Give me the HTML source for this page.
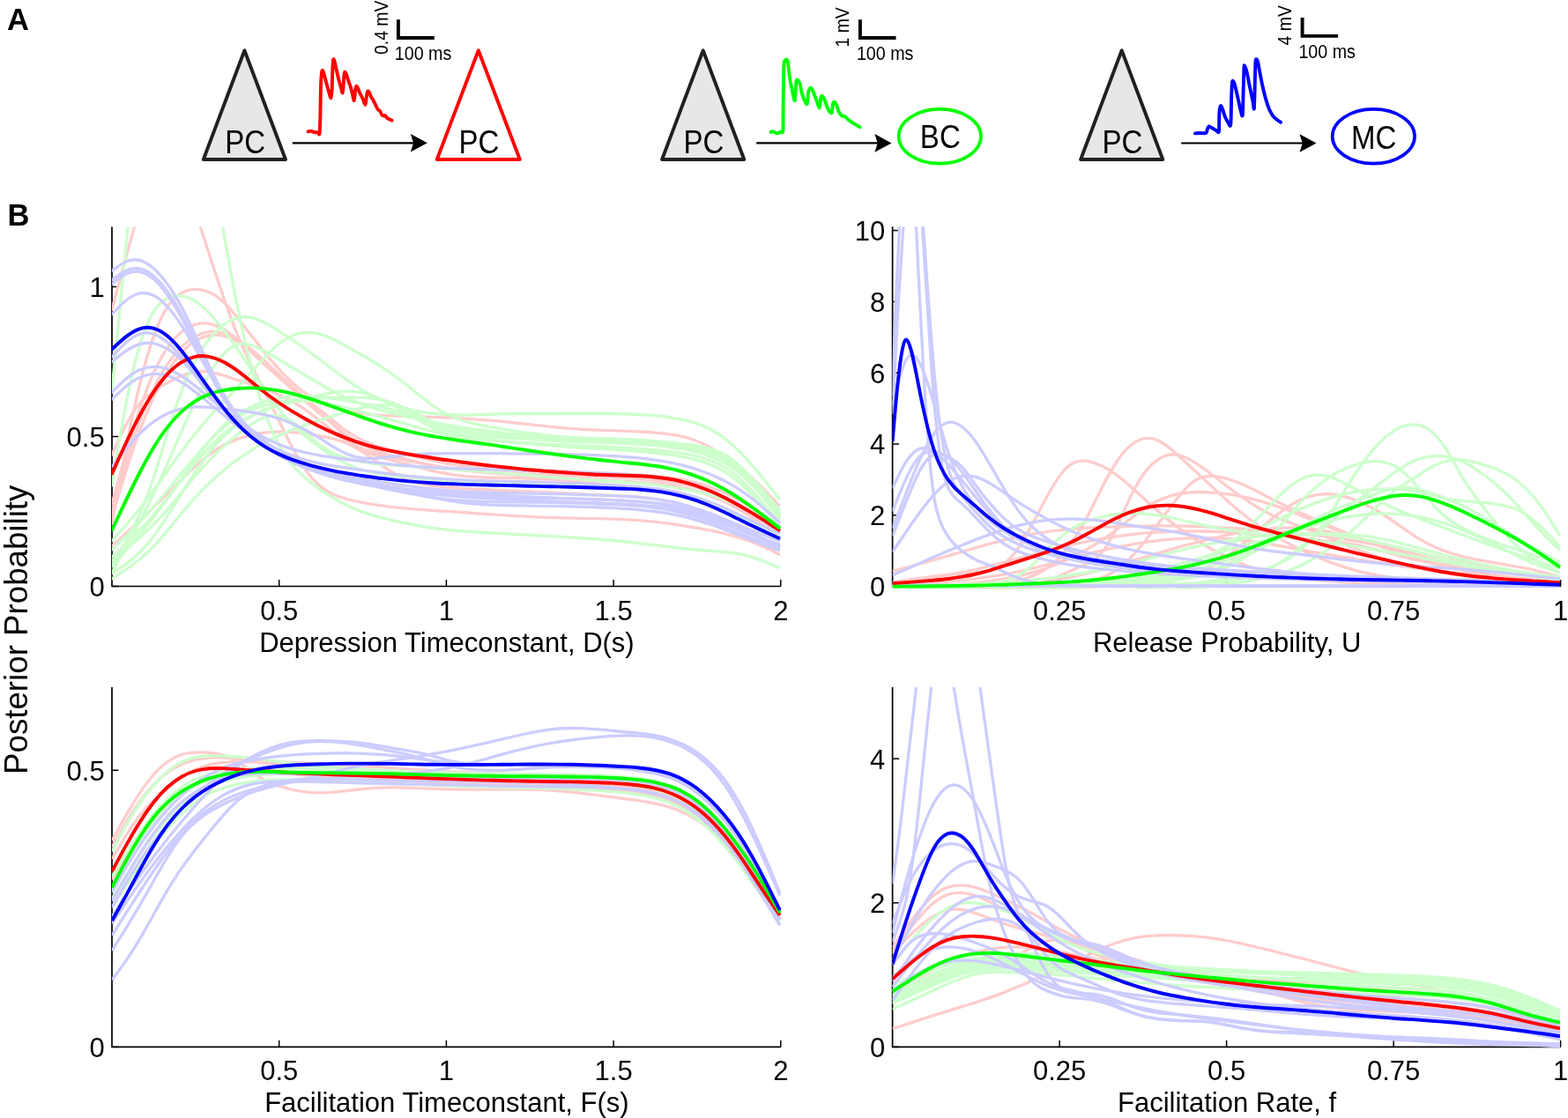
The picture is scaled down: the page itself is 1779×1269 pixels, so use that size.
<!DOCTYPE html><html><head><meta charset="utf-8"><title>Figure</title><style>html,body{margin:0;padding:0;background:#fff;}svg{display:block;}text{font-family:'Liberation Sans', Arial, Helvetica, sans-serif;}</style></head><body>
<svg width="1779" height="1269" viewBox="0 0 1779 1269">
<rect width="1779" height="1269" fill="#fff"/>
<text x="8" y="33.6" font-size="34.5" font-weight="bold">A</text>
<text x="8.5" y="255.7" font-size="34.5" font-weight="bold">B</text>
<polygon points="277.4,57.2 230.8,181 324.0,181" fill="#e6e7e8" stroke="#231f20" stroke-width="3.9" stroke-linejoin="round"/>
<text transform="translate(278.1 173.8) scale(0.885 1)" font-size="37.3" text-anchor="middle">PC</text>
<polygon points="797.7,57.2 751.1,181 844.3,181" fill="#e6e7e8" stroke="#231f20" stroke-width="3.9" stroke-linejoin="round"/>
<text transform="translate(798.4 173.8) scale(0.885 1)" font-size="37.3" text-anchor="middle">PC</text>
<polygon points="1272.7,57.2 1226.1,181 1319.3,181" fill="#e6e7e8" stroke="#231f20" stroke-width="3.9" stroke-linejoin="round"/>
<text transform="translate(1273.4 173.8) scale(0.885 1)" font-size="37.3" text-anchor="middle">PC</text>
<polygon points="542.8,57.2 495.8,181 589.8,181" fill="none" stroke="#ff0000" stroke-width="3.9" stroke-linejoin="round"/>
<text transform="translate(543.5 173.7) scale(0.885 1)" font-size="37.3" text-anchor="middle">PC</text>
<ellipse cx="1066.3" cy="154.8" rx="46.7" ry="30.85" fill="none" stroke="#00ff00" stroke-width="3.7"/>
<text transform="translate(1066.8 168.4) scale(0.885 1)" font-size="37.3" text-anchor="middle">BC</text>
<ellipse cx="1558.35" cy="154.8" rx="46.7" ry="30.85" fill="none" stroke="#0000ff" stroke-width="3.7"/>
<text transform="translate(1558.7 168.6) scale(0.885 1)" font-size="37.3" text-anchor="middle">MC</text>
<line x1="331.7" y1="162.3" x2="474.8" y2="162.3" stroke="#000" stroke-width="2.2"/>
<path d="M484.8 162.3 L465.8 152.0 L469.1 162.3 L465.8 172.6 Z" fill="#000"/>
<line x1="858.2" y1="162.4" x2="1001.4" y2="162.4" stroke="#000" stroke-width="2.2"/>
<path d="M1011.4 162.4 L992.4 152.1 L995.7 162.4 L992.4 172.7 Z" fill="#000"/>
<line x1="1340.2" y1="162.5" x2="1483.5" y2="162.5" stroke="#000" stroke-width="2.2"/>
<path d="M1493.5 162.5 L1474.5 152.2 L1477.8 162.5 L1474.5 172.8 Z" fill="#000"/>
<path d="M451.9 22.2 L451.9 43.0 L492.8 43.0" fill="none" stroke="#000" stroke-width="3.9" stroke-linejoin="miter"/>
<text transform="translate(447.8 67.7) scale(0.915 1)" font-size="21.5">100 ms</text>
<text transform="translate(439.7 62.0) rotate(-90) scale(0.89 1)" font-size="21.8">0.4 mV</text>
<path d="M975.9 22.2 L975.9 43.0 L1016.5 43.0" fill="none" stroke="#000" stroke-width="3.9" stroke-linejoin="miter"/>
<text transform="translate(971.9 67.7) scale(0.915 1)" font-size="21.5">100 ms</text>
<text transform="translate(962.8 53.5) rotate(-90) scale(0.89 1)" font-size="21.8">1 mV</text>
<path d="M1477.6 20.1 L1477.6 40.9 L1518.1 40.9" fill="none" stroke="#000" stroke-width="3.9" stroke-linejoin="miter"/>
<text transform="translate(1473.4 65.6) scale(0.915 1)" font-size="21.5">100 ms</text>
<text transform="translate(1464.7 51.4) rotate(-90) scale(0.89 1)" font-size="21.8">4 mV</text>
<path d="M349.5 149.4 C349.8 149.3 351.3 148.6 352.0 148.6 C352.7 148.6 354.2 149.4 355.0 149.6 C355.8 149.8 357.2 150.1 358.0 150.2 C358.8 150.3 360.4 150.3 361.0 150.5 C361.6 150.7 362.3 154.2 362.6 151.5 C362.9 148.8 363.2 137.5 363.4 130.0 C363.6 122.5 363.8 101.6 364.1 95.0 C364.4 88.4 364.9 82.3 365.3 80.6 C365.7 78.9 366.4 80.3 367.0 82.0 C367.6 83.7 369.2 90.1 370.0 93.0 C370.8 95.9 372.3 101.6 373.0 104.0 C373.7 106.4 375.0 111.7 375.5 111.2 C376.0 110.7 376.5 104.3 376.7 100.0 C376.9 95.7 377.1 83.3 377.3 79.0 C377.5 74.7 377.9 68.9 378.2 67.6 C378.5 66.3 378.9 67.9 379.3 69.0 C379.7 70.1 380.4 73.3 381.0 76.0 C381.6 78.7 383.2 85.8 384.0 89.0 C384.8 92.2 386.4 97.8 387.0 100.0 C387.6 102.2 388.3 106.0 388.7 105.5 C389.1 105.0 389.5 98.7 389.7 96.0 C389.9 93.3 390.2 86.9 390.4 85.0 C390.6 83.1 391.0 81.7 391.3 81.6 C391.6 81.5 392.3 82.7 392.8 84.0 C393.3 85.3 394.4 89.2 395.0 91.0 C395.6 92.8 396.8 95.5 397.4 97.4 C398.0 99.3 398.9 102.8 399.5 105.0 C400.1 107.2 401.3 114.5 401.8 114.2 C402.3 113.9 402.7 105.2 403.0 103.0 C403.3 100.8 403.8 98.5 404.1 98.0 C404.4 97.5 405.0 98.1 405.5 99.0 C406.0 99.9 407.2 103.3 408.0 105.0 C408.8 106.7 410.6 110.1 411.5 112.0 C412.4 113.9 413.8 119.1 414.4 119.0 C415.0 118.9 415.4 112.9 415.7 111.0 C416.0 109.1 416.3 106.0 416.6 105.0 C416.9 104.0 417.3 103.3 417.6 103.3 C417.9 103.3 418.5 104.1 419.0 105.0 C419.5 105.9 420.4 108.8 421.0 110.0 C421.6 111.2 422.9 112.7 423.6 113.9 C424.3 115.1 425.3 117.6 426.0 119.0 C426.7 120.4 428.1 123.5 428.8 124.4 C429.5 125.3 430.5 125.1 431.1 125.9 C431.7 126.7 432.7 129.7 433.3 130.4 C433.9 131.1 435.0 131.4 435.5 131.5 C436.0 131.6 436.6 130.8 437.1 131.1 C437.6 131.4 438.6 133.5 439.3 134.1 C440.0 134.7 441.3 135.2 442.0 135.5 C442.7 135.8 444.3 136.5 444.6 136.7" fill="none" stroke="#ff0000" stroke-width="3.9" stroke-linejoin="round" stroke-linecap="round"/>
<path d="M874.5 149.9 C874.9 149.8 876.6 149.1 877.5 149.3 C878.4 149.5 880.2 151.3 881.2 151.4 C882.2 151.5 884.1 150.1 885.0 149.8 C885.9 149.5 887.8 152.3 888.3 149.0 C888.8 145.7 888.5 134.2 888.6 125.0 C888.7 115.8 888.9 87.4 889.1 80.0 C889.3 72.6 889.5 71.2 890.0 69.5 C890.5 67.8 892.0 67.3 892.5 67.5 C893.0 67.7 893.5 68.2 894.0 71.2 C894.5 74.2 895.6 86.0 896.2 90.0 C896.8 94.0 897.8 98.0 898.5 101.2 C899.2 104.4 901.2 115.2 901.8 114.3 C902.4 113.4 902.9 97.4 903.3 94.2 C903.7 91.0 903.9 90.3 904.5 90.4 C905.1 90.5 906.7 92.9 907.5 95.2 C908.3 97.5 909.3 104.9 910.4 108.0 C911.5 111.1 914.7 118.9 915.6 118.4 C916.5 117.9 916.6 106.9 917.2 104.4 C917.8 101.9 919.1 99.7 919.8 99.6 C920.5 99.5 921.5 101.3 922.4 103.4 C923.3 105.5 925.9 112.9 926.9 115.4 C927.9 117.9 929.3 122.9 929.8 122.5 C930.3 122.1 930.6 114.5 931.0 112.6 C931.4 110.7 931.9 108.6 932.5 108.6 C933.1 108.6 934.2 110.3 935.2 112.4 C936.2 114.5 938.6 122.3 939.7 124.4 C940.8 126.5 942.9 128.9 943.6 128.1 C944.3 127.3 944.5 120.3 944.9 118.6 C945.3 116.9 945.8 115.5 946.4 115.7 C947.0 115.9 948.7 118.4 949.4 119.9 C950.1 121.4 950.8 125.1 951.6 126.7 C952.4 128.3 954.5 130.9 955.4 131.6 C956.3 132.3 957.6 131.5 958.4 131.9 C959.2 132.3 960.2 133.9 961.4 134.9 C962.6 135.9 965.5 138.1 967.4 139.4 C969.3 140.7 974.5 143.6 975.6 144.3" fill="none" stroke="#00ff00" stroke-width="3.9" stroke-linejoin="round" stroke-linecap="round"/>
<path d="M1356.0 151.4 C1356.7 151.3 1359.5 151.1 1361.2 151.0 C1362.9 150.9 1367.2 151.6 1368.4 151.0 C1369.6 150.4 1369.5 147.3 1369.9 146.3 C1370.3 145.3 1371.1 143.6 1371.7 143.4 C1372.3 143.2 1373.6 144.4 1374.7 145.0 C1375.8 145.6 1378.9 147.6 1380.0 148.2 C1381.1 148.8 1382.4 151.9 1382.9 149.2 C1383.4 146.5 1383.1 131.9 1383.4 128.0 C1383.7 124.1 1384.4 120.9 1384.8 120.2 C1385.2 119.5 1386.0 121.3 1386.7 122.9 C1387.4 124.5 1388.8 129.7 1389.7 131.9 C1390.6 134.1 1392.5 137.9 1393.4 139.2 C1394.3 140.5 1395.8 145.2 1396.3 141.6 C1396.8 138.0 1396.9 118.7 1397.1 112.4 C1397.3 106.1 1397.6 96.7 1397.9 94.0 C1398.2 91.3 1398.7 91.8 1399.1 92.1 C1399.5 92.4 1400.3 93.8 1400.9 96.0 C1401.5 98.2 1403.0 104.7 1403.9 108.7 C1404.8 112.7 1406.9 123.0 1407.7 125.9 C1408.5 128.8 1409.4 133.6 1409.8 130.8 C1410.2 128.0 1410.4 112.2 1410.6 105.0 C1410.8 97.8 1411.2 81.0 1411.4 77.0 C1411.6 73.0 1411.8 74.4 1412.2 74.9 C1412.6 75.4 1413.7 78.2 1414.4 81.0 C1415.1 83.8 1416.5 91.6 1417.4 96.0 C1418.3 100.4 1420.5 110.3 1421.2 113.9 C1421.9 117.5 1422.6 125.5 1422.9 123.3 C1423.2 121.1 1423.5 104.6 1423.7 97.5 C1423.9 90.4 1424.2 74.0 1424.5 70.0 C1424.8 66.0 1425.3 67.3 1425.7 67.4 C1426.1 67.5 1426.7 68.5 1427.2 70.5 C1427.7 72.5 1428.7 78.9 1429.4 82.5 C1430.1 86.1 1431.5 93.5 1432.4 97.5 C1433.3 101.5 1435.1 108.9 1436.1 112.4 C1437.1 115.9 1438.8 121.1 1439.9 123.7 C1441.0 126.3 1443.2 130.3 1444.4 131.9 C1445.6 133.5 1447.8 135.1 1448.9 136.0 C1450.0 136.9 1452.5 138.3 1453.0 138.7" fill="none" stroke="#0000ff" stroke-width="3.9" stroke-linejoin="round" stroke-linecap="round"/>
<path d="M127.0 257.4 L127.0 665.5 L885.8 665.5" fill="none" stroke="#000" stroke-width="1.7" stroke-linejoin="round"/>
<line x1="316.7" y1="665.5" x2="316.7" y2="658.0" stroke="#000" stroke-width="1.5"/>
<text x="316.7" y="703.5" font-size="31" text-anchor="middle">0.5</text>
<line x1="506.4" y1="665.5" x2="506.4" y2="658.0" stroke="#000" stroke-width="1.5"/>
<text x="506.4" y="703.5" font-size="31" text-anchor="middle">1</text>
<line x1="696.1" y1="665.5" x2="696.1" y2="658.0" stroke="#000" stroke-width="1.5"/>
<text x="696.1" y="703.5" font-size="31" text-anchor="middle">1.5</text>
<line x1="885.8" y1="665.5" x2="885.8" y2="658.0" stroke="#000" stroke-width="1.5"/>
<text x="885.8" y="703.5" font-size="31" text-anchor="middle">2</text>
<line x1="127.0" y1="665.5" x2="134.5" y2="665.5" stroke="#000" stroke-width="1.5"/>
<text x="118.7" y="676.8" font-size="31" text-anchor="end">0</text>
<line x1="127.0" y1="495.5" x2="134.5" y2="495.5" stroke="#000" stroke-width="1.5"/>
<text x="118.7" y="506.8" font-size="31" text-anchor="end">0.5</text>
<line x1="127.0" y1="325.5" x2="134.5" y2="325.5" stroke="#000" stroke-width="1.5"/>
<text x="118.7" y="336.8" font-size="31" text-anchor="end">1</text>
<text x="506.9" y="739.5" font-size="31" text-anchor="middle">Depression Timeconstant, D(s)</text>
<clipPath id="clipTL"><rect x="127.0" y="257.4" width="759.8" height="411.1"/></clipPath>
<g fill="none" stroke-linejoin="round" stroke-linecap="butt" clip-path="url(#clipTL)">
<path d="M126.6 352.7 C131.8 333.0 137.1 313.4 142.3 294.2 C147.5 275.1 152.8 256.3 158.0 237.5" stroke="#ffcccc" stroke-width="3.3"/>
<path d="M222.0 240.6 C227.3 257.0 232.5 273.5 237.8 289.7 C243.0 305.9 248.3 321.9 253.6 337.3 C258.8 352.7 264.1 367.1 269.4 379.9 C274.6 392.7 279.9 404.0 285.1 414.5 C290.4 425.1 295.7 435.2 300.9 445.7 C306.2 456.2 311.5 467.1 316.7 478.0 C322.0 488.9 327.2 499.8 332.5 509.6 C337.8 519.5 343.0 528.4 348.3 535.5 C353.5 542.7 358.8 548.2 364.1 552.5 C369.3 556.8 374.6 559.7 379.9 562.0 C385.1 564.2 390.4 565.7 395.6 567.0 C400.9 568.2 406.2 569.3 411.4 570.4 C416.7 571.4 422.0 572.3 427.2 573.1 C432.5 573.9 437.7 574.6 443.0 575.3 C448.3 575.9 453.5 576.4 458.8 576.9 C464.0 577.4 469.3 577.8 474.6 578.2 C479.8 578.6 485.1 579.0 490.4 579.3 C495.6 579.7 500.9 580.0 506.1 580.3 C511.4 580.7 516.7 581.1 521.9 581.4 C527.2 581.8 532.5 582.1 537.7 582.5 C543.0 582.9 548.2 583.2 553.5 583.6 C558.8 583.9 564.0 584.3 569.3 584.6 C574.5 584.9 579.8 585.3 585.1 585.6 C590.3 585.9 595.6 586.1 600.9 586.4 C606.1 586.7 611.4 586.9 616.6 587.2 C621.9 587.4 627.2 587.6 632.4 587.7 C637.7 587.9 643.0 588.0 648.2 588.1 C653.5 588.3 658.7 588.3 664.0 588.4 C669.3 588.5 674.5 588.6 679.8 588.7 C685.0 588.8 690.3 589.0 695.6 589.1 C700.8 589.3 706.1 589.5 711.4 589.8 C716.6 590.1 721.9 590.4 727.1 590.8 C732.4 591.2 737.7 591.7 742.9 592.3 C748.2 592.9 753.5 593.5 758.7 594.2 C764.0 595.0 769.2 595.7 774.5 596.6 C779.8 597.4 785.0 598.3 790.3 599.2 C795.5 600.1 800.8 601.1 806.1 602.2 C811.3 603.2 816.6 604.4 821.9 605.6 C827.1 606.9 832.4 608.3 837.6 609.9 C842.9 611.5 848.2 613.3 853.4 615.3 C858.7 617.4 864.0 619.6 869.2 622.1 C874.5 624.5 879.7 627.1 885.0 629.7" stroke="#ffcccc" stroke-width="3.3"/>
<path d="M126.6 595.6 C131.9 566.5 137.1 537.4 142.4 510.7 C147.7 484.0 152.9 459.4 158.2 437.9 C163.4 416.3 168.7 397.8 174.0 382.9 C179.2 368.0 184.5 356.6 189.8 348.6 C195.0 340.7 200.3 335.9 205.5 332.9 C210.8 329.8 216.1 328.5 221.3 328.4 C226.6 328.3 231.9 329.4 237.1 331.7 C242.4 333.9 247.7 337.4 252.9 342.2 C258.2 346.9 263.4 353.1 268.7 359.7 C274.0 366.3 279.2 373.3 284.5 380.1 C289.8 387.0 295.0 393.7 300.3 400.2 C305.5 406.6 310.8 412.8 316.1 418.6 C321.3 424.3 326.6 429.6 331.9 434.4 C337.1 439.2 342.4 443.4 347.7 447.1 C352.9 450.8 358.2 453.9 363.4 456.5 C368.7 459.1 374.0 461.2 379.2 462.9 C384.5 464.7 389.8 466.0 395.0 467.1 C400.3 468.2 405.5 469.0 410.8 469.7 C416.1 470.3 421.3 470.8 426.6 471.1 C431.9 471.5 437.1 471.7 442.4 471.9 C447.7 472.0 452.9 472.2 458.2 472.4 C463.4 472.5 468.7 472.7 474.0 472.8 C479.2 473.0 484.5 473.1 489.8 473.3 C495.0 473.5 500.3 473.7 505.5 474.0 C510.8 474.2 516.1 474.5 521.3 474.8 C526.6 475.1 531.9 475.4 537.1 475.8 C542.4 476.1 547.7 476.5 552.9 476.9 C558.2 477.4 563.4 477.8 568.7 478.4 C574.0 478.9 579.2 479.4 584.5 480.0 C589.8 480.5 595.0 481.1 600.3 481.7 C605.6 482.3 610.8 482.9 616.1 483.4 C621.3 484.0 626.6 484.5 631.9 485.0 C637.1 485.5 642.4 486.0 647.7 486.4 C652.9 486.8 658.2 487.2 663.4 487.5 C668.7 487.8 674.0 488.0 679.2 488.2 C684.5 488.4 689.8 488.6 695.0 488.7 C700.3 488.9 705.6 489.1 710.8 489.3 C716.1 489.5 721.3 489.7 726.6 490.0 C731.9 490.3 737.1 490.6 742.4 491.1 C747.7 491.5 752.9 492.0 758.2 492.7 C763.4 493.4 768.7 494.2 774.0 495.4 C779.2 496.6 784.5 498.2 789.8 500.2 C795.0 502.2 800.3 504.7 805.6 507.6 C810.8 510.5 816.1 513.8 821.3 517.4 C826.6 521.0 831.9 524.8 837.1 528.9 C842.4 533.0 847.7 537.4 852.9 542.2 C858.2 546.9 863.4 552.1 868.7 557.6 C874.0 563.0 879.2 568.7 884.5 574.4" stroke="#ffcccc" stroke-width="3.3"/>
<path d="M126.6 573.3 C131.9 554.0 137.1 534.8 142.4 516.4 C147.7 498.1 152.9 480.8 158.2 465.2 C163.5 449.6 168.7 435.7 174.0 423.9 C179.3 412.2 184.5 402.7 189.8 395.1 C195.1 387.4 200.3 381.6 205.6 377.2 C210.9 372.8 216.1 369.9 221.4 368.3 C226.7 366.7 231.9 366.4 237.2 367.3 C242.5 368.3 247.7 370.4 253.0 373.4 C258.3 376.4 263.5 380.3 268.8 384.7 C274.1 389.1 279.3 394.1 284.6 399.1 C289.9 404.2 295.1 409.3 300.4 414.1 C305.7 419.0 310.9 423.7 316.2 428.2 C321.5 432.8 326.7 437.2 332.0 441.4 C337.3 445.6 342.5 449.7 347.8 453.7 C353.1 457.8 358.3 461.8 363.6 465.9 C368.9 470.0 374.1 474.4 379.4 478.6 C384.7 482.9 389.9 487.0 395.2 490.7 C400.5 494.3 405.7 497.3 411.0 499.8 C416.3 502.3 421.5 504.3 426.8 506.0 C432.1 507.8 437.3 509.2 442.6 510.6 C447.9 512.0 453.1 513.3 458.4 514.7 C463.7 516.1 468.9 517.5 474.2 518.9 C479.5 520.2 484.7 521.5 490.0 522.7 C495.3 523.9 500.5 525.0 505.8 525.9 C511.1 526.8 516.3 527.6 521.6 528.3 C526.9 528.9 532.1 529.5 537.4 529.9 C542.7 530.4 547.9 530.8 553.2 531.1 C558.5 531.4 563.7 531.7 569.0 531.9 C574.3 532.1 579.5 532.3 584.8 532.5 C590.1 532.7 595.3 532.9 600.6 533.1 C605.9 533.3 611.1 533.5 616.4 533.7 C621.7 534.0 626.9 534.2 632.2 534.5 C637.5 534.7 642.7 535.0 648.0 535.3 C653.3 535.6 658.5 535.8 663.8 536.1 C669.1 536.4 674.3 536.7 679.6 536.9 C684.9 537.2 690.1 537.5 695.4 537.7 C700.7 537.9 705.9 538.2 711.2 538.4 C716.5 538.7 721.7 538.9 727.0 539.2 C732.3 539.5 737.5 539.9 742.8 540.4 C748.1 540.8 753.3 541.4 758.6 542.1 C763.9 542.8 769.1 543.6 774.4 544.7 C779.7 545.7 784.9 546.9 790.2 548.2 C795.5 549.6 800.7 551.2 806.0 553.0 C811.3 554.9 816.5 556.9 821.8 559.2 C827.1 561.6 832.3 564.1 837.6 567.0 C842.9 569.9 848.1 573.0 853.4 576.5 C858.7 580.0 863.9 583.8 869.2 587.7 C874.5 591.6 879.7 595.7 885.0 599.7" stroke="#ffcccc" stroke-width="3.3"/>
<path d="M126.6 582.7 C131.9 563.7 137.1 544.8 142.4 527.2 C147.7 509.5 152.9 493.3 158.2 479.1 C163.5 464.9 168.7 452.5 174.0 441.6 C179.3 430.8 184.5 421.5 189.8 413.7 C195.1 405.8 200.3 399.3 205.6 394.1 C210.9 388.8 216.1 384.8 221.4 381.9 C226.7 379.0 231.9 377.3 237.2 376.7 C242.5 376.0 247.7 376.5 253.0 378.0 C258.3 379.4 263.5 381.8 268.8 385.0 C274.1 388.1 279.3 391.9 284.6 396.2 C289.9 400.5 295.1 405.2 300.4 410.0 C305.7 414.8 310.9 419.7 316.2 424.6 C321.5 429.5 326.7 434.4 332.0 439.3 C337.3 444.2 342.5 449.0 347.8 453.8 C353.1 458.6 358.3 463.4 363.6 468.3 C368.9 473.2 374.1 478.1 379.4 483.3 C384.7 488.5 389.9 493.9 395.2 498.6 C400.5 503.3 405.7 507.1 411.0 510.1 C416.3 513.1 421.5 515.4 426.8 517.2 C432.1 519.1 437.3 520.5 442.6 521.9 C447.9 523.2 453.1 524.6 458.4 526.0 C463.7 527.4 468.9 528.9 474.2 530.3 C479.5 531.7 484.7 533.1 490.0 534.3 C495.3 535.5 500.5 536.6 505.8 537.5 C511.1 538.4 516.3 539.2 521.6 539.8 C526.9 540.4 532.1 540.8 537.4 541.2 C542.7 541.5 547.9 541.8 553.2 542.0 C558.5 542.2 563.7 542.3 569.0 542.4 C574.3 542.6 579.5 542.6 584.8 542.7 C590.1 542.8 595.3 543.0 600.6 543.1 C605.9 543.3 611.1 543.5 616.4 543.8 C621.7 544.0 626.9 544.3 632.2 544.5 C637.5 544.8 642.7 545.0 648.0 545.3 C653.3 545.5 658.5 545.7 663.8 545.8 C669.1 546.0 674.3 546.1 679.6 546.2 C684.9 546.3 690.1 546.4 695.4 546.6 C700.7 546.7 705.9 546.8 711.2 547.0 C716.5 547.3 721.7 547.5 727.0 547.8 C732.3 548.2 737.5 548.6 742.8 549.1 C748.1 549.6 753.3 550.3 758.6 551.0 C763.9 551.8 769.1 552.7 774.4 553.7 C779.7 554.8 784.9 556.0 790.2 557.4 C795.5 558.8 800.7 560.4 806.0 562.1 C811.3 563.9 816.5 565.9 821.8 568.1 C827.1 570.3 832.3 572.7 837.6 575.4 C842.9 578.1 848.1 581.1 853.4 584.3 C858.7 587.6 863.9 591.1 869.2 594.7 C874.5 598.3 879.7 602.0 885.0 605.8" stroke="#ffcccc" stroke-width="3.3"/>
<path d="M126.6 588.3 C131.9 570.6 137.1 552.9 142.4 536.2 C147.7 519.4 152.9 503.7 158.2 489.7 C163.5 475.6 168.7 463.0 174.0 451.8 C179.3 440.6 184.5 430.8 189.8 422.3 C195.1 413.8 200.3 406.6 205.6 400.8 C210.9 394.9 216.1 390.4 221.4 387.1 C226.7 383.8 231.9 381.7 237.2 380.8 C242.5 379.8 247.7 380.0 253.0 381.2 C258.3 382.3 263.5 384.4 268.8 387.3 C274.1 390.1 279.3 393.7 284.6 397.8 C289.9 402.0 295.1 406.6 300.4 411.4 C305.7 416.3 310.9 421.4 316.2 426.6 C321.5 431.7 326.7 437.0 332.0 442.0 C337.3 447.1 342.5 452.1 347.8 456.8 C353.1 461.4 358.3 465.9 363.6 470.3 C368.9 474.6 374.1 478.9 379.4 483.1 C384.7 487.3 389.9 491.5 395.2 495.3 C400.5 499.1 405.7 502.3 411.0 505.0 C416.3 507.6 421.5 509.8 426.8 511.6 C432.1 513.5 437.3 515.0 442.6 516.5 C447.9 517.9 453.1 519.2 458.4 520.6 C463.7 521.9 468.9 523.2 474.2 524.5 C479.5 525.7 484.7 526.9 490.0 528.0 C495.3 529.1 500.5 530.0 505.8 530.9 C511.1 531.7 516.3 532.5 521.6 533.1 C526.9 533.8 532.1 534.3 537.4 534.8 C542.7 535.3 547.9 535.7 553.2 536.0 C558.5 536.3 563.7 536.6 569.0 536.9 C574.3 537.1 579.5 537.3 584.8 537.5 C590.1 537.7 595.3 537.9 600.6 538.1 C605.9 538.2 611.1 538.4 616.4 538.6 C621.7 538.8 626.9 538.9 632.2 539.1 C637.5 539.3 642.7 539.5 648.0 539.7 C653.3 539.9 658.5 540.1 663.8 540.3 C669.1 540.5 674.3 540.7 679.6 541.0 C684.9 541.2 690.1 541.5 695.4 541.7 C700.7 542.0 705.9 542.3 711.2 542.6 C716.5 542.9 721.7 543.2 727.0 543.6 C732.3 544.0 737.5 544.5 742.8 545.0 C748.1 545.6 753.3 546.2 758.6 547.0 C763.9 547.8 769.1 548.6 774.4 549.7 C779.7 550.7 784.9 551.9 790.2 553.3 C795.5 554.7 800.7 556.3 806.0 558.1 C811.3 560.0 816.5 562.0 821.8 564.4 C827.1 566.7 832.3 569.3 837.6 572.1 C842.9 574.9 848.1 578.0 853.4 581.3 C858.7 584.6 863.9 588.1 869.2 591.7 C874.5 595.3 879.7 599.1 885.0 602.8" stroke="#ffcccc" stroke-width="3.3"/>
<path d="M126.6 517.1 C131.9 505.3 137.1 493.5 142.4 483.2 C147.7 472.9 152.9 464.6 158.2 458.3 C163.5 452.1 168.7 447.6 174.0 444.0 C179.3 440.4 184.5 437.5 189.8 434.6 C195.1 431.7 200.3 429.0 205.6 426.7 C210.9 424.5 216.1 422.8 221.4 422.0 C226.7 421.2 231.9 421.4 237.2 422.2 C242.5 423.0 247.7 424.4 253.0 426.0 C258.3 427.6 263.5 429.4 268.8 431.0 C274.1 432.7 279.3 434.4 284.6 436.1 C289.9 437.8 295.1 439.6 300.4 441.5 C305.7 443.4 310.9 445.5 316.2 447.9 C321.5 450.2 326.7 452.8 332.0 455.8 C337.3 458.8 342.5 462.3 347.8 466.1 C353.1 469.9 358.3 474.0 363.6 478.1 C368.9 482.3 374.1 486.4 379.4 490.4 C384.7 494.4 389.9 498.1 395.2 501.4 C400.5 504.6 405.7 507.3 411.0 509.5 C416.3 511.7 421.5 513.5 426.8 515.0 C432.1 516.5 437.3 517.7 442.6 518.8 C447.9 519.9 453.1 521.0 458.4 522.1 C463.7 523.2 468.9 524.3 474.2 525.3 C479.5 526.3 484.7 527.3 490.0 528.2 C495.3 529.2 500.5 530.1 505.8 530.9 C511.1 531.7 516.3 532.4 521.6 533.1 C526.9 533.7 532.1 534.3 537.4 534.9 C542.7 535.5 547.9 536.0 553.2 536.5 C558.5 537.0 563.7 537.4 569.0 537.8 C574.3 538.2 579.5 538.6 584.8 539.0 C590.1 539.4 595.3 539.7 600.6 540.1 C605.9 540.4 611.1 540.7 616.4 541.1 C621.7 541.4 626.9 541.7 632.2 542.1 C637.5 542.4 642.7 542.7 648.0 543.0 C653.3 543.3 658.5 543.6 663.8 543.9 C669.1 544.2 674.3 544.5 679.6 544.8 C684.9 545.1 690.1 545.4 695.4 545.7 C700.7 546.0 705.9 546.2 711.2 546.5 C716.5 546.8 721.7 547.2 727.0 547.6 C732.3 548.0 737.5 548.4 742.8 549.0 C748.1 549.5 753.3 550.2 758.6 551.0 C763.9 551.8 769.1 552.7 774.4 553.8 C779.7 554.9 784.9 556.2 790.2 557.7 C795.5 559.2 800.7 560.9 806.0 562.9 C811.3 564.8 816.5 567.0 821.8 569.4 C827.1 571.9 832.3 574.6 837.6 577.6 C842.9 580.7 848.1 584.0 853.4 587.6 C858.7 591.3 863.9 595.2 869.2 599.2 C874.5 603.3 879.7 607.5 885.0 611.7" stroke="#ffcccc" stroke-width="3.3"/>
<path d="M126.6 620.1 C131.9 615.3 137.1 610.6 142.4 605.8 C147.7 601.0 152.9 596.1 158.2 591.2 C163.5 586.2 168.7 581.2 174.0 576.1 C179.3 570.9 184.5 565.6 189.8 560.3 C195.1 555.0 200.3 549.7 205.6 544.6 C210.9 539.4 216.1 534.3 221.4 529.5 C226.7 524.8 231.9 520.3 237.2 516.3 C242.5 512.3 247.7 508.7 253.0 505.8 C258.3 502.9 263.5 500.5 268.8 498.6 C274.1 496.6 279.3 495.1 284.6 493.9 C289.9 492.7 295.1 491.7 300.4 491.1 C305.7 490.5 310.9 490.2 316.2 490.1 C321.5 490.0 326.7 490.3 332.0 490.7 C337.3 491.1 342.5 491.7 347.8 492.5 C353.1 493.2 358.3 494.1 363.6 495.0 C368.9 496.0 374.1 497.0 379.4 498.4 C384.7 499.8 389.9 501.5 395.2 503.9 C400.5 506.2 405.7 509.2 411.0 512.7 C416.3 516.1 421.5 519.9 426.8 523.7 C432.1 527.5 437.3 531.3 442.6 534.6 C447.9 537.9 453.1 540.7 458.4 542.9 C463.7 545.1 468.9 546.8 474.2 548.1 C479.5 549.4 484.7 550.3 490.0 551.1 C495.3 551.8 500.5 552.3 505.8 552.8 C511.1 553.3 516.3 553.7 521.6 554.1 C526.9 554.4 532.1 554.7 537.4 555.0 C542.7 555.3 547.9 555.5 553.2 555.7 C558.5 556.0 563.7 556.2 569.0 556.5 C574.3 556.7 579.5 557.0 584.8 557.2 C590.1 557.5 595.3 557.7 600.6 558.0 C605.9 558.3 611.1 558.5 616.4 558.8 C621.7 559.1 626.9 559.3 632.2 559.6 C637.5 559.9 642.7 560.1 648.0 560.4 C653.3 560.7 658.5 560.9 663.8 561.2 C669.1 561.4 674.3 561.7 679.6 561.9 C684.9 562.2 690.1 562.4 695.4 562.7 C700.7 562.9 705.9 563.2 711.2 563.4 C716.5 563.7 721.7 564.0 727.0 564.5 C732.3 564.9 737.5 565.4 742.8 566.1 C748.1 566.8 753.3 567.7 758.6 568.8 C763.9 569.9 769.1 571.2 774.4 572.8 C779.7 574.4 784.9 576.2 790.2 578.1 C795.5 580.1 800.7 582.2 806.0 584.5 C811.3 586.7 816.5 589.1 821.8 591.5 C827.1 593.9 832.3 596.4 837.6 598.9 C842.9 601.5 848.1 604.0 853.4 606.6 C858.7 609.2 863.9 611.7 869.2 614.3 C874.5 616.9 879.7 619.4 885.0 622.0" stroke="#ffcccc" stroke-width="3.3"/>
<path d="M126.6 446.8 C130.0 411.8 133.4 376.9 136.8 341.9 C140.2 307.0 143.6 271.9 147.0 236.9" stroke="#ccffcc" stroke-width="3.3"/>
<path d="M250.0 242.8 C255.3 272.8 260.6 302.9 265.9 330.2 C271.2 357.4 276.5 381.6 281.8 403.0 C287.0 424.3 292.3 443.1 297.6 459.3 C302.9 475.5 308.2 488.5 313.5 499.2 C318.8 509.8 324.1 518.1 329.4 524.9 C334.7 531.6 340.0 536.9 345.2 541.5 C350.5 546.2 355.8 550.3 361.1 554.1 C366.4 558.0 371.7 561.5 377.0 564.6 C382.3 567.8 387.6 570.7 392.9 573.2 C398.2 575.8 403.5 578.1 408.8 580.1 C414.0 582.1 419.3 583.9 424.6 585.4 C429.9 587.0 435.2 588.4 440.5 589.7 C445.8 591.0 451.1 592.2 456.4 593.2 C461.7 594.3 467.0 595.3 472.2 596.3 C477.5 597.2 482.8 598.1 488.1 598.8 C493.4 599.6 498.7 600.3 504.0 600.9 C509.3 601.5 514.6 602.0 519.9 602.5 C525.2 602.9 530.5 603.3 535.8 603.7 C541.0 604.0 546.3 604.3 551.6 604.6 C556.9 604.9 562.2 605.2 567.5 605.4 C572.8 605.7 578.1 606.0 583.4 606.3 C588.7 606.6 594.0 606.8 599.2 607.1 C604.5 607.4 609.8 607.7 615.1 608.0 C620.4 608.3 625.7 608.6 631.0 608.9 C636.3 609.3 641.6 609.6 646.9 609.9 C652.2 610.3 657.5 610.6 662.8 611.0 C668.0 611.4 673.3 611.8 678.6 612.2 C683.9 612.6 689.2 613.0 694.5 613.5 C699.8 614.0 705.1 614.5 710.4 615.0 C715.7 615.6 721.0 616.1 726.2 616.8 C731.5 617.4 736.8 618.0 742.1 618.7 C747.4 619.3 752.7 620.0 758.0 620.6 C763.3 621.2 768.6 621.9 773.9 622.4 C779.2 623.0 784.5 623.5 789.8 624.0 C795.0 624.5 800.3 624.9 805.6 625.2 C810.9 625.6 816.2 625.9 821.5 626.4 C826.8 626.9 832.1 627.6 837.4 628.5 C842.7 629.4 848.0 630.7 853.2 632.3 C858.5 634.0 863.8 635.9 869.1 638.0 C874.4 640.2 879.7 642.4 885.0 644.7" stroke="#ccffcc" stroke-width="3.3"/>
<path d="M126.6 552.2 C131.9 520.6 137.1 489.0 142.4 461.6 C147.7 434.2 152.9 410.7 158.2 392.8 C163.5 374.9 168.7 362.5 174.0 354.2 C179.3 345.9 184.5 341.4 189.8 338.7 C195.1 336.0 200.3 335.3 205.6 335.9 C210.9 336.5 216.1 338.5 221.4 341.8 C226.7 345.0 231.9 349.6 237.2 355.1 C242.5 360.6 247.7 367.1 253.0 373.9 C258.3 380.8 263.5 388.0 268.8 395.5 C274.1 403.0 279.3 410.8 284.6 418.7 C289.9 426.7 295.1 434.7 300.4 442.4 C305.7 450.2 310.9 457.5 316.2 464.2 C321.5 470.9 326.7 476.8 332.0 482.0 C337.3 487.3 342.5 492.0 347.8 496.3 C353.1 500.5 358.3 504.5 363.6 508.3 C368.9 512.0 374.1 515.6 379.4 518.8 C384.7 522.1 389.9 525.0 395.2 527.4 C400.5 529.9 405.7 531.8 411.0 533.4 C416.3 535.0 421.5 536.2 426.8 537.1 C432.1 538.1 437.3 538.8 442.6 539.4 C447.9 540.1 453.1 540.6 458.4 541.2 C463.7 541.8 468.9 542.3 474.2 542.8 C479.5 543.3 484.7 543.8 490.0 544.2 C495.3 544.6 500.5 545.0 505.8 545.3 C511.1 545.7 516.3 545.9 521.6 546.2 C526.9 546.4 532.1 546.6 537.4 546.8 C542.7 546.9 547.9 547.1 553.2 547.2 C558.5 547.3 563.7 547.4 569.0 547.5 C574.3 547.6 579.5 547.7 584.8 547.8 C590.1 547.8 595.3 547.9 600.6 548.0 C605.9 548.1 611.1 548.2 616.4 548.4 C621.7 548.5 626.9 548.6 632.2 548.8 C637.5 548.9 642.7 549.1 648.0 549.3 C653.3 549.5 658.5 549.7 663.8 549.9 C669.1 550.2 674.3 550.4 679.6 550.7 C684.9 551.0 690.1 551.3 695.4 551.6 C700.7 552.0 705.9 552.4 711.2 552.8 C716.5 553.2 721.7 553.7 727.0 554.2 C732.3 554.8 737.5 555.4 742.8 556.2 C748.1 556.9 753.3 557.8 758.6 558.8 C763.9 559.8 769.1 560.9 774.4 562.2 C779.7 563.5 784.9 565.0 790.2 566.6 C795.5 568.2 800.7 570.0 806.0 572.0 C811.3 574.0 816.5 576.1 821.8 578.4 C827.1 580.8 832.3 583.2 837.6 585.8 C842.9 588.3 848.1 591.0 853.4 593.6 C858.7 596.3 863.9 599.0 869.2 601.7 C874.5 604.5 879.7 607.2 885.0 610.0" stroke="#ccffcc" stroke-width="3.3"/>
<path d="M126.6 641.5 C131.9 633.1 137.1 624.6 142.4 615.3 C147.7 606.0 152.9 595.8 158.2 584.0 C163.5 572.2 168.7 558.6 174.0 542.7 C179.3 526.9 184.5 509.4 189.8 492.3 C195.0 475.3 200.3 458.9 205.6 445.0 C210.8 431.1 216.1 419.4 221.4 409.6 C226.6 399.7 231.9 391.7 237.2 385.1 C242.4 378.5 247.7 373.4 253.0 369.3 C258.2 365.3 263.5 362.5 268.8 361.0 C274.0 359.5 279.3 359.3 284.6 360.3 C289.8 361.3 295.1 363.4 300.4 366.2 C305.6 368.9 310.9 372.2 316.1 375.6 C321.4 379.0 326.7 382.5 331.9 386.0 C337.2 389.5 342.5 393.1 347.7 396.8 C353.0 400.6 358.3 404.6 363.5 408.6 C368.8 412.7 374.1 416.8 379.3 420.8 C384.6 424.8 389.9 428.7 395.1 432.4 C400.4 436.1 405.7 439.5 410.9 442.6 C416.2 445.7 421.5 448.5 426.7 451.1 C432.0 453.7 437.3 455.9 442.5 457.9 C447.8 460.0 453.0 461.7 458.3 463.2 C463.6 464.7 468.8 465.9 474.1 466.9 C479.4 467.9 484.6 468.7 489.9 469.3 C495.2 469.9 500.4 470.4 505.7 470.6 C511.0 470.9 516.2 471.0 521.5 471.0 C526.8 471.1 532.0 471.0 537.3 470.8 C542.6 470.7 547.8 470.5 553.1 470.3 C558.4 470.2 563.6 470.0 568.9 469.9 C574.1 469.8 579.4 469.7 584.7 469.7 C589.9 469.6 595.2 469.6 600.5 469.6 C605.7 469.6 611.0 469.6 616.3 469.6 C621.5 469.6 626.8 469.6 632.1 469.6 C637.3 469.6 642.6 469.6 647.9 469.5 C653.1 469.5 658.4 469.5 663.7 469.5 C668.9 469.4 674.2 469.4 679.5 469.5 C684.7 469.5 690.0 469.5 695.2 469.6 C700.5 469.7 705.8 469.8 711.0 470.0 C716.3 470.1 721.6 470.3 726.8 470.6 C732.1 470.9 737.4 471.3 742.6 471.7 C747.9 472.2 753.2 472.8 758.4 473.5 C763.7 474.3 769.0 475.2 774.2 476.4 C779.5 477.5 784.8 478.9 790.0 480.6 C795.3 482.4 800.6 484.5 805.8 487.2 C811.1 489.9 816.4 493.2 821.6 497.2 C826.9 501.2 832.1 505.9 837.4 511.0 C842.7 516.2 847.9 521.9 853.2 527.9 C858.5 534.0 863.7 540.4 869.0 547.0 C874.3 553.7 879.5 560.5 884.8 567.3" stroke="#ccffcc" stroke-width="3.3"/>
<path d="M126.6 650.3 C131.9 641.0 137.1 631.6 142.4 622.1 C147.7 612.6 152.9 602.8 158.2 592.7 C163.5 582.6 168.7 572.1 174.0 561.0 C179.3 550.0 184.5 538.3 189.8 526.4 C195.1 514.5 200.3 502.4 205.6 490.5 C210.9 478.6 216.1 466.8 221.4 455.7 C226.7 444.6 231.9 434.2 237.2 425.1 C242.5 416.1 247.7 408.5 253.0 402.7 C258.3 396.9 263.5 392.9 268.8 391.2 C274.1 389.6 279.3 390.1 284.6 391.7 C289.9 393.3 295.1 395.9 300.4 398.7 C305.7 401.5 310.9 404.7 316.2 407.9 C321.5 411.1 326.7 414.3 332.0 417.5 C337.3 420.6 342.5 423.8 347.8 426.9 C353.1 430.0 358.3 433.1 363.6 436.1 C368.9 439.1 374.1 442.1 379.4 444.9 C384.7 447.6 389.9 450.3 395.2 452.6 C400.5 455.0 405.7 457.1 411.0 459.0 C416.3 460.9 421.5 462.6 426.8 464.1 C432.1 465.6 437.3 467.0 442.6 468.3 C447.9 469.7 453.1 470.9 458.4 472.1 C463.7 473.4 468.9 474.6 474.2 475.7 C479.5 476.9 484.7 478.0 490.0 479.0 C495.3 480.1 500.5 481.1 505.8 482.0 C511.1 483.0 516.3 483.9 521.6 484.7 C526.9 485.5 532.1 486.3 537.4 487.1 C542.7 487.8 547.9 488.5 553.2 489.2 C558.5 489.8 563.7 490.5 569.0 491.1 C574.3 491.7 579.5 492.3 584.8 492.8 C590.1 493.3 595.3 493.8 600.6 494.3 C605.9 494.7 611.1 495.2 616.4 495.5 C621.7 495.9 626.9 496.3 632.2 496.6 C637.5 496.8 642.7 497.1 648.0 497.3 C653.3 497.5 658.5 497.7 663.8 497.8 C669.1 498.0 674.3 498.1 679.6 498.3 C684.9 498.5 690.1 498.6 695.4 498.8 C700.7 499.0 705.9 499.2 711.2 499.5 C716.5 499.8 721.7 500.1 727.0 500.6 C732.3 501.0 737.5 501.4 742.8 502.0 C748.1 502.5 753.3 503.1 758.6 503.7 C763.9 504.3 769.1 505.0 774.4 505.7 C779.7 506.5 784.9 507.2 790.2 508.1 C795.5 509.0 800.7 510.2 806.0 511.7 C811.3 513.3 816.5 515.3 821.8 518.1 C827.1 520.8 832.3 524.2 837.6 528.5 C842.9 532.7 848.1 537.7 853.4 543.1 C858.7 548.6 863.9 554.5 869.2 560.6 C874.5 566.8 879.7 573.2 885.0 579.6" stroke="#ccffcc" stroke-width="3.3"/>
<path d="M126.6 614.3 C131.9 608.5 137.1 602.6 142.4 596.6 C147.7 590.5 152.9 584.3 158.2 577.8 C163.5 571.2 168.7 564.3 174.0 557.0 C179.3 549.8 184.5 542.3 189.8 534.8 C195.1 527.3 200.3 519.9 205.6 512.9 C210.9 505.8 216.1 498.9 221.4 492.4 C226.7 485.8 231.9 479.6 237.2 473.7 C242.5 467.7 247.7 462.1 253.0 456.7 C258.3 451.2 263.5 445.9 268.8 440.4 C274.1 434.9 279.3 429.2 284.6 423.2 C289.9 417.3 295.1 411.2 300.4 405.5 C305.7 399.8 310.9 394.7 316.2 390.5 C321.5 386.3 326.7 383.0 332.0 380.7 C337.3 378.5 342.5 377.4 347.8 377.3 C353.1 377.2 358.3 378.0 363.6 379.5 C368.9 381.0 374.1 383.2 379.4 385.7 C384.7 388.2 389.9 391.1 395.2 394.1 C400.5 397.1 405.7 400.2 411.0 403.2 C416.3 406.2 421.5 409.3 426.8 412.6 C432.1 415.8 437.3 419.2 442.6 422.8 C447.9 426.5 453.1 430.4 458.4 434.6 C463.7 438.7 468.9 443.1 474.2 447.3 C479.5 451.6 484.7 455.7 490.0 459.5 C495.3 463.3 500.5 466.7 505.8 469.4 C511.1 472.2 516.3 474.5 521.6 476.3 C526.9 478.2 532.1 479.7 537.4 480.9 C542.7 482.2 547.9 483.2 553.2 484.1 C558.5 485.1 563.7 485.9 569.0 486.8 C574.3 487.7 579.5 488.5 584.8 489.3 C590.1 490.2 595.3 490.9 600.6 491.7 C605.9 492.4 611.1 493.0 616.4 493.7 C621.7 494.3 626.9 494.8 632.2 495.3 C637.5 495.8 642.7 496.1 648.0 496.5 C653.3 496.8 658.5 497.0 663.8 497.2 C669.1 497.4 674.3 497.6 679.6 497.7 C684.9 497.9 690.1 498.0 695.4 498.1 C700.7 498.3 705.9 498.5 711.2 498.7 C716.5 498.9 721.7 499.1 727.0 499.5 C732.3 499.8 737.5 500.2 742.8 500.6 C748.1 501.0 753.3 501.5 758.6 502.0 C763.9 502.6 769.1 503.2 774.4 503.8 C779.7 504.4 784.9 505.0 790.2 505.8 C795.5 506.6 800.7 507.7 806.0 509.3 C811.3 510.8 816.5 512.9 821.8 515.8 C827.1 518.7 832.3 522.5 837.6 527.2 C842.9 531.9 848.1 537.4 853.4 543.5 C858.7 549.6 863.9 556.3 869.2 563.2 C874.5 570.1 879.7 577.3 885.0 584.5" stroke="#ccffcc" stroke-width="3.3"/>
<path d="M126.6 657.1 C131.9 653.7 137.1 650.3 142.4 646.7 C147.7 643.1 152.9 639.3 158.2 635.0 C163.5 630.7 168.7 625.9 174.0 620.5 C179.3 615.0 184.5 608.8 189.8 602.5 C195.1 596.1 200.3 589.4 205.6 583.0 C210.9 576.6 216.1 570.5 221.4 564.8 C226.7 559.0 231.9 553.7 237.2 548.6 C242.5 543.6 247.7 538.9 253.0 534.5 C258.3 530.1 263.5 526.0 268.8 522.2 C274.1 518.4 279.3 514.9 284.6 511.6 C289.9 508.3 295.1 505.2 300.4 502.3 C305.7 499.5 310.9 496.8 316.2 494.4 C321.5 492.0 326.7 489.8 332.0 487.7 C337.3 485.7 342.5 483.8 347.8 481.9 C353.1 480.1 358.3 478.4 363.6 476.7 C368.9 475.0 374.1 473.3 379.4 471.7 C384.7 470.0 389.9 468.5 395.2 467.0 C400.5 465.5 405.7 464.0 411.0 462.8 C416.3 461.6 421.5 460.6 426.8 460.0 C432.1 459.5 437.3 459.3 442.6 459.9 C447.9 460.4 453.1 461.7 458.4 463.6 C463.7 465.5 468.9 468.0 474.2 470.6 C479.5 473.3 484.7 476.0 490.0 478.6 C495.3 481.1 500.5 483.4 505.8 485.1 C511.1 486.9 516.3 488.2 521.6 489.2 C526.9 490.3 532.1 491.0 537.4 491.5 C542.7 492.1 547.9 492.5 553.2 492.8 C558.5 493.2 563.7 493.5 569.0 493.9 C574.3 494.3 579.5 494.7 584.8 495.1 C590.1 495.5 595.3 495.9 600.6 496.3 C605.9 496.7 611.1 497.1 616.4 497.5 C621.7 497.9 626.9 498.2 632.2 498.5 C637.5 498.8 642.7 499.1 648.0 499.3 C653.3 499.5 658.5 499.7 663.8 499.9 C669.1 500.0 674.3 500.2 679.6 500.3 C684.9 500.5 690.1 500.7 695.4 500.9 C700.7 501.1 705.9 501.3 711.2 501.5 C716.5 501.8 721.7 502.1 727.0 502.5 C732.3 502.9 737.5 503.3 742.8 503.8 C748.1 504.3 753.3 504.9 758.6 505.5 C763.9 506.2 769.1 506.9 774.4 507.7 C779.7 508.5 784.9 509.3 790.2 510.3 C795.5 511.4 800.7 512.6 806.0 514.4 C811.3 516.2 816.5 518.5 821.8 521.5 C827.1 524.6 832.3 528.5 837.6 533.2 C842.9 537.9 848.1 543.4 853.4 549.4 C858.7 555.4 863.9 561.9 869.2 568.7 C874.5 575.5 879.7 582.5 885.0 589.5" stroke="#ccffcc" stroke-width="3.3"/>
<path d="M126.6 651.1 C131.9 647.7 137.1 644.3 142.4 640.4 C147.7 636.6 152.9 632.3 158.2 627.2 C163.5 622.0 168.7 615.9 174.0 608.9 C179.3 601.8 184.5 594.0 189.8 585.8 C195.1 577.7 200.3 569.1 205.6 560.8 C210.9 552.4 216.1 544.0 221.4 536.2 C226.7 528.3 231.9 520.8 237.2 514.1 C242.5 507.4 247.7 501.4 253.0 496.2 C258.3 491.0 263.5 486.5 268.8 482.6 C274.1 478.8 279.3 475.5 284.6 472.7 C289.9 470.0 295.1 467.6 300.4 465.6 C305.7 463.6 310.9 461.8 316.2 460.3 C321.5 458.8 326.7 457.5 332.0 456.5 C337.3 455.4 342.5 454.5 347.8 453.8 C353.1 453.1 358.3 452.6 363.6 452.2 C368.9 451.8 374.1 451.5 379.4 451.3 C384.7 451.2 389.9 451.1 395.2 451.1 C400.5 451.1 405.7 451.2 411.0 451.4 C416.3 451.6 421.5 452.0 426.8 452.8 C432.1 453.6 437.3 454.7 442.6 456.3 C447.9 458.0 453.1 460.2 458.4 462.9 C463.7 465.6 468.9 468.7 474.2 471.9 C479.5 475.0 484.7 478.2 490.0 481.1 C495.3 484.0 500.5 486.4 505.8 488.3 C511.1 490.2 516.3 491.6 521.6 492.7 C526.9 493.7 532.1 494.4 537.4 494.9 C542.7 495.4 547.9 495.7 553.2 496.0 C558.5 496.2 563.7 496.5 569.0 496.8 C574.3 497.1 579.5 497.4 584.8 497.7 C590.1 498.0 595.3 498.4 600.6 498.7 C605.9 499.0 611.1 499.4 616.4 499.7 C621.7 500.0 626.9 500.3 632.2 500.6 C637.5 500.8 642.7 501.1 648.0 501.3 C653.3 501.5 658.5 501.7 663.8 501.9 C669.1 502.0 674.3 502.2 679.6 502.4 C684.9 502.5 690.1 502.7 695.4 502.9 C700.7 503.1 705.9 503.3 711.2 503.5 C716.5 503.8 721.7 504.0 727.0 504.4 C732.3 504.7 737.5 505.1 742.8 505.6 C748.1 506.0 753.3 506.6 758.6 507.3 C763.9 508.0 769.1 508.8 774.4 509.7 C779.7 510.7 784.9 511.8 790.2 513.1 C795.5 514.4 800.7 516.1 806.0 518.1 C811.3 520.1 816.5 522.5 821.8 525.5 C827.1 528.5 832.3 532.1 837.6 536.2 C842.9 540.4 848.1 545.1 853.4 550.2 C858.7 555.3 863.9 560.8 869.2 566.4 C874.5 572.0 879.7 577.8 885.0 583.7" stroke="#ccffcc" stroke-width="3.3"/>
<path d="M126.6 643.3 C131.9 637.3 137.1 631.4 142.4 625.3 C147.7 619.3 152.9 613.1 158.2 606.8 C163.5 600.5 168.7 594.0 174.0 587.3 C179.3 580.5 184.5 573.5 189.8 566.2 C195.1 559.0 200.3 551.5 205.6 544.1 C210.9 536.7 216.1 529.3 221.4 522.2 C226.7 515.0 231.9 508.0 237.2 501.5 C242.5 495.0 247.7 489.0 253.0 483.8 C258.3 478.6 263.5 474.4 268.8 470.8 C274.1 467.2 279.3 464.4 284.6 461.9 C289.9 459.5 295.1 457.5 300.4 455.9 C305.7 454.2 310.9 452.9 316.2 451.9 C321.5 450.9 326.7 450.3 332.0 449.9 C337.3 449.5 342.5 449.4 347.8 449.6 C353.1 449.7 358.3 450.0 363.6 450.5 C368.9 451.0 374.1 451.7 379.4 452.5 C384.7 453.2 389.9 454.1 395.2 455.0 C400.5 455.9 405.7 456.8 411.0 457.7 C416.3 458.7 421.5 459.6 426.8 460.7 C432.1 461.8 437.3 463.0 442.6 464.3 C447.9 465.7 453.1 467.2 458.4 468.8 C463.7 470.4 468.9 472.2 474.2 473.9 C479.5 475.6 484.7 477.3 490.0 478.9 C495.3 480.5 500.5 481.9 505.8 483.1 C511.1 484.3 516.3 485.3 521.6 486.2 C526.9 487.1 532.1 487.9 537.4 488.6 C542.7 489.2 547.9 489.8 553.2 490.4 C558.5 491.0 563.7 491.5 569.0 492.1 C574.3 492.6 579.5 493.1 584.8 493.6 C590.1 494.2 595.3 494.7 600.6 495.1 C605.9 495.6 611.1 496.0 616.4 496.4 C621.7 496.8 626.9 497.2 632.2 497.5 C637.5 497.8 642.7 498.1 648.0 498.3 C653.3 498.5 658.5 498.7 663.8 498.9 C669.1 499.0 674.3 499.2 679.6 499.3 C684.9 499.5 690.1 499.7 695.4 499.9 C700.7 500.0 705.9 500.3 711.2 500.5 C716.5 500.8 721.7 501.1 727.0 501.5 C732.3 501.9 737.5 502.4 742.8 502.9 C748.1 503.4 753.3 504.0 758.6 504.6 C763.9 505.3 769.1 506.0 774.4 506.7 C779.7 507.4 784.9 508.2 790.2 509.1 C795.5 510.1 800.7 511.2 806.0 512.9 C811.3 514.6 816.5 516.8 821.8 519.7 C827.1 522.7 832.3 526.5 837.6 531.1 C842.9 535.8 848.1 541.3 853.4 547.3 C858.7 553.3 863.9 559.8 869.2 566.6 C874.5 573.4 879.7 580.5 885.0 587.5" stroke="#ccffcc" stroke-width="3.3"/>
<path d="M126.6 632.3 C131.9 627.4 137.1 622.6 142.4 617.6 C147.7 612.6 152.9 607.5 158.2 602.0 C163.5 596.6 168.7 590.9 174.0 584.8 C179.3 578.6 184.5 572.2 189.8 565.6 C195.1 559.0 200.3 552.2 205.6 545.6 C210.9 538.9 216.1 532.3 221.4 526.0 C226.7 519.7 231.9 513.7 237.2 508.1 C242.5 502.6 247.7 497.5 253.0 493.0 C258.3 488.6 263.5 484.7 268.8 481.3 C274.1 477.9 279.3 474.9 284.6 472.3 C289.9 469.6 295.1 467.2 300.4 465.0 C305.7 462.9 310.9 461.0 316.2 459.5 C321.5 458.0 326.7 456.9 332.0 456.1 C337.3 455.4 342.5 455.1 347.8 455.2 C353.1 455.3 358.3 455.8 363.6 456.6 C368.9 457.4 374.1 458.4 379.4 459.6 C384.7 460.8 389.9 462.1 395.2 463.5 C400.5 464.9 405.7 466.2 411.0 467.6 C416.3 469.0 421.5 470.4 426.8 471.8 C432.1 473.2 437.3 474.6 442.6 476.1 C447.9 477.5 453.1 479.0 458.4 480.6 C463.7 482.1 468.9 483.7 474.2 485.2 C479.5 486.7 484.7 488.1 490.0 489.4 C495.3 490.8 500.5 492.0 505.8 493.0 C511.1 494.1 516.3 495.0 521.6 495.8 C526.9 496.6 532.1 497.3 537.4 497.9 C542.7 498.5 547.9 499.0 553.2 499.5 C558.5 499.9 563.7 500.4 569.0 500.8 C574.3 501.2 579.5 501.6 584.8 501.9 C590.1 502.3 595.3 502.6 600.6 502.9 C605.9 503.3 611.1 503.6 616.4 503.8 C621.7 504.1 626.9 504.4 632.2 504.6 C637.5 504.9 642.7 505.1 648.0 505.4 C653.3 505.6 658.5 505.8 663.8 506.1 C669.1 506.3 674.3 506.5 679.6 506.8 C684.9 507.0 690.1 507.3 695.4 507.5 C700.7 507.8 705.9 508.1 711.2 508.4 C716.5 508.7 721.7 509.1 727.0 509.4 C732.3 509.8 737.5 510.2 742.8 510.7 C748.1 511.2 753.3 511.7 758.6 512.4 C763.9 513.0 769.1 513.8 774.4 514.7 C779.7 515.6 784.9 516.6 790.2 517.9 C795.5 519.1 800.7 520.7 806.0 522.7 C811.3 524.7 816.5 527.2 821.8 530.3 C827.1 533.4 832.3 537.3 837.6 541.8 C842.9 546.4 848.1 551.6 853.4 557.2 C858.7 562.9 863.9 569.0 869.2 575.3 C874.5 581.6 879.7 588.1 885.0 594.6" stroke="#ccffcc" stroke-width="3.3"/>
<path d="M126.6 624.2 C131.9 619.1 137.1 614.0 142.4 608.8 C147.7 603.6 152.9 598.3 158.2 592.8 C163.5 587.3 168.7 581.6 174.0 575.6 C179.3 569.6 184.5 563.3 189.8 556.9 C195.1 550.5 200.3 543.9 205.6 537.5 C210.9 531.0 216.1 524.6 221.4 518.5 C226.7 512.4 231.9 506.5 237.2 501.1 C242.5 495.6 247.7 490.6 253.0 486.1 C258.3 481.6 263.5 477.6 268.8 474.3 C274.1 470.9 279.3 468.1 284.6 465.8 C289.9 463.4 295.1 461.6 300.4 460.1 C305.7 458.5 310.9 457.4 316.2 456.5 C321.5 455.5 326.7 454.7 332.0 454.0 C337.3 453.2 342.5 452.5 347.8 451.6 C353.1 450.7 358.3 449.6 363.6 448.4 C368.9 447.3 374.1 446.2 379.4 445.4 C384.7 444.6 389.9 444.1 395.2 444.1 C400.5 444.2 405.7 444.8 411.0 445.9 C416.3 447.1 421.5 448.8 426.8 450.9 C432.1 452.9 437.3 455.4 442.6 458.1 C447.9 460.9 453.1 463.9 458.4 467.0 C463.7 470.1 468.9 473.2 474.2 476.3 C479.5 479.4 484.7 482.3 490.0 484.9 C495.3 487.5 500.5 489.7 505.8 491.5 C511.1 493.3 516.3 494.7 521.6 495.7 C526.9 496.8 532.1 497.6 537.4 498.2 C542.7 498.8 547.9 499.3 553.2 499.7 C558.5 500.1 563.7 500.5 569.0 501.0 C574.3 501.4 579.5 501.9 584.8 502.4 C590.1 502.8 595.3 503.3 600.6 503.7 C605.9 504.2 611.1 504.7 616.4 505.1 C621.7 505.6 626.9 506.0 632.2 506.4 C637.5 506.8 642.7 507.2 648.0 507.5 C653.3 507.9 658.5 508.2 663.8 508.5 C669.1 508.8 674.3 509.1 679.6 509.4 C684.9 509.7 690.1 510.0 695.4 510.3 C700.7 510.6 705.9 511.0 711.2 511.3 C716.5 511.7 721.7 512.1 727.0 512.5 C732.3 512.9 737.5 513.4 742.8 514.0 C748.1 514.5 753.3 515.2 758.6 515.9 C763.9 516.7 769.1 517.6 774.4 518.6 C779.7 519.6 784.9 520.8 790.2 522.2 C795.5 523.6 800.7 525.3 806.0 527.4 C811.3 529.5 816.5 532.1 821.8 535.2 C827.1 538.4 832.3 542.2 837.6 546.7 C842.9 551.1 848.1 556.2 853.4 561.7 C858.7 567.1 863.9 573.0 869.2 579.1 C874.5 585.1 879.7 591.4 885.0 597.6" stroke="#ccffcc" stroke-width="3.3"/>
<path d="M126.6 636.2 C131.9 632.1 137.1 628.0 142.4 623.7 C147.7 619.5 152.9 615.1 158.2 610.4 C163.5 605.8 168.7 600.8 174.0 595.5 C179.3 590.2 184.5 584.4 189.8 578.3 C195.1 572.2 200.3 565.8 205.6 559.4 C210.9 553.0 216.1 546.6 221.4 540.4 C226.7 534.2 231.9 528.3 237.2 522.8 C242.5 517.3 247.7 512.2 253.0 507.4 C258.3 502.5 263.5 498.0 268.8 493.8 C274.1 489.6 279.3 485.5 284.6 482.0 C289.9 478.5 295.1 475.5 300.4 473.7 C305.7 471.8 310.9 471.0 316.2 471.9 C321.5 472.7 326.7 475.4 332.0 479.2 C337.3 482.9 342.5 487.6 347.8 492.4 C353.1 497.1 358.3 501.8 363.6 505.6 C368.9 509.3 374.1 512.4 379.4 514.9 C384.7 517.4 389.9 519.3 395.2 520.8 C400.5 522.3 405.7 523.5 411.0 524.4 C416.3 525.3 421.5 526.0 426.8 526.5 C432.1 527.0 437.3 527.4 442.6 527.7 C447.9 528.1 453.1 528.4 458.4 528.8 C463.7 529.2 468.9 529.6 474.2 530.0 C479.5 530.4 484.7 530.8 490.0 531.2 C495.3 531.6 500.5 532.0 505.8 532.4 C511.1 532.7 516.3 533.1 521.6 533.4 C526.9 533.7 532.1 534.1 537.4 534.4 C542.7 534.8 547.9 535.1 553.2 535.5 C558.5 535.9 563.7 536.3 569.0 536.8 C574.3 537.2 579.5 537.7 584.8 538.2 C590.1 538.6 595.3 539.1 600.6 539.6 C605.9 540.1 611.1 540.6 616.4 541.0 C621.7 541.5 626.9 541.9 632.2 542.4 C637.5 542.8 642.7 543.1 648.0 543.5 C653.3 543.8 658.5 544.1 663.8 544.4 C669.1 544.7 674.3 545.0 679.6 545.3 C684.9 545.6 690.1 545.9 695.4 546.3 C700.7 546.6 705.9 546.9 711.2 547.3 C716.5 547.7 721.7 548.1 727.0 548.6 C732.3 549.1 737.5 549.7 742.8 550.3 C748.1 550.9 753.3 551.6 758.6 552.3 C763.9 553.1 769.1 553.9 774.4 554.9 C779.7 555.8 784.9 556.9 790.2 558.0 C795.5 559.2 800.7 560.5 806.0 562.0 C811.3 563.4 816.5 565.1 821.8 567.0 C827.1 569.0 832.3 571.2 837.6 573.6 C842.9 576.0 848.1 578.7 853.4 581.6 C858.7 584.4 863.9 587.4 869.2 590.5 C874.5 593.5 879.7 596.7 885.0 599.9" stroke="#ccffcc" stroke-width="3.3"/>
<path d="M126.6 307.7 C131.9 303.7 137.1 299.6 142.4 297.2 C147.7 294.8 152.9 294.1 158.2 295.4 C163.5 296.7 168.7 299.9 174.0 304.5 C179.3 309.1 184.5 315.0 189.8 322.3 C195.1 329.6 200.3 338.2 205.6 347.9 C210.9 357.7 216.1 368.8 221.4 380.4 C226.7 391.9 231.9 404.0 237.2 415.2 C242.5 426.5 247.7 436.9 253.0 446.0 C258.3 455.2 263.5 463.3 268.8 470.3 C274.1 477.4 279.3 483.5 284.6 488.8 C289.9 494.1 295.1 498.7 300.4 502.7 C305.7 506.7 310.9 510.1 316.2 513.1 C321.5 516.2 326.7 518.9 332.0 521.3 C337.3 523.8 342.5 525.9 347.8 527.9 C353.1 529.8 358.3 531.6 363.6 533.1 C368.9 534.7 374.1 536.0 379.4 537.3 C384.7 538.5 389.9 539.6 395.2 540.7 C400.5 541.7 405.7 542.7 411.0 543.6 C416.3 544.5 421.5 545.4 426.8 546.2 C432.1 547.1 437.3 547.9 442.6 548.7 C447.9 549.5 453.1 550.3 458.4 551.1 C463.7 551.8 468.9 552.5 474.2 553.2 C479.5 553.8 484.7 554.4 490.0 555.0 C495.3 555.5 500.5 556.0 505.8 556.5 C511.1 556.9 516.3 557.3 521.6 557.6 C526.9 557.9 532.1 558.2 537.4 558.4 C542.7 558.6 547.9 558.8 553.2 559.0 C558.5 559.2 563.7 559.3 569.0 559.4 C574.3 559.5 579.5 559.6 584.8 559.7 C590.1 559.8 595.3 559.9 600.6 560.0 C605.9 560.1 611.1 560.2 616.4 560.3 C621.7 560.4 626.9 560.5 632.2 560.7 C637.5 560.8 642.7 560.9 648.0 561.1 C653.3 561.2 658.5 561.4 663.8 561.5 C669.1 561.7 674.3 561.9 679.6 562.1 C684.9 562.3 690.1 562.5 695.4 562.7 C700.7 562.9 705.9 563.2 711.2 563.5 C716.5 563.8 721.7 564.1 727.0 564.6 C732.3 565.0 737.5 565.6 742.8 566.3 C748.1 567.0 753.3 567.8 758.6 568.8 C763.9 569.8 769.1 571.1 774.4 572.5 C779.7 573.9 784.9 575.5 790.2 577.3 C795.5 579.0 800.7 580.9 806.0 582.9 C811.3 584.9 816.5 587.0 821.8 589.2 C827.1 591.4 832.3 593.6 837.6 595.7 C842.9 597.9 848.1 600.1 853.4 602.2 C858.7 604.2 863.9 606.2 869.2 608.2 C874.5 610.2 879.7 612.1 885.0 614.1" stroke="#ccccff" stroke-width="3.3"/>
<path d="M126.6 318.0 C131.9 314.0 137.1 309.9 142.4 307.4 C147.7 304.9 152.9 303.9 158.2 304.9 C163.5 305.8 168.7 308.6 174.0 313.0 C179.3 317.4 184.5 323.3 189.8 330.6 C195.1 337.9 200.3 346.5 205.6 356.2 C210.9 365.8 216.1 376.4 221.4 387.4 C226.7 398.3 231.9 409.6 237.2 420.1 C242.5 430.7 247.7 440.3 253.0 449.0 C258.3 457.7 263.5 465.6 268.8 472.5 C274.1 479.5 279.3 485.6 284.6 490.9 C289.9 496.2 295.1 500.8 300.4 504.7 C305.7 508.7 310.9 512.1 316.2 515.1 C321.5 518.2 326.7 520.9 332.0 523.3 C337.3 525.7 342.5 527.9 347.8 529.9 C353.1 531.8 358.3 533.6 363.6 535.1 C368.9 536.7 374.1 538.2 379.4 539.5 C384.7 540.8 389.9 542.0 395.2 543.1 C400.5 544.3 405.7 545.3 411.0 546.4 C416.3 547.4 421.5 548.4 426.8 549.4 C432.1 550.4 437.3 551.4 442.6 552.3 C447.9 553.3 453.1 554.2 458.4 555.1 C463.7 556.0 468.9 556.9 474.2 557.6 C479.5 558.4 484.7 559.2 490.0 559.8 C495.3 560.5 500.5 561.0 505.8 561.5 C511.1 562.0 516.3 562.4 521.6 562.8 C526.9 563.1 532.1 563.4 537.4 563.6 C542.7 563.9 547.9 564.1 553.2 564.2 C558.5 564.4 563.7 564.5 569.0 564.6 C574.3 564.7 579.5 564.8 584.8 564.8 C590.1 564.9 595.3 565.0 600.6 565.0 C605.9 565.1 611.1 565.2 616.4 565.3 C621.7 565.4 626.9 565.5 632.2 565.6 C637.5 565.7 642.7 565.8 648.0 566.0 C653.3 566.1 658.5 566.3 663.8 566.4 C669.1 566.6 674.3 566.8 679.6 567.0 C684.9 567.2 690.1 567.5 695.4 567.7 C700.7 568.0 705.9 568.2 711.2 568.6 C716.5 568.9 721.7 569.3 727.0 569.7 C732.3 570.2 737.5 570.7 742.8 571.4 C748.1 572.1 753.3 572.9 758.6 573.8 C763.9 574.8 769.1 575.9 774.4 577.2 C779.7 578.5 784.9 580.0 790.2 581.7 C795.5 583.3 800.7 585.1 806.0 587.1 C811.3 589.1 816.5 591.2 821.8 593.5 C827.1 595.8 832.3 598.1 837.6 600.4 C842.9 602.7 848.1 604.9 853.4 607.0 C858.7 609.0 863.9 610.9 869.2 612.8 C874.5 614.6 879.7 616.4 885.0 618.1" stroke="#ccccff" stroke-width="3.3"/>
<path d="M126.6 322.6 C131.9 318.3 137.1 314.0 142.4 311.3 C147.7 308.6 152.9 307.4 158.2 308.3 C163.5 309.2 168.7 312.1 174.0 316.6 C179.3 321.1 184.5 327.1 189.8 334.5 C195.1 341.8 200.3 350.5 205.6 360.0 C210.9 369.4 216.1 379.8 221.4 390.5 C226.7 401.2 231.9 412.2 237.2 422.6 C242.5 433.0 247.7 442.6 253.0 451.2 C258.3 459.8 263.5 467.5 268.8 474.3 C274.1 481.2 279.3 487.2 284.6 492.4 C289.9 497.7 295.1 502.2 300.4 506.1 C305.7 510.1 310.9 513.5 316.2 516.5 C321.5 519.6 326.7 522.3 332.0 524.8 C337.3 527.4 342.5 529.7 347.8 531.8 C353.1 533.9 358.3 535.8 363.6 537.5 C368.9 539.2 374.1 540.7 379.4 542.1 C384.7 543.5 389.9 544.8 395.2 546.0 C400.5 547.1 405.7 548.2 411.0 549.3 C416.3 550.4 421.5 551.4 426.8 552.5 C432.1 553.6 437.3 554.7 442.6 555.8 C447.9 556.9 453.1 557.9 458.4 559.0 C463.7 560.0 468.9 561.0 474.2 562.0 C479.5 562.9 484.7 563.8 490.0 564.5 C495.3 565.3 500.5 566.0 505.8 566.6 C511.1 567.2 516.3 567.6 521.6 568.0 C526.9 568.4 532.1 568.7 537.4 568.9 C542.7 569.2 547.9 569.4 553.2 569.5 C558.5 569.6 563.7 569.7 569.0 569.8 C574.3 569.8 579.5 569.9 584.8 569.9 C590.1 570.0 595.3 570.0 600.6 570.0 C605.9 570.1 611.1 570.1 616.4 570.2 C621.7 570.3 626.9 570.4 632.2 570.5 C637.5 570.6 642.7 570.7 648.0 570.9 C653.3 571.0 658.5 571.2 663.8 571.4 C669.1 571.6 674.3 571.8 679.6 572.0 C684.9 572.2 690.1 572.4 695.4 572.7 C700.7 573.0 705.9 573.2 711.2 573.6 C716.5 573.9 721.7 574.2 727.0 574.7 C732.3 575.2 737.5 575.7 742.8 576.4 C748.1 577.1 753.3 577.9 758.6 578.8 C763.9 579.8 769.1 581.0 774.4 582.3 C779.7 583.6 784.9 585.1 790.2 586.8 C795.5 588.4 800.7 590.2 806.0 592.1 C811.3 594.1 816.5 596.1 821.8 598.2 C827.1 600.4 832.3 602.6 837.6 604.7 C842.9 606.9 848.1 609.0 853.4 611.0 C858.7 613.0 863.9 614.9 869.2 616.7 C874.5 618.5 879.7 620.3 885.0 622.1" stroke="#ccccff" stroke-width="3.3"/>
<path d="M126.6 357.2 C131.9 351.6 137.1 346.0 142.4 341.6 C147.7 337.2 152.9 334.2 158.2 333.0 C163.5 331.8 168.7 332.7 174.0 335.3 C179.3 337.9 184.5 342.3 189.8 348.0 C195.1 353.7 200.3 360.7 205.6 368.8 C210.9 376.8 216.1 385.9 221.4 395.2 C226.7 404.4 231.9 413.8 237.2 422.9 C242.5 431.9 247.7 440.6 253.0 448.7 C258.3 456.7 263.5 464.0 268.8 470.6 C274.1 477.1 279.3 482.8 284.6 487.8 C289.9 492.7 295.1 497.0 300.4 500.9 C305.7 504.9 310.9 508.5 316.2 511.9 C321.5 515.2 326.7 518.3 332.0 521.0 C337.3 523.8 342.5 526.3 347.8 528.6 C353.1 530.8 358.3 532.9 363.6 534.7 C368.9 536.6 374.1 538.3 379.4 539.8 C384.7 541.4 389.9 542.8 395.2 544.2 C400.5 545.5 405.7 546.7 411.0 547.9 C416.3 549.1 421.5 550.2 426.8 551.3 C432.1 552.4 437.3 553.5 442.6 554.6 C447.9 555.7 453.1 556.8 458.4 558.0 C463.7 559.1 468.9 560.3 474.2 561.4 C479.5 562.6 484.7 563.7 490.0 564.7 C495.3 565.8 500.5 566.8 505.8 567.7 C511.1 568.6 516.3 569.4 521.6 570.1 C526.9 570.8 532.1 571.3 537.4 571.8 C542.7 572.2 547.9 572.6 553.2 572.8 C558.5 573.1 563.7 573.3 569.0 573.5 C574.3 573.6 579.5 573.7 584.8 573.8 C590.1 573.9 595.3 574.0 600.6 574.1 C605.9 574.1 611.1 574.2 616.4 574.3 C621.7 574.4 626.9 574.5 632.2 574.6 C637.5 574.7 642.7 574.8 648.0 574.9 C653.3 575.1 658.5 575.2 663.8 575.4 C669.1 575.6 674.3 575.8 679.6 576.0 C684.9 576.2 690.1 576.4 695.4 576.7 C700.7 577.0 705.9 577.3 711.2 577.6 C716.5 577.9 721.7 578.3 727.0 578.8 C732.3 579.3 737.5 579.8 742.8 580.5 C748.1 581.2 753.3 581.9 758.6 582.9 C763.9 583.8 769.1 584.9 774.4 586.2 C779.7 587.4 784.9 588.8 790.2 590.3 C795.5 591.9 800.7 593.5 806.0 595.3 C811.3 597.1 816.5 599.0 821.8 600.9 C827.1 602.9 832.3 605.0 837.6 607.0 C842.9 609.1 848.1 611.1 853.4 613.2 C858.7 615.2 863.9 617.2 869.2 619.1 C874.5 621.1 879.7 623.1 885.0 625.0" stroke="#ccccff" stroke-width="3.3"/>
<path d="M126.6 405.6 C131.9 399.8 137.1 394.0 142.4 389.3 C147.7 384.6 152.9 381.0 158.2 379.2 C163.5 377.4 168.7 377.4 174.0 379.1 C179.3 380.8 184.5 384.2 189.8 388.5 C195.1 392.9 200.3 398.4 205.6 404.4 C210.9 410.3 216.1 416.9 221.4 423.5 C226.7 430.2 231.9 437.0 237.2 443.6 C242.5 450.1 247.7 456.4 253.0 462.1 C258.3 467.9 263.5 473.1 268.8 477.9 C274.1 482.7 279.3 487.0 284.6 491.0 C289.9 495.0 295.1 498.7 300.4 502.0 C305.7 505.3 310.9 508.1 316.2 510.7 C321.5 513.2 326.7 515.4 332.0 517.3 C337.3 519.2 342.5 520.9 347.8 522.3 C353.1 523.8 358.3 525.0 363.6 526.1 C368.9 527.2 374.1 528.2 379.4 529.0 C384.7 529.9 389.9 530.7 395.2 531.4 C400.5 532.2 405.7 533.0 411.0 533.7 C416.3 534.4 421.5 535.2 426.8 535.9 C432.1 536.6 437.3 537.3 442.6 537.9 C447.9 538.6 453.1 539.2 458.4 539.8 C463.7 540.3 468.9 540.9 474.2 541.4 C479.5 541.9 484.7 542.3 490.0 542.7 C495.3 543.1 500.5 543.4 505.8 543.7 C511.1 544.1 516.3 544.3 521.6 544.6 C526.9 544.9 532.1 545.1 537.4 545.3 C542.7 545.5 547.9 545.6 553.2 545.8 C558.5 546.0 563.7 546.1 569.0 546.2 C574.3 546.4 579.5 546.5 584.8 546.6 C590.1 546.7 595.3 546.8 600.6 546.9 C605.9 547.1 611.1 547.2 616.4 547.3 C621.7 547.5 626.9 547.6 632.2 547.8 C637.5 547.9 642.7 548.1 648.0 548.3 C653.3 548.5 658.5 548.7 663.8 549.0 C669.1 549.2 674.3 549.5 679.6 549.8 C684.9 550.1 690.1 550.3 695.4 550.7 C700.7 551.0 705.9 551.3 711.2 551.6 C716.5 552.0 721.7 552.3 727.0 552.8 C732.3 553.3 737.5 553.8 742.8 554.5 C748.1 555.1 753.3 555.9 758.6 556.8 C763.9 557.8 769.1 558.9 774.4 560.2 C779.7 561.5 784.9 562.9 790.2 564.6 C795.5 566.2 800.7 568.0 806.0 570.0 C811.3 572.0 816.5 574.2 821.8 576.5 C827.1 578.9 832.3 581.4 837.6 583.9 C842.9 586.4 848.1 588.9 853.4 591.4 C858.7 593.9 863.9 596.3 869.2 598.8 C874.5 601.2 879.7 603.6 885.0 606.0" stroke="#ccccff" stroke-width="3.3"/>
<path d="M126.6 410.9 C131.9 406.5 137.1 402.2 142.4 398.6 C147.7 395.0 152.9 392.3 158.2 390.7 C163.5 389.2 168.7 388.8 174.0 389.7 C179.3 390.7 184.5 392.7 189.8 395.9 C195.1 399.0 200.3 403.2 205.6 408.3 C210.9 413.4 216.1 419.5 221.4 426.2 C226.7 432.8 231.9 439.9 237.2 446.5 C242.5 453.2 247.7 459.5 253.0 465.2 C258.3 471.0 263.5 476.1 268.8 480.8 C274.1 485.5 279.3 489.7 284.6 493.6 C289.9 497.5 295.1 501.0 300.4 504.3 C305.7 507.6 310.9 510.6 316.2 513.5 C321.5 516.3 326.7 519.0 332.0 521.4 C337.3 523.9 342.5 526.1 347.8 528.3 C353.1 530.4 358.3 532.3 363.6 534.2 C368.9 536.0 374.1 537.7 379.4 539.3 C384.7 540.9 389.9 542.4 395.2 543.8 C400.5 545.2 405.7 546.5 411.0 547.8 C416.3 549.0 421.5 550.2 426.8 551.3 C432.1 552.4 437.3 553.4 442.6 554.4 C447.9 555.3 453.1 556.2 458.4 557.0 C463.7 557.8 468.9 558.6 474.2 559.3 C479.5 559.9 484.7 560.6 490.0 561.1 C495.3 561.7 500.5 562.1 505.8 562.6 C511.1 563.0 516.3 563.4 521.6 563.8 C526.9 564.2 532.1 564.5 537.4 564.8 C542.7 565.1 547.9 565.4 553.2 565.7 C558.5 565.9 563.7 566.2 569.0 566.5 C574.3 566.7 579.5 567.0 584.8 567.2 C590.1 567.5 595.3 567.7 600.6 568.0 C605.9 568.2 611.1 568.5 616.4 568.7 C621.7 568.9 626.9 569.1 632.2 569.3 C637.5 569.5 642.7 569.7 648.0 569.9 C653.3 570.1 658.5 570.3 663.8 570.4 C669.1 570.6 674.3 570.8 679.6 571.0 C684.9 571.2 690.1 571.4 695.4 571.6 C700.7 571.9 705.9 572.1 711.2 572.4 C716.5 572.7 721.7 573.0 727.0 573.4 C732.3 573.8 737.5 574.3 742.8 574.9 C748.1 575.4 753.3 576.1 758.6 576.9 C763.9 577.7 769.1 578.7 774.4 579.9 C779.7 581.0 784.9 582.4 790.2 583.9 C795.5 585.5 800.7 587.2 806.0 589.0 C811.3 590.8 816.5 592.8 821.8 594.8 C827.1 596.8 832.3 598.8 837.6 600.9 C842.9 603.0 848.1 605.0 853.4 607.2 C858.7 609.3 863.9 611.4 869.2 613.5 C874.5 615.7 879.7 617.8 885.0 620.0" stroke="#ccccff" stroke-width="3.3"/>
<path d="M126.6 445.6 C131.9 440.3 137.1 435.0 142.4 430.5 C147.7 426.0 152.9 422.4 158.2 420.0 C163.5 417.7 168.7 416.5 174.0 416.3 C179.3 416.1 184.5 416.9 189.8 418.7 C195.1 420.4 200.3 423.1 205.6 426.5 C210.9 429.8 216.1 433.9 221.4 438.1 C226.7 442.3 231.9 446.8 237.2 451.2 C242.5 455.6 247.7 459.9 253.0 464.1 C258.3 468.3 263.5 472.4 268.8 476.3 C274.1 480.2 279.3 483.9 284.6 487.4 C289.9 490.9 295.1 494.1 300.4 496.9 C305.7 499.7 310.9 502.1 316.2 504.2 C321.5 506.4 326.7 508.2 332.0 509.8 C337.3 511.4 342.5 512.8 347.8 514.0 C353.1 515.2 358.3 516.2 363.6 517.1 C368.9 518.0 374.1 518.8 379.4 519.5 C384.7 520.3 389.9 520.9 395.2 521.5 C400.5 522.2 405.7 522.8 411.0 523.4 C416.3 524.0 421.5 524.6 426.8 525.2 C432.1 525.7 437.3 526.3 442.6 526.8 C447.9 527.3 453.1 527.8 458.4 528.3 C463.7 528.8 468.9 529.2 474.2 529.6 C479.5 529.9 484.7 530.3 490.0 530.6 C495.3 530.9 500.5 531.1 505.8 531.3 C511.1 531.6 516.3 531.7 521.6 531.9 C526.9 532.1 532.1 532.2 537.4 532.4 C542.7 532.5 547.9 532.7 553.2 532.8 C558.5 533.0 563.7 533.1 569.0 533.3 C574.3 533.5 579.5 533.6 584.8 533.8 C590.1 534.0 595.3 534.1 600.6 534.3 C605.9 534.5 611.1 534.7 616.4 534.9 C621.7 535.0 626.9 535.2 632.2 535.4 C637.5 535.6 642.7 535.7 648.0 535.9 C653.3 536.1 658.5 536.2 663.8 536.4 C669.1 536.5 674.3 536.7 679.6 536.9 C684.9 537.1 690.1 537.3 695.4 537.5 C700.7 537.8 705.9 538.0 711.2 538.4 C716.5 538.7 721.7 539.1 727.0 539.5 C732.3 539.9 737.5 540.5 742.8 541.1 C748.1 541.7 753.3 542.5 758.6 543.4 C763.9 544.3 769.1 545.4 774.4 546.6 C779.7 547.9 784.9 549.4 790.2 551.1 C795.5 552.7 800.7 554.7 806.0 556.8 C811.3 558.9 816.5 561.3 821.8 563.9 C827.1 566.5 832.3 569.4 837.6 572.4 C842.9 575.5 848.1 578.8 853.4 582.2 C858.7 585.6 863.9 589.2 869.2 592.8 C874.5 596.5 879.7 600.2 885.0 603.9" stroke="#ccccff" stroke-width="3.3"/>
<path d="M126.6 453.7 C131.9 448.6 137.1 443.5 142.4 439.1 C147.7 434.7 152.9 431.1 158.2 428.6 C163.5 426.2 168.7 424.8 174.0 424.4 C179.3 424.0 184.5 424.7 189.8 426.3 C195.1 427.9 200.3 430.4 205.6 433.6 C210.9 436.7 216.1 440.6 221.4 444.7 C226.7 448.7 231.9 453.0 237.2 457.4 C242.5 461.7 247.7 466.1 253.0 470.4 C258.3 474.8 263.5 479.0 268.8 483.1 C274.1 487.2 279.3 491.2 284.6 494.8 C289.9 498.5 295.1 501.9 300.4 505.1 C305.7 508.3 310.9 511.1 316.2 513.7 C321.5 516.3 326.7 518.7 332.0 520.9 C337.3 523.2 342.5 525.2 347.8 527.2 C353.1 529.2 358.3 531.1 363.6 532.9 C368.9 534.7 374.1 536.4 379.4 538.0 C384.7 539.6 389.9 541.1 395.2 542.5 C400.5 543.9 405.7 545.2 411.0 546.4 C416.3 547.6 421.5 548.6 426.8 549.6 C432.1 550.6 437.3 551.5 442.6 552.4 C447.9 553.2 453.1 553.9 458.4 554.6 C463.7 555.3 468.9 555.9 474.2 556.4 C479.5 557.0 484.7 557.5 490.0 557.9 C495.3 558.3 500.5 558.7 505.8 559.1 C511.1 559.5 516.3 559.8 521.6 560.1 C526.9 560.4 532.1 560.7 537.4 560.9 C542.7 561.2 547.9 561.5 553.2 561.7 C558.5 562.0 563.7 562.2 569.0 562.4 C574.3 562.7 579.5 562.9 584.8 563.2 C590.1 563.4 595.3 563.7 600.6 563.9 C605.9 564.2 611.1 564.4 616.4 564.6 C621.7 564.8 626.9 565.1 632.2 565.3 C637.5 565.5 642.7 565.7 648.0 565.9 C653.3 566.1 658.5 566.3 663.8 566.5 C669.1 566.6 674.3 566.8 679.6 567.0 C684.9 567.2 690.1 567.4 695.4 567.6 C700.7 567.9 705.9 568.1 711.2 568.4 C716.5 568.7 721.7 569.0 727.0 569.4 C732.3 569.8 737.5 570.2 742.8 570.8 C748.1 571.4 753.3 572.0 758.6 572.8 C763.9 573.7 769.1 574.6 774.4 575.8 C779.7 577.0 784.9 578.4 790.2 580.0 C795.5 581.6 800.7 583.4 806.0 585.3 C811.3 587.3 816.5 589.4 821.8 591.5 C827.1 593.7 832.3 595.9 837.6 598.2 C842.9 600.5 848.1 602.9 853.4 605.3 C858.7 607.7 863.9 610.1 869.2 612.6 C874.5 615.0 879.7 617.5 885.0 620.0" stroke="#ccccff" stroke-width="3.3"/>
<path d="M126.6 530.3 C131.9 523.5 137.1 516.6 142.4 510.2 C147.7 503.8 152.9 497.8 158.2 492.5 C163.5 487.2 168.7 482.7 174.0 478.9 C179.3 475.1 184.5 472.0 189.8 469.5 C195.1 467.1 200.3 465.3 205.6 464.1 C210.9 462.9 216.1 462.2 221.4 461.9 C226.7 461.7 231.9 461.9 237.2 462.3 C242.5 462.6 247.7 463.2 253.0 463.7 C258.3 464.3 263.5 464.9 268.8 465.5 C274.1 466.2 279.3 466.9 284.6 467.8 C289.9 468.7 295.1 469.6 300.4 470.8 C305.7 472.0 310.9 473.3 316.2 475.0 C321.5 476.7 326.7 478.7 332.0 480.9 C337.3 483.2 342.5 485.8 347.8 488.7 C353.1 491.5 358.3 494.6 363.6 497.9 C368.9 501.2 374.1 504.7 379.4 507.8 C384.7 511.0 389.9 513.8 395.2 515.9 C400.5 518.1 405.7 519.4 411.0 520.0 C416.3 520.6 421.5 520.6 426.8 520.2 C432.1 519.9 437.3 519.2 442.6 518.5 C447.9 517.9 453.1 517.2 458.4 516.7 C463.7 516.2 468.9 515.9 474.2 515.6 C479.5 515.3 484.7 515.1 490.0 515.0 C495.3 514.8 500.5 514.8 505.8 514.7 C511.1 514.7 516.3 514.7 521.6 514.6 C526.9 514.6 532.1 514.6 537.4 514.6 C542.7 514.6 547.9 514.7 553.2 514.7 C558.5 514.7 563.7 514.7 569.0 514.7 C574.3 514.8 579.5 514.8 584.8 514.9 C590.1 514.9 595.3 514.9 600.6 515.0 C605.9 515.0 611.1 515.1 616.4 515.2 C621.7 515.2 626.9 515.3 632.2 515.4 C637.5 515.5 642.7 515.6 648.0 515.8 C653.3 515.9 658.5 516.0 663.8 516.2 C669.1 516.4 674.3 516.6 679.6 516.9 C684.9 517.1 690.1 517.4 695.4 517.7 C700.7 518.0 705.9 518.3 711.2 518.7 C716.5 519.1 721.7 519.6 727.0 520.1 C732.3 520.7 737.5 521.3 742.8 522.1 C748.1 522.8 753.3 523.7 758.6 524.7 C763.9 525.7 769.1 526.8 774.4 528.2 C779.7 529.5 784.9 531.0 790.2 532.7 C795.5 534.4 800.7 536.3 806.0 538.5 C811.3 540.6 816.5 543.1 821.8 545.8 C827.1 548.5 832.3 551.5 837.6 554.8 C842.9 558.2 848.1 561.9 853.4 566.0 C858.7 570.2 863.9 574.6 869.2 579.3 C874.5 584.0 879.7 588.8 885.0 593.7" stroke="#ccccff" stroke-width="3.3"/>
<path d="M126.6 538.6 C131.9 526.9 137.1 515.2 142.4 504.0 C147.7 492.7 152.9 482.0 158.2 472.1 C163.5 462.3 168.7 453.3 174.0 445.3 C179.3 437.4 184.5 430.5 189.8 424.9 C195.1 419.2 200.3 414.7 205.6 411.4 C210.9 408.1 216.1 405.9 221.4 404.8 C226.7 403.7 231.9 403.8 237.2 404.8 C242.5 405.8 247.7 407.8 253.0 410.5 C258.3 413.1 263.5 416.6 268.8 420.4 C274.1 424.3 279.3 428.5 284.6 432.8 C289.9 437.2 295.1 441.5 300.4 445.5 C305.7 449.6 310.9 453.4 316.2 457.0 C321.5 460.6 326.7 464.0 332.0 467.1 C337.3 470.3 342.5 473.3 347.8 476.2 C353.1 479.1 358.3 481.9 363.6 484.5 C368.9 487.2 374.1 489.6 379.4 491.9 C384.7 494.1 389.9 496.2 395.2 498.1 C400.5 500.1 405.7 501.9 411.0 503.6 C416.3 505.3 421.5 506.8 426.8 508.2 C432.1 509.5 437.3 510.7 442.6 511.7 C447.9 512.8 453.1 513.8 458.4 514.7 C463.7 515.6 468.9 516.4 474.2 517.3 C479.5 518.1 484.7 518.9 490.0 519.7 C495.3 520.5 500.5 521.3 505.8 522.0 C511.1 522.8 516.3 523.5 521.6 524.2 C526.9 524.9 532.1 525.6 537.4 526.3 C542.7 526.9 547.9 527.6 553.2 528.2 C558.5 528.8 563.7 529.4 569.0 530.0 C574.3 530.5 579.5 531.1 584.8 531.6 C590.1 532.2 595.3 532.7 600.6 533.2 C605.9 533.6 611.1 534.1 616.4 534.6 C621.7 535.0 626.9 535.4 632.2 535.8 C637.5 536.2 642.7 536.6 648.0 536.9 C653.3 537.3 658.5 537.6 663.8 537.9 C669.1 538.2 674.3 538.5 679.6 538.7 C684.9 538.9 690.1 539.1 695.4 539.3 C700.7 539.5 705.9 539.6 711.2 539.8 C716.5 539.9 721.7 540.1 727.0 540.3 C732.3 540.6 737.5 541.0 742.8 541.5 C748.1 542.0 753.3 542.6 758.6 543.5 C763.9 544.3 769.1 545.4 774.4 546.8 C779.7 548.1 784.9 549.7 790.2 551.5 C795.5 553.3 800.7 555.3 806.0 557.5 C811.3 559.7 816.5 562.2 821.8 564.8 C827.1 567.4 832.3 570.3 837.6 573.2 C842.9 576.2 848.1 579.3 853.4 582.4 C858.7 585.6 863.9 588.9 869.2 592.2 C874.5 595.6 879.7 598.9 885.0 602.3" stroke="#ff0000" stroke-width="3.9"/>
<path d="M126.6 602.7 C131.9 591.4 137.1 580.1 142.4 569.1 C147.7 558.0 152.9 547.3 158.2 537.0 C163.5 526.8 168.7 517.2 174.0 508.4 C179.3 499.6 184.5 491.8 189.8 485.1 C195.1 478.3 200.3 472.5 205.6 467.6 C210.9 462.7 216.1 458.6 221.4 455.4 C226.7 452.1 231.9 449.5 237.2 447.6 C242.5 445.6 247.7 444.2 253.0 443.2 C258.3 442.2 263.5 441.5 268.8 441.0 C274.1 440.6 279.3 440.4 284.6 440.4 C289.9 440.4 295.1 440.6 300.4 441.1 C305.7 441.6 310.9 442.4 316.2 443.4 C321.5 444.3 326.7 445.5 332.0 446.9 C337.3 448.2 342.5 449.7 347.8 451.4 C353.1 453.0 358.3 454.7 363.6 456.6 C368.9 458.4 374.1 460.3 379.4 462.2 C384.7 464.1 389.9 466.0 395.2 467.9 C400.5 469.8 405.7 471.7 411.0 473.6 C416.3 475.4 421.5 477.2 426.8 479.0 C432.1 480.7 437.3 482.4 442.6 483.9 C447.9 485.5 453.1 486.9 458.4 488.2 C463.7 489.5 468.9 490.8 474.2 491.9 C479.5 493.0 484.7 494.0 490.0 495.0 C495.3 495.9 500.5 496.8 505.8 497.6 C511.1 498.5 516.3 499.2 521.6 500.0 C526.9 500.8 532.1 501.5 537.4 502.2 C542.7 502.9 547.9 503.7 553.2 504.4 C558.5 505.1 563.7 505.9 569.0 506.7 C574.3 507.5 579.5 508.3 584.8 509.1 C590.1 509.9 595.3 510.7 600.6 511.5 C605.9 512.3 611.1 513.0 616.4 513.8 C621.7 514.6 626.9 515.3 632.2 516.0 C637.5 516.7 642.7 517.4 648.0 518.1 C653.3 518.8 658.5 519.5 663.8 520.1 C669.1 520.8 674.3 521.4 679.6 522.0 C684.9 522.5 690.1 523.1 695.4 523.6 C700.7 524.2 705.9 524.7 711.2 525.2 C716.5 525.7 721.7 526.2 727.0 526.8 C732.3 527.4 737.5 528.1 742.8 528.8 C748.1 529.6 753.3 530.5 758.6 531.6 C763.9 532.7 769.1 534.0 774.4 535.5 C779.7 537.0 784.9 538.7 790.2 540.6 C795.5 542.6 800.7 544.8 806.0 547.2 C811.3 549.6 816.5 552.4 821.8 555.3 C827.1 558.3 832.3 561.5 837.6 564.9 C842.9 568.4 848.1 572.0 853.4 575.8 C858.7 579.6 863.9 583.5 869.2 587.6 C874.5 591.6 879.7 595.7 885.0 599.9" stroke="#00ff00" stroke-width="3.9"/>
<path d="M126.6 396.9 C131.9 391.8 137.1 386.8 142.4 382.6 C147.7 378.4 152.9 375.1 158.2 373.3 C163.5 371.4 168.7 371.2 174.0 372.6 C179.3 374.0 184.5 376.9 189.8 381.3 C195.1 385.6 200.3 391.4 205.6 397.8 C210.9 404.3 216.1 411.5 221.4 418.9 C226.7 426.3 231.9 433.9 237.2 441.2 C242.5 448.6 247.7 455.7 253.0 462.3 C258.3 468.9 263.5 475.0 268.8 480.6 C274.1 486.2 279.3 491.1 284.6 495.5 C289.9 499.9 295.1 503.6 300.4 506.9 C305.7 510.2 310.9 513.0 316.2 515.4 C321.5 517.9 326.7 520.0 332.0 521.9 C337.3 523.8 342.5 525.4 347.8 526.9 C353.1 528.5 358.3 529.8 363.6 531.1 C368.9 532.4 374.1 533.5 379.4 534.6 C384.7 535.7 389.9 536.6 395.2 537.5 C400.5 538.4 405.7 539.3 411.0 540.0 C416.3 540.8 421.5 541.5 426.8 542.2 C432.1 542.9 437.3 543.5 442.6 544.1 C447.9 544.7 453.1 545.2 458.4 545.7 C463.7 546.2 468.9 546.7 474.2 547.1 C479.5 547.5 484.7 547.8 490.0 548.2 C495.3 548.5 500.5 548.8 505.8 549.0 C511.1 549.2 516.3 549.4 521.6 549.6 C526.9 549.8 532.1 550.0 537.4 550.1 C542.7 550.3 547.9 550.4 553.2 550.5 C558.5 550.7 563.7 550.8 569.0 550.9 C574.3 551.1 579.5 551.2 584.8 551.3 C590.1 551.5 595.3 551.6 600.6 551.7 C605.9 551.8 611.1 552.0 616.4 552.1 C621.7 552.2 626.9 552.3 632.2 552.4 C637.5 552.6 642.7 552.7 648.0 552.8 C653.3 553.0 658.5 553.1 663.8 553.2 C669.1 553.4 674.3 553.5 679.6 553.7 C684.9 553.9 690.1 554.0 695.4 554.2 C700.7 554.4 705.9 554.6 711.2 554.9 C716.5 555.1 721.7 555.4 727.0 555.8 C732.3 556.2 737.5 556.7 742.8 557.4 C748.1 558.0 753.3 558.8 758.6 559.8 C763.9 560.8 769.1 562.0 774.4 563.4 C779.7 564.8 784.9 566.4 790.2 568.2 C795.5 570.0 800.7 572.1 806.0 574.2 C811.3 576.4 816.5 578.8 821.8 581.3 C827.1 583.8 832.3 586.5 837.6 589.1 C842.9 591.7 848.1 594.3 853.4 596.8 C858.7 599.3 863.9 601.8 869.2 604.2 C874.5 606.6 879.7 609.0 885.0 611.4" stroke="#0000ff" stroke-width="3.9"/>
</g>
<path d="M1012.6 257.2 L1012.6 665.6 L1770.6 665.6" fill="none" stroke="#000" stroke-width="1.7" stroke-linejoin="round"/>
<line x1="1202.1" y1="665.6" x2="1202.1" y2="658.1" stroke="#000" stroke-width="1.5"/>
<text x="1202.1" y="703.6" font-size="31" text-anchor="middle">0.25</text>
<line x1="1391.6" y1="665.6" x2="1391.6" y2="658.1" stroke="#000" stroke-width="1.5"/>
<text x="1391.6" y="703.6" font-size="31" text-anchor="middle">0.5</text>
<line x1="1581.1" y1="665.6" x2="1581.1" y2="658.1" stroke="#000" stroke-width="1.5"/>
<text x="1581.1" y="703.6" font-size="31" text-anchor="middle">0.75</text>
<line x1="1770.6" y1="665.6" x2="1770.6" y2="658.1" stroke="#000" stroke-width="1.5"/>
<text x="1770.6" y="703.6" font-size="31" text-anchor="middle">1</text>
<line x1="1012.6" y1="665.6" x2="1020.1" y2="665.6" stroke="#000" stroke-width="1.5"/>
<text x="1004.3" y="676.9" font-size="31" text-anchor="end">0</text>
<line x1="1012.6" y1="584.8" x2="1020.1" y2="584.8" stroke="#000" stroke-width="1.5"/>
<text x="1004.3" y="596.1" font-size="31" text-anchor="end">2</text>
<line x1="1012.6" y1="504.0" x2="1020.1" y2="504.0" stroke="#000" stroke-width="1.5"/>
<text x="1004.3" y="515.3" font-size="31" text-anchor="end">4</text>
<line x1="1012.6" y1="423.2" x2="1020.1" y2="423.2" stroke="#000" stroke-width="1.5"/>
<text x="1004.3" y="434.5" font-size="31" text-anchor="end">6</text>
<line x1="1012.6" y1="342.4" x2="1020.1" y2="342.4" stroke="#000" stroke-width="1.5"/>
<text x="1004.3" y="353.7" font-size="31" text-anchor="end">8</text>
<line x1="1012.6" y1="261.6" x2="1020.1" y2="261.6" stroke="#000" stroke-width="1.5"/>
<text x="1004.3" y="272.9" font-size="31" text-anchor="end">10</text>
<text x="1392.1" y="739.6" font-size="31" text-anchor="middle">Release Probability, U</text>
<clipPath id="clipTR"><rect x="1012.6" y="257.2" width="759.0" height="411.4"/></clipPath>
<g fill="none" stroke-linejoin="round" stroke-linecap="butt" clip-path="url(#clipTR)">
<path d="M1012.6 648.5 C1017.9 647.1 1023.1 645.6 1028.4 644.2 C1033.6 642.7 1038.9 641.3 1044.2 639.8 C1049.4 638.3 1054.7 636.9 1059.9 635.4 C1065.2 633.9 1070.5 632.4 1075.7 630.9 C1081.0 629.4 1086.2 627.8 1091.5 626.3 C1096.8 624.7 1102.0 623.2 1107.3 621.7 C1112.5 620.1 1117.8 618.7 1123.1 617.2 C1128.3 615.8 1133.6 614.4 1138.8 613.1 C1144.1 611.8 1149.4 610.6 1154.6 609.4 C1159.9 608.3 1165.1 607.3 1170.4 606.3 C1175.7 605.4 1180.9 604.5 1186.2 603.8 C1191.4 603.0 1196.7 602.3 1202.0 601.8 C1207.2 601.2 1212.5 600.7 1217.7 600.3 C1223.0 599.8 1228.2 599.5 1233.5 599.2 C1238.8 598.9 1244.0 598.6 1249.3 598.4 C1254.5 598.2 1259.8 598.0 1265.1 597.9 C1270.3 597.7 1275.6 597.5 1280.8 597.4 C1286.1 597.3 1291.4 597.2 1296.6 597.1 C1301.9 597.0 1307.1 596.9 1312.4 596.9 C1317.7 596.9 1322.9 596.9 1328.2 596.9 C1333.4 597.0 1338.7 597.1 1344.0 597.2 C1349.2 597.3 1354.5 597.5 1359.7 597.6 C1365.0 597.8 1370.3 598.0 1375.5 598.3 C1380.8 598.5 1386.0 598.8 1391.3 599.1 C1396.6 599.4 1401.8 599.7 1407.1 600.0 C1412.3 600.3 1417.6 600.6 1422.9 601.0 C1428.1 601.4 1433.4 601.7 1438.6 602.1 C1443.9 602.6 1449.2 603.0 1454.4 603.5 C1459.7 603.9 1464.9 604.4 1470.2 605.0 C1475.5 605.5 1480.7 606.1 1486.0 606.7 C1491.2 607.3 1496.5 608.0 1501.8 608.7 C1507.0 609.4 1512.3 610.1 1517.5 610.9 C1522.8 611.7 1528.1 612.5 1533.3 613.4 C1538.6 614.2 1543.8 615.1 1549.1 616.0 C1554.4 617.0 1559.6 617.9 1564.9 618.9 C1570.1 619.9 1575.4 620.9 1580.7 622.0 C1585.9 623.0 1591.2 624.1 1596.4 625.1 C1601.7 626.2 1606.9 627.3 1612.2 628.3 C1617.5 629.4 1622.7 630.5 1628.0 631.6 C1633.2 632.6 1638.5 633.7 1643.8 634.8 C1649.0 635.8 1654.3 636.8 1659.5 637.8 C1664.8 638.8 1670.1 639.8 1675.3 640.8 C1680.6 641.8 1685.8 642.7 1691.1 643.6 C1696.4 644.6 1701.6 645.5 1706.9 646.4 C1712.1 647.3 1717.4 648.2 1722.7 649.1 C1727.9 650.0 1733.2 650.9 1738.4 651.8 C1743.7 652.7 1749.0 653.5 1754.2 654.4 C1759.5 655.3 1764.7 656.1 1770.0 657.0" stroke="#ffcccc" stroke-width="3.3"/>
<path d="M1012.6 661.0 C1017.9 660.2 1023.1 659.4 1028.4 658.5 C1033.6 657.7 1038.9 657.0 1044.2 656.2 C1049.4 655.5 1054.7 654.7 1059.9 654.1 C1065.2 653.4 1070.5 652.8 1075.7 652.3 C1081.0 651.7 1086.2 651.2 1091.5 650.9 C1096.8 650.5 1102.0 650.3 1107.3 649.9 C1112.5 649.6 1117.8 649.0 1123.1 647.6 C1128.3 646.1 1133.6 643.8 1138.8 640.0 C1144.1 636.1 1149.4 630.6 1154.6 623.1 C1159.9 615.6 1165.1 606.4 1170.4 596.6 C1175.7 586.9 1180.9 576.6 1186.2 566.8 C1191.4 557.1 1196.7 547.9 1202.0 540.6 C1207.2 533.3 1212.5 528.2 1217.7 525.6 C1223.0 523.0 1228.2 522.5 1233.5 523.3 C1238.8 524.0 1244.0 526.0 1249.3 528.6 C1254.5 531.1 1259.8 534.2 1265.1 538.0 C1270.3 541.7 1275.6 546.0 1280.8 550.6 C1286.1 555.2 1291.4 560.0 1296.6 564.8 C1301.9 569.6 1307.1 574.4 1312.4 579.0 C1317.7 583.6 1322.9 588.1 1328.2 592.3 C1333.4 596.5 1338.7 600.5 1344.0 604.1 C1349.2 607.8 1354.5 611.3 1359.7 614.5 C1365.0 617.7 1370.3 620.8 1375.5 623.7 C1380.8 626.7 1386.0 629.5 1391.3 632.1 C1396.6 634.6 1401.8 637.0 1407.1 639.2 C1412.3 641.3 1417.6 643.2 1422.9 644.9 C1428.1 646.6 1433.4 648.1 1438.6 649.4 C1443.9 650.7 1449.2 651.9 1454.4 652.9 C1459.7 653.9 1464.9 654.8 1470.2 655.6 C1475.5 656.3 1480.7 657.0 1486.0 657.6 C1491.2 658.2 1496.5 658.7 1501.8 659.2 C1507.0 659.6 1512.3 660.0 1517.5 660.4 C1522.8 660.7 1528.1 661.0 1533.3 661.3 C1538.6 661.5 1543.8 661.7 1549.1 661.9 C1554.4 662.1 1559.6 662.3 1564.9 662.4 C1570.1 662.5 1575.4 662.6 1580.7 662.7 C1585.9 662.8 1591.2 662.9 1596.4 663.0 C1601.7 663.0 1606.9 663.1 1612.2 663.1 C1617.5 663.2 1622.7 663.3 1628.0 663.3 C1633.2 663.4 1638.5 663.4 1643.8 663.5 C1649.0 663.5 1654.3 663.5 1659.5 663.6 C1664.8 663.6 1670.1 663.6 1675.3 663.7 C1680.6 663.7 1685.8 663.7 1691.1 663.7 C1696.4 663.8 1701.6 663.8 1706.9 663.8 C1712.1 663.8 1717.4 663.9 1722.7 663.9 C1727.9 663.9 1733.2 663.9 1738.4 663.9 C1743.7 663.9 1749.0 663.9 1754.2 664.0 C1759.5 664.0 1764.7 664.0 1770.0 664.0" stroke="#ffcccc" stroke-width="3.3"/>
<path d="M1012.6 664.0 C1017.9 664.3 1023.1 664.7 1028.4 665.0 C1033.6 665.3 1038.9 665.6 1044.2 665.8 C1049.4 666.1 1054.7 666.3 1059.9 666.5 C1065.2 666.6 1070.5 666.7 1075.7 666.8 C1081.0 666.8 1086.2 666.8 1091.5 666.6 C1096.8 666.5 1102.0 666.2 1107.3 665.9 C1112.5 665.5 1117.8 665.1 1123.1 664.5 C1128.3 663.9 1133.6 663.1 1138.8 662.2 C1144.1 661.4 1149.4 660.3 1154.6 659.1 C1159.9 657.9 1165.1 656.4 1170.4 654.3 C1175.7 652.3 1180.9 649.7 1186.2 646.2 C1191.4 642.7 1196.7 638.4 1202.0 632.8 C1207.2 627.3 1212.5 620.7 1217.7 612.9 C1223.0 605.2 1228.2 596.3 1233.5 586.5 C1238.8 576.6 1244.0 565.8 1249.3 555.4 C1254.5 545.1 1259.8 535.2 1265.1 527.0 C1270.3 518.8 1275.6 512.1 1280.8 507.3 C1286.1 502.4 1291.4 499.3 1296.6 498.0 C1301.9 496.7 1307.1 497.3 1312.4 499.4 C1317.7 501.5 1322.9 505.1 1328.2 509.6 C1333.4 514.0 1338.7 518.8 1344.0 523.6 C1349.2 528.4 1354.5 533.2 1359.7 538.1 C1365.0 543.0 1370.3 547.9 1375.5 552.8 C1380.8 557.7 1386.0 562.6 1391.3 567.3 C1396.6 572.1 1401.8 576.7 1407.1 581.0 C1412.3 585.3 1417.6 589.3 1422.9 593.1 C1428.1 596.8 1433.4 600.3 1438.6 603.6 C1443.9 606.9 1449.2 610.0 1454.4 612.9 C1459.7 615.9 1464.9 618.6 1470.2 621.2 C1475.5 623.8 1480.7 626.2 1486.0 628.6 C1491.2 630.9 1496.5 633.1 1501.8 635.2 C1507.0 637.3 1512.3 639.3 1517.5 641.1 C1522.8 642.9 1528.1 644.6 1533.3 646.1 C1538.6 647.7 1543.8 649.0 1549.1 650.2 C1554.4 651.4 1559.6 652.4 1564.9 653.3 C1570.1 654.3 1575.4 655.1 1580.7 655.8 C1585.9 656.5 1591.2 657.1 1596.4 657.6 C1601.7 658.2 1606.9 658.7 1612.2 659.2 C1617.5 659.6 1622.7 660.0 1628.0 660.4 C1633.2 660.7 1638.5 661.0 1643.8 661.3 C1649.0 661.6 1654.3 661.8 1659.5 662.0 C1664.8 662.2 1670.1 662.4 1675.3 662.6 C1680.6 662.7 1685.8 662.8 1691.1 662.9 C1696.4 663.0 1701.6 663.0 1706.9 663.1 C1712.1 663.1 1717.4 663.2 1722.7 663.2 C1727.9 663.2 1733.2 663.2 1738.4 663.2 C1743.7 663.2 1749.0 663.1 1754.2 663.1 C1759.5 663.1 1764.7 663.0 1770.0 663.0" stroke="#ffcccc" stroke-width="3.3"/>
<path d="M1012.6 665.0 C1017.9 665.7 1023.1 666.4 1028.4 667.1 C1033.6 667.8 1038.9 668.5 1044.2 669.1 C1049.4 669.7 1054.7 670.3 1059.9 670.8 C1065.2 671.3 1070.5 671.8 1075.7 672.2 C1081.0 672.5 1086.2 672.8 1091.5 673.0 C1096.8 673.2 1102.0 673.2 1107.3 673.2 C1112.5 673.1 1117.8 672.9 1123.1 672.6 C1128.3 672.2 1133.6 671.7 1138.8 671.1 C1144.1 670.4 1149.4 669.6 1154.6 668.5 C1159.9 667.5 1165.1 666.3 1170.4 664.8 C1175.7 663.4 1180.9 661.7 1186.2 659.9 C1191.4 658.0 1196.7 655.9 1202.0 653.7 C1207.2 651.5 1212.5 649.1 1217.7 646.7 C1223.0 644.3 1228.2 641.9 1233.5 639.4 C1238.8 636.8 1244.0 633.7 1249.3 628.0 C1254.5 622.2 1259.8 613.0 1265.1 602.2 C1270.3 591.4 1275.6 579.1 1280.8 567.8 C1286.1 556.6 1291.4 546.6 1296.6 539.3 C1301.9 531.9 1307.1 526.6 1312.4 522.7 C1317.7 518.9 1322.9 516.5 1328.2 515.9 C1333.4 515.3 1338.7 516.5 1344.0 518.8 C1349.2 521.0 1354.5 524.2 1359.7 527.7 C1365.0 531.3 1370.3 535.2 1375.5 539.2 C1380.8 543.2 1386.0 547.2 1391.3 551.3 C1396.6 555.3 1401.8 559.2 1407.1 562.9 C1412.3 566.7 1417.6 570.2 1422.9 573.4 C1428.1 576.7 1433.4 579.6 1438.6 582.4 C1443.9 585.1 1449.2 587.5 1454.4 589.7 C1459.7 591.9 1464.9 593.9 1470.2 595.8 C1475.5 597.8 1480.7 599.7 1486.0 601.7 C1491.2 603.7 1496.5 605.8 1501.8 608.0 C1507.0 610.2 1512.3 612.5 1517.5 614.7 C1522.8 617.0 1528.1 619.2 1533.3 621.3 C1538.6 623.4 1543.8 625.4 1549.1 627.3 C1554.4 629.2 1559.6 630.9 1564.9 632.5 C1570.1 634.2 1575.4 635.7 1580.7 637.1 C1585.9 638.5 1591.2 639.9 1596.4 641.2 C1601.7 642.4 1606.9 643.6 1612.2 644.8 C1617.5 645.9 1622.7 647.0 1628.0 648.0 C1633.2 649.0 1638.5 650.0 1643.8 650.9 C1649.0 651.8 1654.3 652.6 1659.5 653.4 C1664.8 654.1 1670.1 654.8 1675.3 655.4 C1680.6 656.1 1685.8 656.6 1691.1 657.2 C1696.4 657.7 1701.6 658.1 1706.9 658.5 C1712.1 658.9 1717.4 659.3 1722.7 659.6 C1727.9 660.0 1733.2 660.3 1738.4 660.5 C1743.7 660.8 1749.0 661.1 1754.2 661.3 C1759.5 661.5 1764.7 661.8 1770.0 662.0" stroke="#ffcccc" stroke-width="3.3"/>
<path d="M1012.6 665.0 C1017.9 665.2 1023.1 665.4 1028.4 665.6 C1033.6 665.8 1038.9 666.0 1044.2 666.2 C1049.4 666.4 1054.7 666.6 1059.9 666.7 C1065.2 666.9 1070.5 667.1 1075.7 667.2 C1081.0 667.3 1086.2 667.4 1091.5 667.5 C1096.8 667.6 1102.0 667.7 1107.3 667.7 C1112.5 667.7 1117.8 667.7 1123.1 667.7 C1128.3 667.7 1133.6 667.6 1138.8 667.5 C1144.1 667.4 1149.4 667.3 1154.6 667.1 C1159.9 666.9 1165.1 666.7 1170.4 666.4 C1175.7 666.1 1180.9 665.8 1186.2 665.4 C1191.4 665.0 1196.7 664.6 1202.0 664.1 C1207.2 663.6 1212.5 663.0 1217.7 662.4 C1223.0 661.8 1228.2 661.1 1233.5 660.2 C1238.8 659.2 1244.0 657.9 1249.3 656.0 C1254.5 654.1 1259.8 651.6 1265.1 648.2 C1270.3 644.8 1275.6 640.4 1280.8 635.1 C1286.1 629.9 1291.4 623.8 1296.6 617.3 C1301.9 610.8 1307.1 603.8 1312.4 596.7 C1317.7 589.6 1322.9 582.3 1328.2 575.4 C1333.4 568.4 1338.7 561.6 1344.0 555.9 C1349.2 550.2 1354.5 545.7 1359.7 543.3 C1365.0 540.9 1370.3 540.3 1375.5 540.4 C1380.8 540.6 1386.0 541.7 1391.3 543.2 C1396.6 544.6 1401.8 546.5 1407.1 548.7 C1412.3 550.8 1417.6 553.3 1422.9 556.0 C1428.1 558.6 1433.4 561.4 1438.6 564.1 C1443.9 566.9 1449.2 569.5 1454.4 572.1 C1459.7 574.7 1464.9 577.2 1470.2 579.6 C1475.5 582.0 1480.7 584.4 1486.0 586.8 C1491.2 589.2 1496.5 591.6 1501.8 593.9 C1507.0 596.2 1512.3 598.5 1517.5 600.8 C1522.8 603.0 1528.1 605.2 1533.3 607.3 C1538.6 609.5 1543.8 611.5 1549.1 613.4 C1554.4 615.3 1559.6 617.2 1564.9 619.0 C1570.1 620.7 1575.4 622.4 1580.7 624.1 C1585.9 625.8 1591.2 627.4 1596.4 628.9 C1601.7 630.5 1606.9 632.1 1612.2 633.6 C1617.5 635.1 1622.7 636.6 1628.0 638.0 C1633.2 639.4 1638.5 640.8 1643.8 642.1 C1649.0 643.4 1654.3 644.6 1659.5 645.8 C1664.8 647.0 1670.1 648.1 1675.3 649.1 C1680.6 650.1 1685.8 651.1 1691.1 651.9 C1696.4 652.8 1701.6 653.6 1706.9 654.3 C1712.1 655.0 1717.4 655.7 1722.7 656.3 C1727.9 656.9 1733.2 657.5 1738.4 658.0 C1743.7 658.5 1749.0 659.1 1754.2 659.6 C1759.5 660.0 1764.7 660.5 1770.0 661.0" stroke="#ffcccc" stroke-width="3.3"/>
<path d="M1012.6 664.0 C1017.9 664.0 1023.1 664.1 1028.4 664.1 C1033.6 664.1 1038.9 664.1 1044.2 664.1 C1049.4 664.0 1054.7 664.0 1059.9 663.9 C1065.2 663.8 1070.5 663.6 1075.7 663.4 C1081.0 663.2 1086.2 663.0 1091.5 662.6 C1096.8 662.3 1102.0 661.9 1107.3 661.4 C1112.5 660.9 1117.8 660.3 1123.1 659.6 C1128.3 658.9 1133.6 658.1 1138.8 657.2 C1144.1 656.3 1149.4 655.3 1154.6 654.1 C1159.9 652.9 1165.1 651.6 1170.4 650.2 C1175.7 648.7 1180.9 647.0 1186.2 645.2 C1191.4 643.4 1196.7 641.4 1202.0 639.2 C1207.2 637.0 1212.5 634.6 1217.7 632.0 C1223.0 629.3 1228.2 626.5 1233.5 623.5 C1238.8 620.4 1244.0 617.2 1249.3 613.7 C1254.5 610.2 1259.8 606.4 1265.1 602.5 C1270.3 598.5 1275.6 594.3 1280.8 590.3 C1286.1 586.2 1291.4 582.2 1296.6 578.6 C1301.9 575.0 1307.1 571.7 1312.4 569.1 C1317.7 566.4 1322.9 564.4 1328.2 562.8 C1333.4 561.2 1338.7 560.2 1344.0 559.5 C1349.2 558.8 1354.5 558.6 1359.7 558.5 C1365.0 558.5 1370.3 558.7 1375.5 559.1 C1380.8 559.4 1386.0 560.0 1391.3 560.7 C1396.6 561.4 1401.8 562.3 1407.1 563.3 C1412.3 564.3 1417.6 565.5 1422.9 566.8 C1428.1 568.2 1433.4 569.7 1438.6 571.3 C1443.9 572.9 1449.2 574.7 1454.4 576.6 C1459.7 578.5 1464.9 580.6 1470.2 582.7 C1475.5 584.8 1480.7 587.0 1486.0 589.1 C1491.2 591.3 1496.5 593.5 1501.8 595.7 C1507.0 597.8 1512.3 599.9 1517.5 602.0 C1522.8 604.0 1528.1 606.1 1533.3 608.1 C1538.6 610.1 1543.8 612.1 1549.1 614.0 C1554.4 616.0 1559.6 617.9 1564.9 619.8 C1570.1 621.7 1575.4 623.6 1580.7 625.4 C1585.9 627.3 1591.2 629.0 1596.4 630.8 C1601.7 632.5 1606.9 634.1 1612.2 635.7 C1617.5 637.3 1622.7 638.8 1628.0 640.1 C1633.2 641.5 1638.5 642.8 1643.8 644.0 C1649.0 645.2 1654.3 646.3 1659.5 647.4 C1664.8 648.4 1670.1 649.4 1675.3 650.3 C1680.6 651.2 1685.8 652.0 1691.1 652.8 C1696.4 653.5 1701.6 654.2 1706.9 654.9 C1712.1 655.5 1717.4 656.1 1722.7 656.7 C1727.9 657.2 1733.2 657.8 1738.4 658.3 C1743.7 658.7 1749.0 659.2 1754.2 659.7 C1759.5 660.1 1764.7 660.6 1770.0 661.0" stroke="#ffcccc" stroke-width="3.3"/>
<path d="M1012.6 665.0 C1017.9 665.2 1023.1 665.3 1028.4 665.5 C1033.6 665.7 1038.9 665.8 1044.2 666.0 C1049.4 666.1 1054.7 666.3 1059.9 666.4 C1065.2 666.6 1070.5 666.7 1075.7 666.8 C1081.0 667.0 1086.2 667.1 1091.5 667.2 C1096.8 667.3 1102.0 667.4 1107.3 667.5 C1112.5 667.6 1117.8 667.7 1123.1 667.8 C1128.3 667.8 1133.6 667.9 1138.8 667.9 C1144.1 668.0 1149.4 668.0 1154.6 668.0 C1159.9 668.0 1165.1 668.0 1170.4 667.9 C1175.7 667.9 1180.9 667.8 1186.2 667.8 C1191.4 667.7 1196.7 667.6 1202.0 667.5 C1207.2 667.4 1212.5 667.2 1217.7 667.0 C1223.0 666.9 1228.2 666.7 1233.5 666.5 C1238.8 666.2 1244.0 666.0 1249.3 665.7 C1254.5 665.4 1259.8 665.1 1265.1 664.8 C1270.3 664.4 1275.6 664.1 1280.8 663.7 C1286.1 663.3 1291.4 662.8 1296.6 662.4 C1301.9 661.9 1307.1 661.4 1312.4 660.8 C1317.7 660.2 1322.9 659.5 1328.2 658.6 C1333.4 657.6 1338.7 656.5 1344.0 655.1 C1349.2 653.7 1354.5 652.0 1359.7 650.0 C1365.0 647.9 1370.3 645.4 1375.5 642.5 C1380.8 639.6 1386.0 636.1 1391.3 632.3 C1396.6 628.4 1401.8 624.2 1407.1 619.8 C1412.3 615.4 1417.6 610.8 1422.9 606.2 C1428.1 601.6 1433.4 597.0 1438.6 592.6 C1443.9 588.1 1449.2 583.9 1454.4 580.1 C1459.7 576.2 1464.9 572.8 1470.2 570.0 C1475.5 567.2 1480.7 565.0 1486.0 563.5 C1491.2 561.9 1496.5 561.0 1501.8 560.8 C1507.0 560.6 1512.3 561.0 1517.5 561.9 C1522.8 562.8 1528.1 564.2 1533.3 566.0 C1538.6 567.7 1543.8 569.8 1549.1 572.4 C1554.4 574.9 1559.6 577.8 1564.9 581.0 C1570.1 584.3 1575.4 587.9 1580.7 591.6 C1585.9 595.3 1591.2 599.0 1596.4 602.7 C1601.7 606.3 1606.9 609.7 1612.2 612.8 C1617.5 615.9 1622.7 618.5 1628.0 620.9 C1633.2 623.2 1638.5 625.2 1643.8 627.0 C1649.0 628.7 1654.3 630.2 1659.5 631.6 C1664.8 632.9 1670.1 634.0 1675.3 635.1 C1680.6 636.2 1685.8 637.1 1691.1 638.0 C1696.4 638.9 1701.6 639.8 1706.9 640.7 C1712.1 641.6 1717.4 642.5 1722.7 643.5 C1727.9 644.5 1733.2 645.5 1738.4 646.7 C1743.7 647.9 1749.0 649.2 1754.2 650.6 C1759.5 652.0 1764.7 653.5 1770.0 655.0" stroke="#ffcccc" stroke-width="3.3"/>
<path d="M1012.6 662.0 C1017.9 661.3 1023.1 660.6 1028.4 659.9 C1033.6 659.2 1038.9 658.5 1044.2 657.7 C1049.4 657.0 1054.7 656.2 1059.9 655.3 C1065.2 654.5 1070.5 653.6 1075.7 652.7 C1081.0 651.8 1086.2 650.8 1091.5 649.7 C1096.8 648.7 1102.0 647.5 1107.3 646.3 C1112.5 645.1 1117.8 643.8 1123.1 642.5 C1128.3 641.2 1133.6 639.8 1138.8 638.4 C1144.1 637.0 1149.4 635.5 1154.6 634.1 C1159.9 632.6 1165.1 631.2 1170.4 629.8 C1175.7 628.3 1180.9 626.9 1186.2 625.5 C1191.4 624.2 1196.7 622.8 1202.0 621.5 C1207.2 620.3 1212.5 619.0 1217.7 617.9 C1223.0 616.7 1228.2 615.6 1233.5 614.6 C1238.8 613.5 1244.0 612.5 1249.3 611.6 C1254.5 610.7 1259.8 609.9 1265.1 609.1 C1270.3 608.3 1275.6 607.6 1280.8 607.0 C1286.1 606.4 1291.4 605.8 1296.6 605.4 C1301.9 604.9 1307.1 604.5 1312.4 604.2 C1317.7 603.9 1322.9 603.6 1328.2 603.4 C1333.4 603.2 1338.7 603.1 1344.0 603.0 C1349.2 603.0 1354.5 603.0 1359.7 603.0 C1365.0 603.1 1370.3 603.2 1375.5 603.4 C1380.8 603.5 1386.0 603.7 1391.3 604.0 C1396.6 604.3 1401.8 604.6 1407.1 605.0 C1412.3 605.4 1417.6 605.8 1422.9 606.3 C1428.1 606.8 1433.4 607.3 1438.6 607.9 C1443.9 608.4 1449.2 609.0 1454.4 609.5 C1459.7 610.1 1464.9 610.6 1470.2 611.2 C1475.5 611.7 1480.7 612.1 1486.0 612.6 C1491.2 613.0 1496.5 613.4 1501.8 613.9 C1507.0 614.3 1512.3 614.8 1517.5 615.4 C1522.8 616.0 1528.1 616.7 1533.3 617.6 C1538.6 618.5 1543.8 619.6 1549.1 620.8 C1554.4 622.0 1559.6 623.3 1564.9 624.7 C1570.1 626.1 1575.4 627.5 1580.7 628.9 C1585.9 630.3 1591.2 631.7 1596.4 633.1 C1601.7 634.4 1606.9 635.6 1612.2 636.7 C1617.5 637.8 1622.7 638.8 1628.0 639.7 C1633.2 640.6 1638.5 641.4 1643.8 642.2 C1649.0 643.0 1654.3 643.6 1659.5 644.3 C1664.8 644.9 1670.1 645.6 1675.3 646.2 C1680.6 646.8 1685.8 647.4 1691.1 648.0 C1696.4 648.6 1701.6 649.2 1706.9 649.8 C1712.1 650.4 1717.4 651.0 1722.7 651.6 C1727.9 652.2 1733.2 652.8 1738.4 653.4 C1743.7 654.0 1749.0 654.6 1754.2 655.2 C1759.5 655.8 1764.7 656.4 1770.0 657.0" stroke="#ffcccc" stroke-width="3.3"/>
<path d="M1012.6 664.0 C1017.9 663.7 1023.1 663.5 1028.4 663.2 C1033.6 662.9 1038.9 662.6 1044.2 662.3 C1049.4 662.0 1054.7 661.6 1059.9 661.3 C1065.2 660.9 1070.5 660.5 1075.7 660.0 C1081.0 659.6 1086.2 659.1 1091.5 658.6 C1096.8 658.0 1102.0 657.5 1107.3 656.8 C1112.5 656.2 1117.8 655.4 1123.1 654.7 C1128.3 653.9 1133.6 653.0 1138.8 652.1 C1144.1 651.1 1149.4 650.1 1154.6 649.0 C1159.9 647.9 1165.1 646.7 1170.4 645.4 C1175.7 644.2 1180.9 642.8 1186.2 641.5 C1191.4 640.1 1196.7 638.8 1202.0 637.4 C1207.2 636.0 1212.5 634.6 1217.7 633.2 C1223.0 631.8 1228.2 630.4 1233.5 629.1 C1238.8 627.7 1244.0 626.4 1249.3 625.2 C1254.5 624.0 1259.8 622.8 1265.1 621.7 C1270.3 620.6 1275.6 619.6 1280.8 618.6 C1286.1 617.6 1291.4 616.8 1296.6 616.0 C1301.9 615.2 1307.1 614.4 1312.4 613.8 C1317.7 613.2 1322.9 612.6 1328.2 612.2 C1333.4 611.7 1338.7 611.3 1344.0 611.1 C1349.2 610.8 1354.5 610.6 1359.7 610.5 C1365.0 610.5 1370.3 610.5 1375.5 610.6 C1380.8 610.8 1386.0 611.0 1391.3 611.4 C1396.6 611.7 1401.8 612.2 1407.1 612.8 C1412.3 613.3 1417.6 614.0 1422.9 614.8 C1428.1 615.5 1433.4 616.4 1438.6 617.3 C1443.9 618.1 1449.2 619.1 1454.4 620.0 C1459.7 621.0 1464.9 622.0 1470.2 623.0 C1475.5 623.9 1480.7 624.9 1486.0 625.8 C1491.2 626.8 1496.5 627.7 1501.8 628.6 C1507.0 629.5 1512.3 630.4 1517.5 631.3 C1522.8 632.2 1528.1 633.0 1533.3 633.8 C1538.6 634.7 1543.8 635.5 1549.1 636.3 C1554.4 637.1 1559.6 638.0 1564.9 638.7 C1570.1 639.5 1575.4 640.3 1580.7 641.1 C1585.9 641.9 1591.2 642.6 1596.4 643.3 C1601.7 644.1 1606.9 644.8 1612.2 645.5 C1617.5 646.2 1622.7 646.8 1628.0 647.5 C1633.2 648.1 1638.5 648.7 1643.8 649.3 C1649.0 649.9 1654.3 650.4 1659.5 651.0 C1664.8 651.5 1670.1 652.0 1675.3 652.4 C1680.6 652.9 1685.8 653.4 1691.1 653.8 C1696.4 654.2 1701.6 654.6 1706.9 655.0 C1712.1 655.4 1717.4 655.7 1722.7 656.1 C1727.9 656.4 1733.2 656.8 1738.4 657.1 C1743.7 657.4 1749.0 657.7 1754.2 658.1 C1759.5 658.4 1764.7 658.7 1770.0 659.0" stroke="#ffcccc" stroke-width="3.3"/>
<path d="M1012.6 665.0 C1017.9 665.2 1023.1 665.4 1028.4 665.6 C1033.6 665.7 1038.9 665.9 1044.2 666.0 C1049.4 666.2 1054.7 666.3 1059.9 666.4 C1065.2 666.6 1070.5 666.6 1075.7 666.7 C1081.0 666.8 1086.2 666.8 1091.5 666.8 C1096.8 666.7 1102.0 666.7 1107.3 666.6 C1112.5 666.5 1117.8 666.3 1123.1 666.1 C1128.3 665.9 1133.6 665.6 1138.8 665.3 C1144.1 664.9 1149.4 664.5 1154.6 664.1 C1159.9 663.6 1165.1 663.0 1170.4 662.4 C1175.7 661.8 1180.9 661.1 1186.2 660.3 C1191.4 659.5 1196.7 658.6 1202.0 657.6 C1207.2 656.6 1212.5 655.5 1217.7 654.4 C1223.0 653.2 1228.2 652.0 1233.5 650.7 C1238.8 649.4 1244.0 648.0 1249.3 646.6 C1254.5 645.2 1259.8 643.7 1265.1 642.2 C1270.3 640.8 1275.6 639.2 1280.8 637.7 C1286.1 636.1 1291.4 634.6 1296.6 633.0 C1301.9 631.4 1307.1 629.9 1312.4 628.3 C1317.7 626.8 1322.9 625.2 1328.2 623.7 C1333.4 622.2 1338.7 620.7 1344.0 619.2 C1349.2 617.8 1354.5 616.4 1359.7 615.0 C1365.0 613.6 1370.3 612.3 1375.5 611.0 C1380.8 609.8 1386.0 608.6 1391.3 607.5 C1396.6 606.4 1401.8 605.3 1407.1 604.4 C1412.3 603.5 1417.6 602.6 1422.9 601.9 C1428.1 601.2 1433.4 600.6 1438.6 600.1 C1443.9 599.6 1449.2 599.3 1454.4 599.1 C1459.7 598.9 1464.9 598.9 1470.2 599.0 C1475.5 599.2 1480.7 599.6 1486.0 600.2 C1491.2 600.8 1496.5 601.6 1501.8 602.5 C1507.0 603.5 1512.3 604.6 1517.5 605.8 C1522.8 607.0 1528.1 608.3 1533.3 609.7 C1538.6 611.0 1543.8 612.4 1549.1 613.9 C1554.4 615.3 1559.6 616.8 1564.9 618.3 C1570.1 619.8 1575.4 621.3 1580.7 622.7 C1585.9 624.2 1591.2 625.7 1596.4 627.1 C1601.7 628.6 1606.9 630.0 1612.2 631.4 C1617.5 632.7 1622.7 634.1 1628.0 635.3 C1633.2 636.6 1638.5 637.8 1643.8 639.0 C1649.0 640.2 1654.3 641.3 1659.5 642.3 C1664.8 643.4 1670.1 644.4 1675.3 645.3 C1680.6 646.2 1685.8 647.1 1691.1 647.9 C1696.4 648.7 1701.6 649.4 1706.9 650.1 C1712.1 650.8 1717.4 651.5 1722.7 652.1 C1727.9 652.7 1733.2 653.3 1738.4 653.8 C1743.7 654.4 1749.0 654.9 1754.2 655.5 C1759.5 656.0 1764.7 656.5 1770.0 657.0" stroke="#ffcccc" stroke-width="3.3"/>
<path d="M1012.6 665.5 C1017.9 665.4 1023.1 665.3 1028.4 665.1 C1033.6 665.0 1038.9 664.9 1044.2 664.8 C1049.4 664.6 1054.7 664.5 1059.9 664.3 C1065.2 664.2 1070.5 664.1 1075.7 663.9 C1081.0 663.7 1086.2 663.6 1091.5 663.4 C1096.8 663.2 1102.0 663.0 1107.3 662.8 C1112.5 662.6 1117.8 662.4 1123.1 662.0 C1128.3 661.7 1133.6 661.1 1138.8 659.8 C1144.1 658.6 1149.4 656.7 1154.6 653.8 C1159.9 650.9 1165.1 646.9 1170.4 642.0 C1175.7 637.2 1180.9 631.7 1186.2 626.3 C1191.4 620.8 1196.7 615.4 1202.0 610.8 C1207.2 606.1 1212.5 602.3 1217.7 599.3 C1223.0 596.2 1228.2 593.8 1233.5 591.8 C1238.8 589.9 1244.0 588.2 1249.3 586.9 C1254.5 585.5 1259.8 584.5 1265.1 583.8 C1270.3 583.1 1275.6 582.7 1280.8 582.6 C1286.1 582.5 1291.4 582.6 1296.6 583.0 C1301.9 583.4 1307.1 584.0 1312.4 584.8 C1317.7 585.5 1322.9 586.5 1328.2 587.5 C1333.4 588.6 1338.7 589.8 1344.0 591.0 C1349.2 592.3 1354.5 593.6 1359.7 594.9 C1365.0 596.1 1370.3 597.3 1375.5 598.4 C1380.8 599.4 1386.0 600.3 1391.3 601.2 C1396.6 602.0 1401.8 602.7 1407.1 603.4 C1412.3 604.1 1417.6 604.8 1422.9 605.4 C1428.1 606.0 1433.4 606.6 1438.6 607.2 C1443.9 607.8 1449.2 608.4 1454.4 609.0 C1459.7 609.6 1464.9 610.2 1470.2 610.8 C1475.5 611.4 1480.7 612.1 1486.0 612.8 C1491.2 613.5 1496.5 614.2 1501.8 614.9 C1507.0 615.7 1512.3 616.5 1517.5 617.2 C1522.8 618.0 1528.1 618.8 1533.3 619.7 C1538.6 620.5 1543.8 621.3 1549.1 622.2 C1554.4 623.1 1559.6 623.9 1564.9 624.8 C1570.1 625.7 1575.4 626.6 1580.7 627.5 C1585.9 628.4 1591.2 629.3 1596.4 630.2 C1601.7 631.1 1606.9 632.0 1612.2 633.0 C1617.5 633.9 1622.7 634.9 1628.0 635.8 C1633.2 636.8 1638.5 637.7 1643.8 638.7 C1649.0 639.7 1654.3 640.7 1659.5 641.7 C1664.8 642.6 1670.1 643.6 1675.3 644.6 C1680.6 645.5 1685.8 646.5 1691.1 647.4 C1696.4 648.3 1701.6 649.1 1706.9 650.0 C1712.1 650.8 1717.4 651.6 1722.7 652.3 C1727.9 653.1 1733.2 653.8 1738.4 654.4 C1743.7 655.1 1749.0 655.7 1754.2 656.3 C1759.5 656.9 1764.7 657.4 1770.0 658.0" stroke="#ccffcc" stroke-width="3.3"/>
<path d="M1012.6 665.5 C1017.9 665.8 1023.1 666.1 1028.4 666.4 C1033.6 666.7 1038.9 666.9 1044.2 667.2 C1049.4 667.5 1054.7 667.8 1059.9 668.1 C1065.2 668.3 1070.5 668.6 1075.7 668.9 C1081.0 669.1 1086.2 669.4 1091.5 669.6 C1096.8 669.8 1102.0 670.1 1107.3 670.3 C1112.5 670.5 1117.8 670.7 1123.1 670.9 C1128.3 671.0 1133.6 671.2 1138.8 671.4 C1144.1 671.5 1149.4 671.7 1154.6 671.8 C1159.9 671.9 1165.1 672.0 1170.4 672.1 C1175.7 672.1 1180.9 672.2 1186.2 672.2 C1191.4 672.2 1196.7 672.3 1202.0 672.2 C1207.2 672.2 1212.5 672.2 1217.7 672.1 C1223.0 672.0 1228.2 671.9 1233.5 671.8 C1238.8 671.6 1244.0 671.5 1249.3 671.3 C1254.5 671.1 1259.8 670.9 1265.1 670.6 C1270.3 670.3 1275.6 670.0 1280.8 669.7 C1286.1 669.4 1291.4 669.0 1296.6 668.6 C1301.9 668.2 1307.1 667.7 1312.4 667.2 C1317.7 666.7 1322.9 666.2 1328.2 665.6 C1333.4 665.1 1338.7 664.4 1344.0 663.8 C1349.2 663.1 1354.5 662.4 1359.7 661.7 C1365.0 660.9 1370.3 660.1 1375.5 659.2 C1380.8 658.3 1386.0 657.4 1391.3 656.4 C1396.6 655.4 1401.8 654.3 1407.1 653.1 C1412.3 652.0 1417.6 650.7 1422.9 649.4 C1428.1 648.0 1433.4 646.5 1438.6 644.7 C1443.9 642.9 1449.2 640.8 1454.4 638.2 C1459.7 635.6 1464.9 632.4 1470.2 628.6 C1475.5 624.7 1480.7 620.1 1486.0 614.6 C1491.2 609.1 1496.5 602.6 1501.8 595.0 C1507.0 587.4 1512.3 578.7 1517.5 570.0 C1522.8 561.3 1528.1 552.5 1533.3 544.3 C1538.6 536.2 1543.8 528.5 1549.1 521.5 C1554.4 514.5 1559.6 508.2 1564.9 502.8 C1570.1 497.4 1575.4 493.0 1580.7 489.6 C1585.9 486.2 1591.2 483.8 1596.4 482.7 C1601.7 481.5 1606.9 481.6 1612.2 483.2 C1617.5 484.8 1622.7 488.0 1628.0 493.3 C1633.2 498.6 1638.5 505.9 1643.8 514.7 C1649.0 523.4 1654.3 533.6 1659.5 542.4 C1664.8 551.2 1670.1 558.5 1675.3 565.5 C1680.6 572.5 1685.8 579.4 1691.1 586.2 C1696.4 592.9 1701.6 599.5 1706.9 605.4 C1712.1 611.4 1717.4 616.7 1722.7 621.3 C1727.9 625.9 1733.2 629.8 1738.4 633.3 C1743.7 636.7 1749.0 639.7 1754.2 642.4 C1759.5 645.1 1764.7 647.6 1770.0 650.1" stroke="#ccffcc" stroke-width="3.3"/>
<path d="M1012.6 665.5 C1017.9 665.5 1023.1 665.4 1028.4 665.4 C1033.6 665.4 1038.9 665.3 1044.2 665.3 C1049.4 665.3 1054.7 665.2 1059.9 665.2 C1065.2 665.2 1070.5 665.1 1075.7 665.1 C1081.0 665.1 1086.2 665.0 1091.5 665.0 C1096.8 664.9 1102.0 664.9 1107.3 664.9 C1112.5 664.8 1117.8 664.8 1123.1 664.8 C1128.3 664.7 1133.6 664.7 1138.8 664.6 C1144.1 664.6 1149.4 664.5 1154.6 664.5 C1159.9 664.5 1165.1 664.4 1170.4 664.4 C1175.7 664.3 1180.9 664.3 1186.2 664.2 C1191.4 664.2 1196.7 664.1 1202.0 664.1 C1207.2 664.0 1212.5 664.0 1217.7 663.9 C1223.0 663.8 1228.2 663.8 1233.5 663.7 C1238.8 663.7 1244.0 663.6 1249.3 663.5 C1254.5 663.5 1259.8 663.4 1265.1 663.3 C1270.3 663.3 1275.6 663.2 1280.8 663.1 C1286.1 663.1 1291.4 663.0 1296.6 662.9 C1301.9 662.8 1307.1 662.7 1312.4 662.7 C1317.7 662.6 1322.9 662.5 1328.2 662.4 C1333.4 662.3 1338.7 662.2 1344.0 662.1 C1349.2 662.1 1354.5 662.0 1359.7 661.8 C1365.0 661.7 1370.3 661.5 1375.5 661.2 C1380.8 660.9 1386.0 660.5 1391.3 659.8 C1396.6 659.2 1401.8 658.3 1407.1 657.2 C1412.3 656.0 1417.6 654.6 1422.9 652.8 C1428.1 651.0 1433.4 648.8 1438.6 646.2 C1443.9 643.6 1449.2 640.5 1454.4 637.0 C1459.7 633.4 1464.9 629.4 1470.2 625.2 C1475.5 621.0 1480.7 616.5 1486.0 612.0 C1491.2 607.5 1496.5 603.0 1501.8 598.7 C1507.0 594.4 1512.3 590.2 1517.5 586.0 C1522.8 581.9 1528.1 577.8 1533.3 573.7 C1538.6 569.6 1543.8 565.5 1549.1 561.4 C1554.4 557.3 1559.6 553.2 1564.9 549.2 C1570.1 545.2 1575.4 541.1 1580.7 537.3 C1585.9 533.5 1591.2 530.0 1596.4 527.1 C1601.7 524.1 1606.9 521.9 1612.2 520.4 C1617.5 518.8 1622.7 518.0 1628.0 517.7 C1633.2 517.5 1638.5 517.9 1643.8 518.9 C1649.0 519.9 1654.3 521.6 1659.5 524.0 C1664.8 526.4 1670.1 529.5 1675.3 533.1 C1680.6 536.6 1685.8 540.4 1691.1 544.6 C1696.4 548.8 1701.6 553.4 1706.9 558.4 C1712.1 563.5 1717.4 569.0 1722.7 575.0 C1727.9 580.9 1733.2 587.1 1738.4 592.9 C1743.7 598.8 1749.0 604.2 1754.2 609.5 C1759.5 614.8 1764.7 619.8 1770.0 624.9" stroke="#ccffcc" stroke-width="3.3"/>
<path d="M1012.6 665.5 C1017.9 665.8 1023.1 666.1 1028.4 666.4 C1033.6 666.7 1038.9 667.0 1044.2 667.3 C1049.4 667.6 1054.7 667.9 1059.9 668.2 C1065.2 668.5 1070.5 668.7 1075.7 669.0 C1081.0 669.3 1086.2 669.6 1091.5 669.8 C1096.8 670.1 1102.0 670.3 1107.3 670.6 C1112.5 670.8 1117.8 671.0 1123.1 671.2 C1128.3 671.5 1133.6 671.7 1138.8 671.9 C1144.1 672.1 1149.4 672.2 1154.6 672.4 C1159.9 672.6 1165.1 672.7 1170.4 672.8 C1175.7 673.0 1180.9 673.1 1186.2 673.2 C1191.4 673.2 1196.7 673.3 1202.0 673.4 C1207.2 673.4 1212.5 673.5 1217.7 673.5 C1223.0 673.5 1228.2 673.5 1233.5 673.4 C1238.8 673.4 1244.0 673.3 1249.3 673.2 C1254.5 673.1 1259.8 673.0 1265.1 672.9 C1270.3 672.7 1275.6 672.6 1280.8 672.4 C1286.1 672.2 1291.4 671.9 1296.6 671.7 C1301.9 671.4 1307.1 671.1 1312.4 670.8 C1317.7 670.5 1322.9 670.1 1328.2 669.7 C1333.4 669.3 1338.7 668.9 1344.0 668.4 C1349.2 668.0 1354.5 667.5 1359.7 666.9 C1365.0 666.4 1370.3 665.8 1375.5 665.2 C1380.8 664.6 1386.0 663.9 1391.3 663.2 C1396.6 662.5 1401.8 661.8 1407.1 661.0 C1412.3 660.2 1417.6 659.3 1422.9 658.3 C1428.1 657.4 1433.4 656.2 1438.6 654.9 C1443.9 653.6 1449.2 652.2 1454.4 650.4 C1459.7 648.7 1464.9 646.8 1470.2 644.5 C1475.5 642.3 1480.7 639.7 1486.0 636.8 C1491.2 633.9 1496.5 630.7 1501.8 627.2 C1507.0 623.7 1512.3 619.9 1517.5 615.8 C1522.8 611.7 1528.1 607.3 1533.3 602.7 C1538.6 598.1 1543.8 593.2 1549.1 588.1 C1554.4 583.0 1559.6 577.6 1564.9 572.4 C1570.1 567.2 1575.4 562.2 1580.7 558.0 C1585.9 553.9 1591.2 550.5 1596.4 547.3 C1601.7 544.0 1606.9 540.9 1612.2 537.6 C1617.5 534.2 1622.7 530.9 1628.0 528.3 C1633.2 525.7 1638.5 523.8 1643.8 522.8 C1649.0 521.8 1654.3 521.5 1659.5 522.1 C1664.8 522.6 1670.1 523.9 1675.3 525.3 C1680.6 526.7 1685.8 528.3 1691.1 530.0 C1696.4 531.8 1701.6 533.9 1706.9 536.5 C1712.1 539.2 1717.4 542.5 1722.7 546.7 C1727.9 550.9 1733.2 555.9 1738.4 562.0 C1743.7 568.1 1749.0 575.3 1754.2 583.2 C1759.5 591.1 1764.7 599.7 1770.0 608.2" stroke="#ccffcc" stroke-width="3.3"/>
<path d="M1012.6 665.5 C1017.9 665.4 1023.1 665.4 1028.4 665.3 C1033.6 665.2 1038.9 665.1 1044.2 665.1 C1049.4 665.0 1054.7 664.9 1059.9 664.9 C1065.2 664.8 1070.5 664.7 1075.7 664.6 C1081.0 664.6 1086.2 664.5 1091.5 664.4 C1096.8 664.3 1102.0 664.3 1107.3 664.2 C1112.5 664.1 1117.8 664.0 1123.1 663.9 C1128.3 663.9 1133.6 663.8 1138.8 663.7 C1144.1 663.6 1149.4 663.5 1154.6 663.4 C1159.9 663.3 1165.1 663.2 1170.4 663.1 C1175.7 663.0 1180.9 662.9 1186.2 662.8 C1191.4 662.7 1196.7 662.6 1202.0 662.5 C1207.2 662.4 1212.5 662.3 1217.7 662.2 C1223.0 662.1 1228.2 661.9 1233.5 661.8 C1238.8 661.7 1244.0 661.6 1249.3 661.4 C1254.5 661.3 1259.8 661.2 1265.1 661.0 C1270.3 660.9 1275.6 660.7 1280.8 660.6 C1286.1 660.4 1291.4 660.3 1296.6 660.1 C1301.9 660.0 1307.1 659.8 1312.4 659.6 C1317.7 659.4 1322.9 659.1 1328.2 658.8 C1333.4 658.4 1338.7 657.9 1344.0 657.2 C1349.2 656.5 1354.5 655.6 1359.7 654.5 C1365.0 653.4 1370.3 652.0 1375.5 650.3 C1380.8 648.6 1386.0 646.6 1391.3 644.3 C1396.6 641.9 1401.8 639.1 1407.1 636.0 C1412.3 632.8 1417.6 629.1 1422.9 625.1 C1428.1 621.0 1433.4 616.4 1438.6 611.4 C1443.9 606.3 1449.2 600.8 1454.4 594.7 C1459.7 588.7 1464.9 582.3 1470.2 576.2 C1475.5 570.1 1480.7 564.4 1486.0 559.4 C1491.2 554.4 1496.5 550.0 1501.8 546.2 C1507.0 542.3 1512.3 539.1 1517.5 536.2 C1522.8 533.4 1528.1 531.0 1533.3 529.1 C1538.6 527.2 1543.8 525.7 1549.1 524.7 C1554.4 523.7 1559.6 523.3 1564.9 523.8 C1570.1 524.2 1575.4 525.5 1580.7 528.1 C1585.9 530.6 1591.2 534.6 1596.4 539.6 C1601.7 544.6 1606.9 550.6 1612.2 556.8 C1617.5 563.0 1622.7 569.4 1628.0 575.1 C1633.2 580.8 1638.5 585.7 1643.8 589.6 C1649.0 593.5 1654.3 596.6 1659.5 599.3 C1664.8 602.1 1670.1 604.6 1675.3 606.9 C1680.6 609.3 1685.8 611.4 1691.1 613.4 C1696.4 615.4 1701.6 617.2 1706.9 619.1 C1712.1 620.9 1717.4 622.6 1722.7 624.4 C1727.9 626.2 1733.2 627.9 1738.4 629.7 C1743.7 631.4 1749.0 633.1 1754.2 634.8 C1759.5 636.6 1764.7 638.3 1770.0 640.0" stroke="#ccffcc" stroke-width="3.3"/>
<path d="M1012.6 665.5 C1017.9 665.7 1023.1 665.9 1028.4 666.1 C1033.6 666.3 1038.9 666.6 1044.2 666.8 C1049.4 667.0 1054.7 667.1 1059.9 667.3 C1065.2 667.5 1070.5 667.7 1075.7 667.9 C1081.0 668.0 1086.2 668.2 1091.5 668.3 C1096.8 668.4 1102.0 668.5 1107.3 668.6 C1112.5 668.7 1117.8 668.8 1123.1 668.9 C1128.3 668.9 1133.6 669.0 1138.8 669.0 C1144.1 669.0 1149.4 669.0 1154.6 668.9 C1159.9 668.9 1165.1 668.8 1170.4 668.7 C1175.7 668.6 1180.9 668.5 1186.2 668.3 C1191.4 668.1 1196.7 667.9 1202.0 667.7 C1207.2 667.5 1212.5 667.2 1217.7 666.9 C1223.0 666.5 1228.2 666.2 1233.5 665.8 C1238.8 665.4 1244.0 664.9 1249.3 664.4 C1254.5 663.9 1259.8 663.4 1265.1 662.8 C1270.3 662.2 1275.6 661.5 1280.8 660.8 C1286.1 660.1 1291.4 659.4 1296.6 658.6 C1301.9 657.8 1307.1 656.9 1312.4 655.9 C1317.7 654.9 1322.9 653.8 1328.2 652.5 C1333.4 651.2 1338.7 649.7 1344.0 647.9 C1349.2 646.1 1354.5 644.0 1359.7 641.5 C1365.0 639.0 1370.3 636.2 1375.5 632.8 C1380.8 629.5 1386.0 625.7 1391.3 621.5 C1396.6 617.3 1401.8 612.7 1407.1 607.7 C1412.3 602.8 1417.6 597.6 1422.9 592.3 C1428.1 586.9 1433.4 581.3 1438.6 575.8 C1443.9 570.3 1449.2 564.9 1454.4 560.0 C1459.7 555.1 1464.9 550.8 1470.2 547.4 C1475.5 544.0 1480.7 541.5 1486.0 540.2 C1491.2 538.9 1496.5 538.7 1501.8 539.6 C1507.0 540.5 1512.3 542.4 1517.5 544.7 C1522.8 547.1 1528.1 549.8 1533.3 552.6 C1538.6 555.4 1543.8 558.4 1549.1 561.2 C1554.4 564.1 1559.6 566.8 1564.9 569.3 C1570.1 571.8 1575.4 574.2 1580.7 576.4 C1585.9 578.7 1591.2 580.9 1596.4 583.0 C1601.7 585.1 1606.9 587.1 1612.2 589.1 C1617.5 591.2 1622.7 593.2 1628.0 595.2 C1633.2 597.2 1638.5 599.2 1643.8 601.2 C1649.0 603.2 1654.3 605.2 1659.5 607.2 C1664.8 609.2 1670.1 611.2 1675.3 613.2 C1680.6 615.1 1685.8 617.0 1691.1 618.9 C1696.4 620.8 1701.6 622.6 1706.9 624.4 C1712.1 626.2 1717.4 628.0 1722.7 629.7 C1727.9 631.5 1733.2 633.2 1738.4 634.9 C1743.7 636.5 1749.0 638.2 1754.2 639.9 C1759.5 641.5 1764.7 643.2 1770.0 644.8" stroke="#ccffcc" stroke-width="3.3"/>
<path d="M1012.6 665.5 C1017.9 665.5 1023.1 665.6 1028.4 665.6 C1033.6 665.7 1038.9 665.7 1044.2 665.8 C1049.4 665.8 1054.7 665.8 1059.9 665.9 C1065.2 665.9 1070.5 665.9 1075.7 665.9 C1081.0 665.9 1086.2 665.9 1091.5 665.9 C1096.8 665.9 1102.0 665.9 1107.3 665.9 C1112.5 665.8 1117.8 665.8 1123.1 665.7 C1128.3 665.7 1133.6 665.6 1138.8 665.5 C1144.1 665.4 1149.4 665.3 1154.6 665.1 C1159.9 665.0 1165.1 664.9 1170.4 664.7 C1175.7 664.5 1180.9 664.3 1186.2 664.1 C1191.4 663.9 1196.7 663.6 1202.0 663.3 C1207.2 663.1 1212.5 662.8 1217.7 662.4 C1223.0 662.1 1228.2 661.7 1233.5 661.4 C1238.8 661.0 1244.0 660.5 1249.3 660.1 C1254.5 659.6 1259.8 659.1 1265.1 658.6 C1270.3 658.0 1275.6 657.4 1280.8 656.7 C1286.1 656.0 1291.4 655.2 1296.6 654.3 C1301.9 653.4 1307.1 652.4 1312.4 651.2 C1317.7 650.1 1322.9 648.7 1328.2 647.2 C1333.4 645.7 1338.7 644.1 1344.0 642.2 C1349.2 640.3 1354.5 638.2 1359.7 635.9 C1365.0 633.6 1370.3 631.1 1375.5 628.6 C1380.8 626.0 1386.0 623.2 1391.3 620.5 C1396.6 617.7 1401.8 614.9 1407.1 612.0 C1412.3 609.2 1417.6 606.3 1422.9 603.5 C1428.1 600.7 1433.4 598.0 1438.6 595.3 C1443.9 592.6 1449.2 590.0 1454.4 587.4 C1459.7 584.9 1464.9 582.5 1470.2 580.1 C1475.5 577.8 1480.7 575.5 1486.0 573.4 C1491.2 571.3 1496.5 569.4 1501.8 567.6 C1507.0 565.8 1512.3 564.1 1517.5 562.7 C1522.8 561.3 1528.1 560.0 1533.3 559.0 C1538.6 558.0 1543.8 557.1 1549.1 556.5 C1554.4 555.8 1559.6 555.4 1564.9 555.2 C1570.1 554.9 1575.4 554.8 1580.7 555.0 C1585.9 555.1 1591.2 555.5 1596.4 556.1 C1601.7 556.7 1606.9 557.6 1612.2 558.8 C1617.5 560.0 1622.7 561.4 1628.0 562.8 C1633.2 564.2 1638.5 565.6 1643.8 566.6 C1649.0 567.6 1654.3 568.2 1659.5 568.7 C1664.8 569.2 1670.1 569.6 1675.3 570.0 C1680.6 570.3 1685.8 570.7 1691.1 571.3 C1696.4 572.0 1701.6 572.7 1706.9 574.0 C1712.1 575.2 1717.4 576.9 1722.7 579.3 C1727.9 581.8 1733.2 585.0 1738.4 589.2 C1743.7 593.3 1749.0 598.3 1754.2 603.7 C1759.5 609.2 1764.7 615.0 1770.0 620.8" stroke="#ccffcc" stroke-width="3.3"/>
<path d="M1012.6 665.5 C1017.9 665.5 1023.1 665.4 1028.4 665.4 C1033.6 665.4 1038.9 665.4 1044.2 665.3 C1049.4 665.3 1054.7 665.3 1059.9 665.2 C1065.2 665.2 1070.5 665.1 1075.7 665.1 C1081.0 665.1 1086.2 665.0 1091.5 665.0 C1096.8 664.9 1102.0 664.9 1107.3 664.8 C1112.5 664.8 1117.8 664.7 1123.1 664.6 C1128.3 664.6 1133.6 664.5 1138.8 664.4 C1144.1 664.3 1149.4 664.2 1154.6 664.1 C1159.9 664.0 1165.1 663.9 1170.4 663.8 C1175.7 663.7 1180.9 663.6 1186.2 663.5 C1191.4 663.3 1196.7 663.2 1202.0 663.1 C1207.2 662.9 1212.5 662.7 1217.7 662.6 C1223.0 662.4 1228.2 662.2 1233.5 662.0 C1238.8 661.8 1244.0 661.6 1249.3 661.4 C1254.5 661.2 1259.8 661.0 1265.1 660.7 C1270.3 660.5 1275.6 660.3 1280.8 660.0 C1286.1 659.7 1291.4 659.4 1296.6 659.1 C1301.9 658.8 1307.1 658.4 1312.4 657.9 C1317.7 657.5 1322.9 656.9 1328.2 656.3 C1333.4 655.6 1338.7 654.8 1344.0 653.9 C1349.2 653.0 1354.5 651.9 1359.7 650.7 C1365.0 649.4 1370.3 648.0 1375.5 646.4 C1380.8 644.7 1386.0 642.9 1391.3 640.8 C1396.6 638.8 1401.8 636.5 1407.1 634.1 C1412.3 631.7 1417.6 629.2 1422.9 626.5 C1428.1 623.8 1433.4 621.1 1438.6 618.2 C1443.9 615.4 1449.2 612.5 1454.4 609.5 C1459.7 606.6 1464.9 603.6 1470.2 600.7 C1475.5 597.8 1480.7 594.9 1486.0 592.1 C1491.2 589.4 1496.5 586.8 1501.8 584.3 C1507.0 581.8 1512.3 579.5 1517.5 577.4 C1522.8 575.2 1528.1 573.1 1533.3 571.1 C1538.6 569.0 1543.8 567.0 1549.1 565.0 C1554.4 563.0 1559.6 561.0 1564.9 559.1 C1570.1 557.3 1575.4 555.8 1580.7 554.7 C1585.9 553.7 1591.2 553.3 1596.4 553.5 C1601.7 553.8 1606.9 554.7 1612.2 556.0 C1617.5 557.4 1622.7 559.1 1628.0 561.0 C1633.2 562.9 1638.5 565.0 1643.8 567.2 C1649.0 569.4 1654.3 571.8 1659.5 574.3 C1664.8 576.9 1670.1 579.6 1675.3 582.5 C1680.6 585.4 1685.8 588.5 1691.1 591.8 C1696.4 595.0 1701.6 598.3 1706.9 601.7 C1712.1 605.0 1717.4 608.3 1722.7 611.5 C1727.9 614.6 1733.2 617.7 1738.4 620.7 C1743.7 623.7 1749.0 626.6 1754.2 629.5 C1759.5 632.4 1764.7 635.2 1770.0 638.0" stroke="#ccffcc" stroke-width="3.3"/>
<path d="M1012.6 665.5 C1017.9 665.5 1023.1 665.4 1028.4 665.4 C1033.6 665.3 1038.9 665.3 1044.2 665.3 C1049.4 665.2 1054.7 665.2 1059.9 665.1 C1065.2 665.1 1070.5 665.0 1075.7 665.0 C1081.0 664.9 1086.2 664.8 1091.5 664.8 C1096.8 664.7 1102.0 664.6 1107.3 664.6 C1112.5 664.5 1117.8 664.4 1123.1 664.3 C1128.3 664.2 1133.6 664.1 1138.8 664.0 C1144.1 663.9 1149.4 663.8 1154.6 663.7 C1159.9 663.5 1165.1 663.4 1170.4 663.2 C1175.7 663.1 1180.9 662.9 1186.2 662.8 C1191.4 662.6 1196.7 662.4 1202.0 662.2 C1207.2 662.0 1212.5 661.8 1217.7 661.6 C1223.0 661.4 1228.2 661.1 1233.5 660.9 C1238.8 660.6 1244.0 660.3 1249.3 660.1 C1254.5 659.8 1259.8 659.5 1265.1 659.1 C1270.3 658.8 1275.6 658.4 1280.8 658.0 C1286.1 657.6 1291.4 657.1 1296.6 656.6 C1301.9 656.0 1307.1 655.4 1312.4 654.7 C1317.7 654.0 1322.9 653.2 1328.2 652.3 C1333.4 651.4 1338.7 650.4 1344.0 649.3 C1349.2 648.2 1354.5 646.9 1359.7 645.6 C1365.0 644.2 1370.3 642.7 1375.5 641.1 C1380.8 639.4 1386.0 637.7 1391.3 635.9 C1396.6 634.1 1401.8 632.1 1407.1 630.1 C1412.3 628.1 1417.6 626.0 1422.9 623.8 C1428.1 621.6 1433.4 619.3 1438.6 617.0 C1443.9 614.8 1449.2 612.5 1454.4 610.3 C1459.7 608.0 1464.9 605.8 1470.2 603.8 C1475.5 601.7 1480.7 599.7 1486.0 597.9 C1491.2 596.1 1496.5 594.5 1501.8 593.0 C1507.0 591.5 1512.3 590.2 1517.5 589.0 C1522.8 587.8 1528.1 586.8 1533.3 586.0 C1538.6 585.1 1543.8 584.5 1549.1 584.0 C1554.4 583.5 1559.6 583.1 1564.9 583.0 C1570.1 582.9 1575.4 582.9 1580.7 583.2 C1585.9 583.4 1591.2 583.9 1596.4 584.5 C1601.7 585.2 1606.9 586.1 1612.2 587.2 C1617.5 588.2 1622.7 589.5 1628.0 590.9 C1633.2 592.4 1638.5 594.0 1643.8 595.8 C1649.0 597.6 1654.3 599.5 1659.5 601.6 C1664.8 603.7 1670.1 606.0 1675.3 608.3 C1680.6 610.6 1685.8 613.1 1691.1 615.7 C1696.4 618.2 1701.6 620.9 1706.9 623.6 C1712.1 626.4 1717.4 629.1 1722.7 631.7 C1727.9 634.3 1733.2 636.8 1738.4 639.1 C1743.7 641.3 1749.0 643.3 1754.2 645.0 C1759.5 646.8 1764.7 648.5 1770.0 650.1" stroke="#ccffcc" stroke-width="3.3"/>
<path d="M1012.6 665.5 C1017.9 665.5 1023.1 665.5 1028.4 665.5 C1033.6 665.5 1038.9 665.5 1044.2 665.5 C1049.4 665.5 1054.7 665.5 1059.9 665.5 C1065.2 665.5 1070.5 665.5 1075.7 665.5 C1081.0 665.4 1086.2 665.4 1091.5 665.3 C1096.8 665.3 1102.0 665.2 1107.3 665.2 C1112.5 665.1 1117.8 665.0 1123.1 664.9 C1128.3 664.8 1133.6 664.7 1138.8 664.5 C1144.1 664.4 1149.4 664.2 1154.6 664.1 C1159.9 663.9 1165.1 663.7 1170.4 663.5 C1175.7 663.3 1180.9 663.0 1186.2 662.8 C1191.4 662.5 1196.7 662.2 1202.0 661.9 C1207.2 661.6 1212.5 661.2 1217.7 660.9 C1223.0 660.5 1228.2 660.0 1233.5 659.6 C1238.8 659.1 1244.0 658.6 1249.3 658.0 C1254.5 657.4 1259.8 656.7 1265.1 656.0 C1270.3 655.3 1275.6 654.5 1280.8 653.6 C1286.1 652.7 1291.4 651.7 1296.6 650.7 C1301.9 649.6 1307.1 648.4 1312.4 647.1 C1317.7 645.9 1322.9 644.5 1328.2 643.1 C1333.4 641.7 1338.7 640.3 1344.0 638.7 C1349.2 637.2 1354.5 635.7 1359.7 634.1 C1365.0 632.5 1370.3 630.9 1375.5 629.3 C1380.8 627.7 1386.0 626.1 1391.3 624.6 C1396.6 623.0 1401.8 621.5 1407.1 620.0 C1412.3 618.6 1417.6 617.2 1422.9 615.9 C1428.1 614.6 1433.4 613.4 1438.6 612.3 C1443.9 611.3 1449.2 610.4 1454.4 609.6 C1459.7 608.8 1464.9 608.2 1470.2 607.7 C1475.5 607.2 1480.7 606.8 1486.0 606.5 C1491.2 606.2 1496.5 606.0 1501.8 605.9 C1507.0 605.9 1512.3 605.9 1517.5 606.0 C1522.8 606.2 1528.1 606.4 1533.3 606.8 C1538.6 607.2 1543.8 607.7 1549.1 608.4 C1554.4 609.1 1559.6 610.0 1564.9 611.0 C1570.1 612.0 1575.4 613.2 1580.7 614.4 C1585.9 615.7 1591.2 617.0 1596.4 618.5 C1601.7 619.9 1606.9 621.3 1612.2 622.8 C1617.5 624.2 1622.7 625.7 1628.0 627.1 C1633.2 628.5 1638.5 629.9 1643.8 631.2 C1649.0 632.6 1654.3 633.9 1659.5 635.2 C1664.8 636.5 1670.1 637.7 1675.3 638.9 C1680.6 640.2 1685.8 641.4 1691.1 642.5 C1696.4 643.7 1701.6 644.8 1706.9 645.8 C1712.1 646.8 1717.4 647.8 1722.7 648.7 C1727.9 649.6 1733.2 650.4 1738.4 651.2 C1743.7 651.9 1749.0 652.6 1754.2 653.2 C1759.5 653.9 1764.7 654.4 1770.0 655.0" stroke="#ccffcc" stroke-width="3.3"/>
<path d="M1012.6 665.5 C1017.9 665.5 1023.1 665.5 1028.4 665.4 C1033.6 665.4 1038.9 665.4 1044.2 665.3 C1049.4 665.3 1054.7 665.2 1059.9 665.1 C1065.2 665.0 1070.5 664.9 1075.7 664.8 C1081.0 664.7 1086.2 664.5 1091.5 664.3 C1096.8 664.1 1102.0 663.9 1107.3 663.7 C1112.5 663.4 1117.8 663.1 1123.1 662.8 C1128.3 662.4 1133.6 662.1 1138.8 661.6 C1144.1 661.2 1149.4 660.8 1154.6 660.3 C1159.9 659.8 1165.1 659.3 1170.4 658.7 C1175.7 658.1 1180.9 657.5 1186.2 656.8 C1191.4 656.2 1196.7 655.5 1202.0 654.7 C1207.2 654.0 1212.5 653.2 1217.7 652.4 C1223.0 651.5 1228.2 650.6 1233.5 649.7 C1238.8 648.7 1244.0 647.8 1249.3 646.7 C1254.5 645.7 1259.8 644.6 1265.1 643.4 C1270.3 642.2 1275.6 641.0 1280.8 639.7 C1286.1 638.5 1291.4 637.1 1296.6 635.8 C1301.9 634.4 1307.1 633.0 1312.4 631.6 C1317.7 630.2 1322.9 628.8 1328.2 627.4 C1333.4 626.1 1338.7 624.7 1344.0 623.5 C1349.2 622.2 1354.5 621.0 1359.7 619.9 C1365.0 618.8 1370.3 617.7 1375.5 616.8 C1380.8 615.8 1386.0 614.9 1391.3 614.0 C1396.6 613.2 1401.8 612.4 1407.1 611.7 C1412.3 610.9 1417.6 610.2 1422.9 609.6 C1428.1 609.0 1433.4 608.4 1438.6 607.9 C1443.9 607.4 1449.2 607.0 1454.4 606.7 C1459.7 606.4 1464.9 606.1 1470.2 606.0 C1475.5 605.8 1480.7 605.8 1486.0 605.9 C1491.2 606.0 1496.5 606.3 1501.8 606.7 C1507.0 607.0 1512.3 607.5 1517.5 608.1 C1522.8 608.7 1528.1 609.4 1533.3 610.2 C1538.6 611.0 1543.8 611.9 1549.1 612.9 C1554.4 613.8 1559.6 614.9 1564.9 616.0 C1570.1 617.1 1575.4 618.3 1580.7 619.6 C1585.9 620.8 1591.2 622.1 1596.4 623.4 C1601.7 624.7 1606.9 626.1 1612.2 627.4 C1617.5 628.8 1622.7 630.1 1628.0 631.5 C1633.2 632.8 1638.5 634.2 1643.8 635.5 C1649.0 636.8 1654.3 638.1 1659.5 639.4 C1664.8 640.6 1670.1 641.9 1675.3 643.0 C1680.6 644.2 1685.8 645.3 1691.1 646.3 C1696.4 647.3 1701.6 648.3 1706.9 649.1 C1712.1 650.0 1717.4 650.8 1722.7 651.5 C1727.9 652.2 1733.2 652.9 1738.4 653.5 C1743.7 654.2 1749.0 654.8 1754.2 655.3 C1759.5 655.9 1764.7 656.5 1770.0 657.0" stroke="#ccffcc" stroke-width="3.3"/>
<path d="M1012.6 449.0 C1014.2 398.5 1015.7 354.5 1017.3 323.6 C1018.9 292.7 1020.4 258.1 1022.0 225.0" stroke="#ccccff" stroke-width="3.3"/>
<path d="M1012.6 470.0 C1014.9 425.9 1017.2 378.0 1019.5 339.2 C1021.9 300.3 1024.2 277.2 1026.5 225.0" stroke="#ccccff" stroke-width="3.3"/>
<path d="M1038.5 236.4 C1043.8 349.8 1049.1 457.9 1054.4 517.9 C1059.7 577.9 1065.0 589.8 1070.3 600.1 C1075.6 610.4 1080.9 616.4 1086.2 621.2 C1091.5 626.0 1096.8 629.4 1102.1 632.6 C1107.4 635.8 1112.7 638.2 1118.0 639.9 C1123.3 641.5 1128.6 643.8 1133.9 646.5 C1139.2 649.2 1144.5 651.9 1149.8 654.1 C1155.1 656.3 1160.4 658.1 1165.7 659.4 C1171.0 660.8 1176.3 661.7 1181.6 662.3 C1186.9 663.0 1192.2 663.4 1197.5 663.7 C1202.8 664.0 1208.1 664.2 1213.4 664.3 C1218.7 664.5 1224.0 664.6 1229.3 664.8 C1234.6 664.9 1239.9 664.9 1245.2 665.0 C1250.5 665.0 1255.8 665.1 1261.1 665.1 C1266.4 665.1 1271.7 665.1 1277.0 665.1 C1282.3 665.1 1287.6 665.1 1292.9 665.0 C1298.2 665.0 1303.5 665.0 1308.8 665.0 C1314.1 664.9 1319.4 664.9 1324.7 664.9 C1330.0 664.9 1335.3 664.9 1340.6 664.9 C1345.9 664.8 1351.2 664.8 1356.5 664.8 C1361.8 664.8 1367.1 664.8 1372.4 664.8 C1377.7 664.8 1383.0 664.8 1388.3 664.8 C1393.6 664.7 1398.9 664.7 1404.2 664.7 C1409.6 664.7 1414.9 664.7 1420.2 664.7 C1425.5 664.7 1430.8 664.7 1436.1 664.7 C1441.4 664.7 1446.7 664.7 1452.0 664.7 C1457.3 664.7 1462.6 664.7 1467.9 664.7 C1473.2 664.7 1478.5 664.7 1483.8 664.7 C1489.1 664.7 1494.4 664.7 1499.7 664.7 C1505.0 664.7 1510.3 664.8 1515.6 664.8 C1520.9 664.8 1526.2 664.8 1531.5 664.8 C1536.8 664.8 1542.1 664.8 1547.4 664.8 C1552.7 664.8 1558.0 664.8 1563.3 664.8 C1568.6 664.9 1573.9 664.9 1579.2 664.9 C1584.5 664.9 1589.8 664.9 1595.1 664.9 C1600.4 664.9 1605.7 664.9 1611.0 665.0 C1616.3 665.0 1621.6 665.0 1626.9 665.0 C1632.2 665.0 1637.5 665.0 1642.8 665.1 C1648.1 665.1 1653.4 665.1 1658.7 665.1 C1664.0 665.1 1669.3 665.1 1674.6 665.2 C1679.9 665.2 1685.2 665.2 1690.5 665.2 C1695.8 665.2 1701.1 665.3 1706.4 665.3 C1711.7 665.3 1717.0 665.3 1722.3 665.3 C1727.6 665.3 1732.9 665.4 1738.2 665.4 C1743.5 665.4 1748.8 665.4 1754.1 665.4 C1759.4 665.5 1764.7 665.5 1770.0 665.5" stroke="#ccccff" stroke-width="3.3"/>
<path d="M1045.0 230.3 C1050.3 319.0 1055.5 407.8 1060.8 466.1 C1066.0 524.4 1071.3 545.3 1076.5 555.2 C1081.8 565.1 1087.0 567.8 1092.3 572.5 C1097.5 577.2 1102.8 582.9 1108.0 588.5 C1113.3 594.1 1118.6 599.8 1123.8 604.9 C1129.1 609.9 1134.3 614.2 1139.6 617.6 C1144.8 621.1 1150.1 623.7 1155.3 625.9 C1160.6 628.0 1165.8 629.8 1171.1 631.4 C1176.3 633.0 1181.6 634.4 1186.8 635.6 C1192.1 636.9 1197.4 638.0 1202.6 639.0 C1207.9 640.1 1213.1 641.0 1218.4 641.8 C1223.6 642.6 1228.9 643.3 1234.1 644.0 C1239.4 644.6 1244.6 645.2 1249.9 645.8 C1255.1 646.3 1260.4 646.8 1265.7 647.3 C1270.9 647.8 1276.2 648.2 1281.4 648.6 C1286.7 649.1 1291.9 649.5 1297.2 649.8 C1302.4 650.2 1307.7 650.6 1312.9 650.9 C1318.2 651.3 1323.4 651.6 1328.7 651.9 C1333.9 652.2 1339.2 652.5 1344.5 652.7 C1349.7 653.0 1355.0 653.3 1360.2 653.5 C1365.5 653.8 1370.7 654.0 1376.0 654.2 C1381.2 654.4 1386.5 654.7 1391.7 654.9 C1397.0 655.1 1402.2 655.3 1407.5 655.5 C1412.8 655.7 1418.0 655.8 1423.3 656.0 C1428.5 656.2 1433.8 656.4 1439.0 656.5 C1444.3 656.7 1449.5 656.9 1454.8 657.0 C1460.0 657.2 1465.3 657.3 1470.5 657.5 C1475.8 657.6 1481.1 657.8 1486.3 657.9 C1491.6 658.0 1496.8 658.2 1502.1 658.3 C1507.3 658.5 1512.6 658.6 1517.8 658.7 C1523.1 658.8 1528.3 659.0 1533.6 659.1 C1538.8 659.2 1544.1 659.4 1549.3 659.5 C1554.6 659.6 1559.9 659.7 1565.1 659.8 C1570.4 659.9 1575.6 660.0 1580.9 660.2 C1586.1 660.3 1591.4 660.4 1596.6 660.5 C1601.9 660.6 1607.1 660.7 1612.4 660.8 C1617.6 660.9 1622.9 661.0 1628.2 661.1 C1633.4 661.1 1638.7 661.2 1643.9 661.3 C1649.2 661.4 1654.4 661.5 1659.7 661.6 C1664.9 661.6 1670.2 661.7 1675.4 661.8 C1680.7 661.9 1685.9 661.9 1691.2 662.0 C1696.4 662.1 1701.7 662.2 1707.0 662.2 C1712.2 662.3 1717.5 662.4 1722.7 662.4 C1728.0 662.5 1733.2 662.6 1738.5 662.6 C1743.7 662.7 1749.0 662.7 1754.2 662.8 C1759.5 662.9 1764.7 662.9 1770.0 663.0" stroke="#ccccff" stroke-width="3.3"/>
<path d="M1046.0 233.8 C1051.2 313.1 1056.5 388.9 1061.7 441.4 C1067.0 494.0 1072.2 522.2 1077.5 537.2 C1082.7 552.2 1088.0 558.5 1093.2 565.0 C1098.5 571.5 1103.7 577.3 1109.0 583.2 C1114.2 589.1 1119.4 594.5 1124.7 598.9 C1129.9 603.4 1135.2 606.9 1140.4 610.0 C1145.7 613.0 1150.9 615.6 1156.2 617.9 C1161.4 620.2 1166.7 622.2 1171.9 624.0 C1177.2 625.8 1182.4 627.3 1187.7 628.7 C1192.9 630.1 1198.1 631.3 1203.4 632.3 C1208.6 633.4 1213.9 634.3 1219.1 635.1 C1224.4 635.9 1229.6 636.7 1234.9 637.4 C1240.1 638.1 1245.4 638.7 1250.6 639.3 C1255.9 639.9 1261.1 640.5 1266.3 641.0 C1271.6 641.5 1276.8 642.0 1282.1 642.5 C1287.3 643.0 1292.6 643.4 1297.8 643.8 C1303.1 644.3 1308.3 644.7 1313.6 645.1 C1318.8 645.5 1324.1 645.9 1329.3 646.3 C1334.6 646.7 1339.8 647.1 1345.0 647.5 C1350.3 647.9 1355.5 648.2 1360.8 648.6 C1366.0 648.9 1371.3 649.3 1376.5 649.6 C1381.8 649.9 1387.0 650.3 1392.3 650.6 C1397.5 650.9 1402.8 651.2 1408.0 651.4 C1413.2 651.7 1418.5 652.0 1423.7 652.2 C1429.0 652.5 1434.2 652.7 1439.5 653.0 C1444.7 653.2 1450.0 653.4 1455.2 653.7 C1460.5 653.9 1465.7 654.1 1471.0 654.3 C1476.2 654.5 1481.4 654.7 1486.7 654.9 C1491.9 655.1 1497.2 655.3 1502.4 655.4 C1507.7 655.6 1512.9 655.8 1518.2 656.0 C1523.4 656.2 1528.7 656.3 1533.9 656.5 C1539.2 656.7 1544.4 656.8 1549.7 657.0 C1554.9 657.1 1560.1 657.3 1565.4 657.4 C1570.6 657.6 1575.9 657.7 1581.1 657.9 C1586.4 658.0 1591.6 658.2 1596.9 658.3 C1602.1 658.4 1607.4 658.6 1612.6 658.7 C1617.9 658.8 1623.1 659.0 1628.3 659.1 C1633.6 659.2 1638.8 659.3 1644.1 659.4 C1649.3 659.6 1654.6 659.7 1659.8 659.8 C1665.1 659.9 1670.3 660.0 1675.6 660.1 C1680.8 660.2 1686.1 660.4 1691.3 660.5 C1696.6 660.6 1701.8 660.7 1707.0 660.8 C1712.3 660.9 1717.5 661.0 1722.8 661.1 C1728.0 661.2 1733.3 661.3 1738.5 661.4 C1743.8 661.5 1749.0 661.6 1754.3 661.7 C1759.5 661.8 1764.8 661.9 1770.0 662.0" stroke="#ccccff" stroke-width="3.3"/>
<path d="M1012.6 460.7 C1017.9 438.0 1023.1 416.3 1028.4 407.9 C1033.6 399.4 1038.9 402.9 1044.2 413.5 C1049.4 424.1 1054.7 441.1 1059.9 459.2 C1065.2 477.4 1070.5 497.1 1075.7 513.3 C1081.0 529.5 1086.2 541.8 1091.5 551.6 C1096.8 561.4 1102.0 568.9 1107.3 575.2 C1112.5 581.5 1117.8 586.6 1123.1 591.1 C1128.3 595.6 1133.6 599.3 1138.8 602.6 C1144.1 606.0 1149.4 608.9 1154.6 611.4 C1159.9 614.0 1165.1 616.2 1170.4 618.2 C1175.7 620.1 1180.9 621.8 1186.2 623.3 C1191.4 624.8 1196.7 626.2 1202.0 627.3 C1207.2 628.5 1212.5 629.6 1217.7 630.6 C1223.0 631.6 1228.2 632.4 1233.5 633.2 C1238.8 634.0 1244.0 634.8 1249.3 635.5 C1254.5 636.1 1259.8 636.8 1265.1 637.4 C1270.3 638.0 1275.6 638.5 1280.8 639.1 C1286.1 639.6 1291.4 640.1 1296.6 640.6 C1301.9 641.1 1307.1 641.5 1312.4 641.9 C1317.7 642.4 1322.9 642.8 1328.2 643.2 C1333.4 643.6 1338.7 643.9 1344.0 644.3 C1349.2 644.6 1354.5 645.0 1359.7 645.3 C1365.0 645.6 1370.3 646.0 1375.5 646.3 C1380.8 646.6 1386.0 646.9 1391.3 647.2 C1396.6 647.5 1401.8 647.8 1407.1 648.0 C1412.3 648.3 1417.6 648.6 1422.9 648.9 C1428.1 649.1 1433.4 649.4 1438.6 649.7 C1443.9 649.9 1449.2 650.2 1454.4 650.4 C1459.7 650.7 1464.9 650.9 1470.2 651.1 C1475.5 651.4 1480.7 651.6 1486.0 651.8 C1491.2 652.1 1496.5 652.3 1501.8 652.5 C1507.0 652.7 1512.3 652.9 1517.5 653.1 C1522.8 653.4 1528.1 653.6 1533.3 653.8 C1538.6 654.0 1543.8 654.2 1549.1 654.4 C1554.4 654.6 1559.6 654.8 1564.9 655.0 C1570.1 655.2 1575.4 655.3 1580.7 655.5 C1585.9 655.7 1591.2 655.9 1596.4 656.1 C1601.7 656.2 1606.9 656.4 1612.2 656.6 C1617.5 656.8 1622.7 656.9 1628.0 657.1 C1633.2 657.3 1638.5 657.4 1643.8 657.6 C1649.0 657.7 1654.3 657.9 1659.5 658.0 C1664.8 658.2 1670.1 658.3 1675.3 658.5 C1680.6 658.6 1685.8 658.8 1691.1 658.9 C1696.4 659.1 1701.6 659.2 1706.9 659.4 C1712.1 659.5 1717.4 659.6 1722.7 659.8 C1727.9 659.9 1733.2 660.1 1738.4 660.2 C1743.7 660.3 1749.0 660.5 1754.2 660.6 C1759.5 660.7 1764.7 660.9 1770.0 661.0" stroke="#ccccff" stroke-width="3.3"/>
<path d="M1012.6 599.9 C1017.9 586.0 1023.1 572.1 1028.4 558.6 C1033.6 545.0 1038.9 531.7 1044.2 520.2 C1049.4 508.6 1054.7 498.9 1059.9 491.9 C1065.2 484.9 1070.5 480.6 1075.7 479.5 C1081.0 478.3 1086.2 480.5 1091.5 484.5 C1096.8 488.5 1102.0 494.4 1107.3 501.8 C1112.5 509.3 1117.8 518.0 1123.1 527.1 C1128.3 536.1 1133.6 545.4 1138.8 554.2 C1144.1 563.0 1149.4 571.3 1154.6 578.6 C1159.9 585.9 1165.1 592.1 1170.4 597.3 C1175.7 602.5 1180.9 606.7 1186.2 610.4 C1191.4 614.1 1196.7 617.2 1202.0 619.8 C1207.2 622.5 1212.5 624.8 1217.7 626.7 C1223.0 628.7 1228.2 630.4 1233.5 631.8 C1238.8 633.2 1244.0 634.5 1249.3 635.6 C1254.5 636.7 1259.8 637.7 1265.1 638.6 C1270.3 639.5 1275.6 640.4 1280.8 641.3 C1286.1 642.1 1291.4 643.0 1296.6 643.7 C1301.9 644.5 1307.1 645.2 1312.4 645.9 C1317.7 646.6 1322.9 647.2 1328.2 647.8 C1333.4 648.4 1338.7 649.0 1344.0 649.5 C1349.2 650.1 1354.5 650.6 1359.7 651.0 C1365.0 651.5 1370.3 651.9 1375.5 652.4 C1380.8 652.8 1386.0 653.2 1391.3 653.5 C1396.6 653.9 1401.8 654.2 1407.1 654.5 C1412.3 654.8 1417.6 655.1 1422.9 655.4 C1428.1 655.6 1433.4 655.9 1438.6 656.1 C1443.9 656.4 1449.2 656.6 1454.4 656.8 C1459.7 657.0 1464.9 657.2 1470.2 657.4 C1475.5 657.5 1480.7 657.7 1486.0 657.9 C1491.2 658.0 1496.5 658.2 1501.8 658.3 C1507.0 658.5 1512.3 658.6 1517.5 658.8 C1522.8 658.9 1528.1 659.1 1533.3 659.2 C1538.6 659.3 1543.8 659.4 1549.1 659.6 C1554.4 659.7 1559.6 659.8 1564.9 659.9 C1570.1 660.0 1575.4 660.1 1580.7 660.2 C1585.9 660.3 1591.2 660.4 1596.4 660.5 C1601.7 660.6 1606.9 660.7 1612.2 660.8 C1617.5 660.9 1622.7 661.0 1628.0 661.0 C1633.2 661.1 1638.5 661.2 1643.8 661.3 C1649.0 661.4 1654.3 661.5 1659.5 661.5 C1664.8 661.6 1670.1 661.7 1675.3 661.8 C1680.6 661.8 1685.8 661.9 1691.1 662.0 C1696.4 662.1 1701.6 662.1 1706.9 662.2 C1712.1 662.3 1717.4 662.3 1722.7 662.4 C1727.9 662.5 1733.2 662.5 1738.4 662.6 C1743.7 662.7 1749.0 662.7 1754.2 662.8 C1759.5 662.9 1764.7 662.9 1770.0 663.0" stroke="#ccccff" stroke-width="3.3"/>
<path d="M1012.6 554.3 C1017.9 542.8 1023.1 531.4 1028.4 523.4 C1033.6 515.4 1038.9 510.7 1044.2 509.1 C1049.4 507.5 1054.7 509.2 1059.9 511.4 C1065.2 513.6 1070.5 515.8 1075.7 518.4 C1081.0 521.1 1086.2 524.2 1091.5 530.0 C1096.8 535.8 1102.0 543.8 1107.3 551.1 C1112.5 558.3 1117.8 565.2 1123.1 571.4 C1128.3 577.7 1133.6 583.2 1138.8 588.1 C1144.1 592.9 1149.4 597.0 1154.6 600.3 C1159.9 603.7 1165.1 606.3 1170.4 608.5 C1175.7 610.7 1180.9 612.4 1186.2 614.2 C1191.4 615.9 1196.7 617.5 1202.0 619.1 C1207.2 620.6 1212.5 622.1 1217.7 623.5 C1223.0 624.8 1228.2 626.1 1233.5 627.3 C1238.8 628.4 1244.0 629.6 1249.3 630.6 C1254.5 631.6 1259.8 632.6 1265.1 633.6 C1270.3 634.5 1275.6 635.4 1280.8 636.2 C1286.1 637.0 1291.4 637.8 1296.6 638.6 C1301.9 639.3 1307.1 640.1 1312.4 640.7 C1317.7 641.4 1322.9 642.0 1328.2 642.7 C1333.4 643.3 1338.7 643.8 1344.0 644.4 C1349.2 644.9 1354.5 645.5 1359.7 646.0 C1365.0 646.5 1370.3 646.9 1375.5 647.4 C1380.8 647.9 1386.0 648.3 1391.3 648.7 C1396.6 649.2 1401.8 649.6 1407.1 650.0 C1412.3 650.3 1417.6 650.7 1422.9 651.1 C1428.1 651.4 1433.4 651.8 1438.6 652.1 C1443.9 652.5 1449.2 652.8 1454.4 653.1 C1459.7 653.4 1464.9 653.7 1470.2 654.0 C1475.5 654.3 1480.7 654.5 1486.0 654.8 C1491.2 655.1 1496.5 655.3 1501.8 655.6 C1507.0 655.8 1512.3 656.1 1517.5 656.3 C1522.8 656.5 1528.1 656.7 1533.3 657.0 C1538.6 657.2 1543.8 657.4 1549.1 657.6 C1554.4 657.8 1559.6 658.0 1564.9 658.2 C1570.1 658.3 1575.4 658.5 1580.7 658.7 C1585.9 658.9 1591.2 659.0 1596.4 659.2 C1601.7 659.3 1606.9 659.5 1612.2 659.6 C1617.5 659.8 1622.7 659.9 1628.0 660.1 C1633.2 660.2 1638.5 660.4 1643.8 660.5 C1649.0 660.6 1654.3 660.7 1659.5 660.9 C1664.8 661.0 1670.1 661.1 1675.3 661.2 C1680.6 661.3 1685.8 661.4 1691.1 661.5 C1696.4 661.6 1701.6 661.7 1706.9 661.8 C1712.1 661.9 1717.4 662.0 1722.7 662.1 C1727.9 662.2 1733.2 662.3 1738.4 662.4 C1743.7 662.5 1749.0 662.6 1754.2 662.7 C1759.5 662.8 1764.7 662.9 1770.0 663.0" stroke="#ccccff" stroke-width="3.3"/>
<path d="M1012.6 580.4 C1017.9 567.0 1023.1 553.6 1028.4 542.4 C1033.6 531.1 1038.9 522.2 1044.2 517.3 C1049.4 512.5 1054.7 512.0 1059.9 514.4 C1065.2 516.7 1070.5 521.3 1075.7 526.9 C1081.0 532.4 1086.2 538.8 1091.5 545.2 C1096.8 551.7 1102.0 558.3 1107.3 564.7 C1112.5 571.1 1117.8 577.2 1123.1 582.8 C1128.3 588.4 1133.6 593.4 1138.8 597.7 C1144.1 602.0 1149.4 605.7 1154.6 608.9 C1159.9 612.1 1165.1 614.7 1170.4 617.0 C1175.7 619.3 1180.9 621.2 1186.2 622.9 C1191.4 624.5 1196.7 625.9 1202.0 627.3 C1207.2 628.6 1212.5 629.9 1217.7 631.2 C1223.0 632.4 1228.2 633.6 1233.5 634.7 C1238.8 635.8 1244.0 636.8 1249.3 637.8 C1254.5 638.8 1259.8 639.7 1265.1 640.5 C1270.3 641.3 1275.6 642.0 1280.8 642.7 C1286.1 643.4 1291.4 644.0 1296.6 644.6 C1301.9 645.1 1307.1 645.6 1312.4 646.1 C1317.7 646.5 1322.9 647.0 1328.2 647.3 C1333.4 647.7 1338.7 648.1 1344.0 648.4 C1349.2 648.8 1354.5 649.1 1359.7 649.4 C1365.0 649.7 1370.3 650.0 1375.5 650.3 C1380.8 650.6 1386.0 650.8 1391.3 651.1 C1396.6 651.4 1401.8 651.7 1407.1 652.0 C1412.3 652.3 1417.6 652.6 1422.9 652.8 C1428.1 653.1 1433.4 653.4 1438.6 653.6 C1443.9 653.9 1449.2 654.2 1454.4 654.4 C1459.7 654.7 1464.9 654.9 1470.2 655.1 C1475.5 655.4 1480.7 655.6 1486.0 655.8 C1491.2 656.1 1496.5 656.3 1501.8 656.5 C1507.0 656.7 1512.3 656.9 1517.5 657.1 C1522.8 657.2 1528.1 657.4 1533.3 657.6 C1538.6 657.8 1543.8 657.9 1549.1 658.1 C1554.4 658.2 1559.6 658.4 1564.9 658.5 C1570.1 658.7 1575.4 658.8 1580.7 659.0 C1585.9 659.1 1591.2 659.2 1596.4 659.3 C1601.7 659.5 1606.9 659.6 1612.2 659.7 C1617.5 659.8 1622.7 659.9 1628.0 660.0 C1633.2 660.1 1638.5 660.2 1643.8 660.3 C1649.0 660.4 1654.3 660.5 1659.5 660.6 C1664.8 660.6 1670.1 660.7 1675.3 660.8 C1680.6 660.9 1685.8 661.0 1691.1 661.0 C1696.4 661.1 1701.6 661.2 1706.9 661.2 C1712.1 661.3 1717.4 661.4 1722.7 661.4 C1727.9 661.5 1733.2 661.6 1738.4 661.6 C1743.7 661.7 1749.0 661.8 1754.2 661.8 C1759.5 661.9 1764.7 661.9 1770.0 662.0" stroke="#ccccff" stroke-width="3.3"/>
<path d="M1012.6 608.4 C1017.9 595.0 1023.1 581.5 1028.4 568.6 C1033.6 555.6 1038.9 542.6 1044.2 533.1 C1049.4 523.6 1054.7 517.9 1059.9 516.1 C1065.2 514.3 1070.5 515.9 1075.7 519.5 C1081.0 523.2 1086.2 529.0 1091.5 535.7 C1096.8 542.4 1102.0 550.2 1107.3 557.8 C1112.5 565.4 1117.8 572.9 1123.1 579.6 C1128.3 586.4 1133.6 592.4 1138.8 597.4 C1144.1 602.4 1149.4 606.5 1154.6 610.0 C1159.9 613.4 1165.1 616.3 1170.4 618.9 C1175.7 621.5 1180.9 623.8 1186.2 625.8 C1191.4 627.8 1196.7 629.6 1202.0 631.1 C1207.2 632.7 1212.5 634.1 1217.7 635.3 C1223.0 636.5 1228.2 637.6 1233.5 638.6 C1238.8 639.6 1244.0 640.5 1249.3 641.2 C1254.5 642.0 1259.8 642.7 1265.1 643.4 C1270.3 644.1 1275.6 644.7 1280.8 645.3 C1286.1 645.8 1291.4 646.4 1296.6 646.9 C1301.9 647.4 1307.1 647.8 1312.4 648.2 C1317.7 648.7 1322.9 649.1 1328.2 649.4 C1333.4 649.8 1338.7 650.1 1344.0 650.5 C1349.2 650.8 1354.5 651.1 1359.7 651.4 C1365.0 651.7 1370.3 652.0 1375.5 652.2 C1380.8 652.5 1386.0 652.8 1391.3 653.0 C1396.6 653.3 1401.8 653.5 1407.1 653.8 C1412.3 654.0 1417.6 654.2 1422.9 654.5 C1428.1 654.7 1433.4 654.9 1438.6 655.1 C1443.9 655.3 1449.2 655.5 1454.4 655.7 C1459.7 655.9 1464.9 656.1 1470.2 656.3 C1475.5 656.5 1480.7 656.7 1486.0 656.9 C1491.2 657.0 1496.5 657.2 1501.8 657.4 C1507.0 657.5 1512.3 657.7 1517.5 657.9 C1522.8 658.0 1528.1 658.2 1533.3 658.3 C1538.6 658.5 1543.8 658.6 1549.1 658.7 C1554.4 658.9 1559.6 659.0 1564.9 659.2 C1570.1 659.3 1575.4 659.4 1580.7 659.5 C1585.9 659.7 1591.2 659.8 1596.4 659.9 C1601.7 660.0 1606.9 660.1 1612.2 660.2 C1617.5 660.3 1622.7 660.5 1628.0 660.6 C1633.2 660.7 1638.5 660.8 1643.8 660.9 C1649.0 661.0 1654.3 661.1 1659.5 661.2 C1664.8 661.3 1670.1 661.4 1675.3 661.5 C1680.6 661.5 1685.8 661.6 1691.1 661.7 C1696.4 661.8 1701.6 661.9 1706.9 662.0 C1712.1 662.1 1717.4 662.2 1722.7 662.2 C1727.9 662.3 1733.2 662.4 1738.4 662.5 C1743.7 662.6 1749.0 662.7 1754.2 662.8 C1759.5 662.8 1764.7 662.9 1770.0 663.0" stroke="#ccccff" stroke-width="3.3"/>
<path d="M1012.6 626.6 C1017.9 618.7 1023.1 610.9 1028.4 603.2 C1033.6 595.5 1038.9 587.9 1044.2 580.8 C1049.4 573.7 1054.7 567.0 1059.9 561.2 C1065.2 555.4 1070.5 550.5 1075.7 547.0 C1081.0 543.4 1086.2 541.2 1091.5 540.3 C1096.8 539.4 1102.0 539.9 1107.3 541.4 C1112.5 543.0 1117.8 545.6 1123.1 548.7 C1128.3 551.8 1133.6 555.3 1138.8 558.9 C1144.1 562.6 1149.4 566.2 1154.6 569.6 C1159.9 573.0 1165.1 576.2 1170.4 579.2 C1175.7 582.3 1180.9 585.2 1186.2 588.1 C1191.4 591.0 1196.7 593.8 1202.0 596.4 C1207.2 599.0 1212.5 601.4 1217.7 603.7 C1223.0 605.9 1228.2 608.0 1233.5 609.9 C1238.8 611.8 1244.0 613.6 1249.3 615.2 C1254.5 616.8 1259.8 618.3 1265.1 619.7 C1270.3 621.1 1275.6 622.4 1280.8 623.5 C1286.1 624.7 1291.4 625.8 1296.6 626.8 C1301.9 627.8 1307.1 628.8 1312.4 629.7 C1317.7 630.6 1322.9 631.4 1328.2 632.2 C1333.4 632.9 1338.7 633.7 1344.0 634.4 C1349.2 635.1 1354.5 635.8 1359.7 636.5 C1365.0 637.2 1370.3 637.9 1375.5 638.6 C1380.8 639.3 1386.0 640.0 1391.3 640.6 C1396.6 641.3 1401.8 642.0 1407.1 642.7 C1412.3 643.4 1417.6 644.1 1422.9 644.7 C1428.1 645.4 1433.4 646.0 1438.6 646.7 C1443.9 647.3 1449.2 647.9 1454.4 648.5 C1459.7 649.1 1464.9 649.6 1470.2 650.2 C1475.5 650.7 1480.7 651.2 1486.0 651.6 C1491.2 652.1 1496.5 652.5 1501.8 652.9 C1507.0 653.3 1512.3 653.7 1517.5 654.0 C1522.8 654.3 1528.1 654.6 1533.3 654.9 C1538.6 655.2 1543.8 655.4 1549.1 655.6 C1554.4 655.9 1559.6 656.1 1564.9 656.3 C1570.1 656.5 1575.4 656.6 1580.7 656.8 C1585.9 657.0 1591.2 657.1 1596.4 657.3 C1601.7 657.4 1606.9 657.5 1612.2 657.7 C1617.5 657.8 1622.7 657.9 1628.0 658.1 C1633.2 658.2 1638.5 658.4 1643.8 658.5 C1649.0 658.6 1654.3 658.8 1659.5 658.9 C1664.8 659.1 1670.1 659.2 1675.3 659.3 C1680.6 659.5 1685.8 659.6 1691.1 659.8 C1696.4 659.9 1701.6 660.1 1706.9 660.2 C1712.1 660.4 1717.4 660.5 1722.7 660.7 C1727.9 660.8 1733.2 661.0 1738.4 661.1 C1743.7 661.3 1749.0 661.4 1754.2 661.6 C1759.5 661.7 1764.7 661.9 1770.0 662.0" stroke="#ccccff" stroke-width="3.3"/>
<path d="M1012.6 652.9 C1017.9 650.5 1023.1 648.2 1028.4 645.9 C1033.6 643.5 1038.9 641.2 1044.2 638.9 C1049.4 636.5 1054.7 634.2 1059.9 632.0 C1065.2 629.7 1070.5 627.4 1075.7 625.2 C1081.0 623.0 1086.2 620.8 1091.5 618.7 C1096.8 616.5 1102.0 614.5 1107.3 612.4 C1112.5 610.4 1117.8 608.5 1123.1 606.6 C1128.3 604.7 1133.6 603.0 1138.8 601.3 C1144.1 599.7 1149.4 598.1 1154.6 596.7 C1159.9 595.4 1165.1 594.1 1170.4 593.1 C1175.7 592.1 1180.9 591.2 1186.2 590.6 C1191.4 590.0 1196.7 589.6 1202.0 589.4 C1207.2 589.2 1212.5 589.2 1217.7 589.2 C1223.0 589.3 1228.2 589.4 1233.5 589.7 C1238.8 590.0 1244.0 590.5 1249.3 591.2 C1254.5 591.8 1259.8 592.6 1265.1 593.4 C1270.3 594.2 1275.6 595.1 1280.8 595.9 C1286.1 596.7 1291.4 597.5 1296.6 598.3 C1301.9 599.1 1307.1 599.8 1312.4 600.6 C1317.7 601.4 1322.9 602.2 1328.2 603.1 C1333.4 604.0 1338.7 604.9 1344.0 605.9 C1349.2 606.9 1354.5 608.0 1359.7 609.2 C1365.0 610.4 1370.3 611.6 1375.5 612.8 C1380.8 614.0 1386.0 615.3 1391.3 616.5 C1396.6 617.6 1401.8 618.8 1407.1 619.8 C1412.3 620.8 1417.6 621.8 1422.9 622.6 C1428.1 623.4 1433.4 624.2 1438.6 624.9 C1443.9 625.6 1449.2 626.3 1454.4 626.9 C1459.7 627.5 1464.9 628.1 1470.2 628.7 C1475.5 629.3 1480.7 629.9 1486.0 630.5 C1491.2 631.2 1496.5 631.8 1501.8 632.4 C1507.0 633.1 1512.3 633.7 1517.5 634.3 C1522.8 635.0 1528.1 635.6 1533.3 636.2 C1538.6 636.8 1543.8 637.3 1549.1 637.9 C1554.4 638.4 1559.6 638.9 1564.9 639.4 C1570.1 639.9 1575.4 640.3 1580.7 640.7 C1585.9 641.2 1591.2 641.5 1596.4 641.9 C1601.7 642.3 1606.9 642.6 1612.2 643.0 C1617.5 643.3 1622.7 643.7 1628.0 644.0 C1633.2 644.4 1638.5 644.7 1643.8 645.1 C1649.0 645.4 1654.3 645.8 1659.5 646.2 C1664.8 646.6 1670.1 647.1 1675.3 647.5 C1680.6 648.0 1685.8 648.4 1691.1 648.9 C1696.4 649.4 1701.6 649.9 1706.9 650.4 C1712.1 650.9 1717.4 651.5 1722.7 652.0 C1727.9 652.5 1733.2 653.1 1738.4 653.6 C1743.7 654.2 1749.0 654.7 1754.2 655.3 C1759.5 655.9 1764.7 656.4 1770.0 657.0" stroke="#ccccff" stroke-width="3.3"/>
<path d="M1012.6 663.5 C1017.9 663.6 1023.1 663.6 1028.4 663.7 C1033.6 663.8 1038.9 663.8 1044.2 663.9 C1049.4 664.0 1054.7 664.0 1059.9 664.1 C1065.2 664.1 1070.5 664.2 1075.7 664.3 C1081.0 664.3 1086.2 664.4 1091.5 664.4 C1096.8 664.5 1102.0 664.5 1107.3 664.6 C1112.5 664.6 1117.8 664.6 1123.1 664.7 C1128.3 664.7 1133.6 664.7 1138.8 664.8 C1144.1 664.8 1149.4 664.8 1154.6 664.8 C1159.9 664.9 1165.1 664.9 1170.4 664.9 C1175.7 664.9 1180.9 664.9 1186.2 664.9 C1191.4 665.0 1196.7 665.0 1202.0 665.0 C1207.2 665.0 1212.5 665.0 1217.7 665.0 C1223.0 665.0 1228.2 665.0 1233.5 665.0 C1238.8 665.0 1244.0 665.0 1249.3 665.0 C1254.5 665.0 1259.8 665.0 1265.1 665.0 C1270.3 665.0 1275.6 665.0 1280.8 665.0 C1286.1 665.0 1291.4 665.0 1296.6 665.0 C1301.9 665.0 1307.1 665.0 1312.4 665.0 C1317.7 665.0 1322.9 665.0 1328.2 665.0 C1333.4 665.0 1338.7 665.0 1344.0 665.0 C1349.2 665.0 1354.5 665.0 1359.7 665.0 C1365.0 665.0 1370.3 665.0 1375.5 665.0 C1380.8 665.0 1386.0 665.0 1391.3 665.0 C1396.6 665.0 1401.8 665.0 1407.1 665.0 C1412.3 665.0 1417.6 665.0 1422.9 665.0 C1428.1 665.0 1433.4 665.0 1438.6 665.0 C1443.9 665.0 1449.2 665.1 1454.4 665.1 C1459.7 665.1 1464.9 665.1 1470.2 665.1 C1475.5 665.1 1480.7 665.1 1486.0 665.1 C1491.2 665.1 1496.5 665.1 1501.8 665.1 C1507.0 665.1 1512.3 665.1 1517.5 665.1 C1522.8 665.1 1528.1 665.1 1533.3 665.1 C1538.6 665.1 1543.8 665.2 1549.1 665.2 C1554.4 665.2 1559.6 665.2 1564.9 665.2 C1570.1 665.2 1575.4 665.2 1580.7 665.2 C1585.9 665.2 1591.2 665.2 1596.4 665.2 C1601.7 665.2 1606.9 665.2 1612.2 665.2 C1617.5 665.3 1622.7 665.3 1628.0 665.3 C1633.2 665.3 1638.5 665.3 1643.8 665.3 C1649.0 665.3 1654.3 665.3 1659.5 665.3 C1664.8 665.3 1670.1 665.3 1675.3 665.3 C1680.6 665.4 1685.8 665.4 1691.1 665.4 C1696.4 665.4 1701.6 665.4 1706.9 665.4 C1712.1 665.4 1717.4 665.4 1722.7 665.4 C1727.9 665.4 1733.2 665.4 1738.4 665.4 C1743.7 665.5 1749.0 665.5 1754.2 665.5 C1759.5 665.5 1764.7 665.5 1770.0 665.5" stroke="#ccccff" stroke-width="3.3"/>
<path d="M1012.6 662.1 C1017.9 661.8 1023.1 661.4 1028.4 661.1 C1033.6 660.7 1038.9 660.3 1044.2 659.9 C1049.4 659.5 1054.7 659.1 1059.9 658.6 C1065.2 658.1 1070.5 657.6 1075.7 657.0 C1081.0 656.4 1086.2 655.6 1091.5 654.7 C1096.8 653.8 1102.0 652.8 1107.3 651.5 C1112.5 650.2 1117.8 648.8 1123.1 647.3 C1128.3 645.7 1133.6 644.1 1138.8 642.4 C1144.1 640.8 1149.4 639.1 1154.6 637.4 C1159.9 635.7 1165.1 634.0 1170.4 632.3 C1175.7 630.6 1180.9 628.9 1186.2 627.1 C1191.4 625.3 1196.7 623.4 1202.0 621.3 C1207.2 619.2 1212.5 616.9 1217.7 614.3 C1223.0 611.7 1228.2 608.9 1233.5 606.0 C1238.8 603.1 1244.0 600.1 1249.3 597.2 C1254.5 594.2 1259.8 591.4 1265.1 588.8 C1270.3 586.2 1275.6 583.9 1280.8 581.9 C1286.1 579.9 1291.4 578.3 1296.6 577.0 C1301.9 575.7 1307.1 574.8 1312.4 574.3 C1317.7 573.7 1322.9 573.5 1328.2 573.7 C1333.4 573.9 1338.7 574.4 1344.0 575.2 C1349.2 576.0 1354.5 577.0 1359.7 578.3 C1365.0 579.6 1370.3 581.1 1375.5 582.7 C1380.8 584.3 1386.0 586.0 1391.3 587.8 C1396.6 589.5 1401.8 591.2 1407.1 592.9 C1412.3 594.6 1417.6 596.2 1422.9 597.8 C1428.1 599.3 1433.4 600.8 1438.6 602.2 C1443.9 603.7 1449.2 605.0 1454.4 606.4 C1459.7 607.7 1464.9 609.0 1470.2 610.4 C1475.5 611.7 1480.7 613.1 1486.0 614.4 C1491.2 615.8 1496.5 617.1 1501.8 618.5 C1507.0 619.8 1512.3 621.2 1517.5 622.5 C1522.8 623.8 1528.1 625.1 1533.3 626.4 C1538.6 627.7 1543.8 629.0 1549.1 630.2 C1554.4 631.5 1559.6 632.7 1564.9 633.9 C1570.1 635.2 1575.4 636.4 1580.7 637.6 C1585.9 638.7 1591.2 639.9 1596.4 641.1 C1601.7 642.2 1606.9 643.3 1612.2 644.4 C1617.5 645.5 1622.7 646.5 1628.0 647.5 C1633.2 648.5 1638.5 649.4 1643.8 650.2 C1649.0 651.1 1654.3 651.8 1659.5 652.5 C1664.8 653.2 1670.1 653.9 1675.3 654.5 C1680.6 655.0 1685.8 655.6 1691.1 656.0 C1696.4 656.5 1701.6 657.0 1706.9 657.4 C1712.1 657.8 1717.4 658.1 1722.7 658.5 C1727.9 658.8 1733.2 659.1 1738.4 659.5 C1743.7 659.8 1749.0 660.0 1754.2 660.3 C1759.5 660.6 1764.7 660.9 1770.0 661.1" stroke="#ff0000" stroke-width="3.9"/>
<path d="M1012.6 665.7 C1017.9 665.7 1023.1 665.6 1028.4 665.6 C1033.6 665.6 1038.9 665.5 1044.2 665.5 C1049.4 665.4 1054.7 665.4 1059.9 665.3 C1065.2 665.3 1070.5 665.2 1075.7 665.1 C1081.0 665.0 1086.2 665.0 1091.5 664.9 C1096.8 664.8 1102.0 664.7 1107.3 664.5 C1112.5 664.4 1117.8 664.3 1123.1 664.1 C1128.3 664.0 1133.6 663.8 1138.8 663.7 C1144.1 663.5 1149.4 663.3 1154.6 663.1 C1159.9 662.9 1165.1 662.7 1170.4 662.5 C1175.7 662.3 1180.9 662.1 1186.2 661.8 C1191.4 661.6 1196.7 661.3 1202.0 661.1 C1207.2 660.8 1212.5 660.5 1217.7 660.1 C1223.0 659.8 1228.2 659.4 1233.5 659.0 C1238.8 658.5 1244.0 658.0 1249.3 657.5 C1254.5 656.9 1259.8 656.3 1265.1 655.7 C1270.3 655.0 1275.6 654.3 1280.8 653.6 C1286.1 652.9 1291.4 652.1 1296.6 651.3 C1301.9 650.6 1307.1 649.8 1312.4 648.9 C1317.7 648.1 1322.9 647.2 1328.2 646.2 C1333.4 645.3 1338.7 644.3 1344.0 643.3 C1349.2 642.2 1354.5 641.0 1359.7 639.8 C1365.0 638.6 1370.3 637.3 1375.5 635.9 C1380.8 634.4 1386.0 632.9 1391.3 631.3 C1396.6 629.7 1401.8 627.9 1407.1 626.1 C1412.3 624.3 1417.6 622.3 1422.9 620.3 C1428.1 618.3 1433.4 616.2 1438.6 614.1 C1443.9 612.0 1449.2 609.8 1454.4 607.6 C1459.7 605.4 1464.9 603.2 1470.2 601.1 C1475.5 598.9 1480.7 596.8 1486.0 594.7 C1491.2 592.6 1496.5 590.6 1501.8 588.6 C1507.0 586.6 1512.3 584.6 1517.5 582.6 C1522.8 580.6 1528.1 578.5 1533.3 576.6 C1538.6 574.7 1543.8 572.8 1549.1 571.0 C1554.4 569.3 1559.6 567.6 1564.9 566.3 C1570.1 564.9 1575.4 563.8 1580.7 563.0 C1585.9 562.3 1591.2 561.9 1596.4 562.0 C1601.7 562.2 1606.9 562.8 1612.2 563.7 C1617.5 564.7 1622.7 566.1 1628.0 567.8 C1633.2 569.5 1638.5 571.4 1643.8 573.6 C1649.0 575.7 1654.3 578.1 1659.5 580.5 C1664.8 583.0 1670.1 585.5 1675.3 588.1 C1680.6 590.7 1685.8 593.4 1691.1 596.1 C1696.4 598.8 1701.6 601.5 1706.9 604.3 C1712.1 607.1 1717.4 610.0 1722.7 613.0 C1727.9 616.1 1733.2 619.2 1738.4 622.6 C1743.7 625.9 1749.0 629.4 1754.2 632.9 C1759.5 636.5 1764.7 640.2 1770.0 643.8" stroke="#00ff00" stroke-width="3.9"/>
<path d="M1012.6 501.4 C1017.9 436.3 1023.1 383.3 1028.4 385.6 C1033.6 387.9 1038.9 421.9 1044.2 447.8 C1049.4 473.6 1054.7 495.8 1059.9 511.5 C1065.2 527.1 1070.5 537.1 1075.7 544.6 C1081.0 552.1 1086.2 557.1 1091.5 561.6 C1096.8 566.1 1102.0 570.3 1107.3 574.9 C1112.5 579.4 1117.8 584.1 1123.1 588.3 C1128.3 592.5 1133.6 596.2 1138.8 599.5 C1144.1 602.8 1149.4 605.7 1154.6 608.4 C1159.9 611.1 1165.1 613.7 1170.4 616.0 C1175.7 618.4 1180.9 620.6 1186.2 622.5 C1191.4 624.4 1196.7 626.1 1202.0 627.6 C1207.2 629.1 1212.5 630.4 1217.7 631.5 C1223.0 632.7 1228.2 633.8 1233.5 634.7 C1238.8 635.6 1244.0 636.5 1249.3 637.3 C1254.5 638.1 1259.8 638.8 1265.1 639.6 C1270.3 640.4 1275.6 641.2 1280.8 642.0 C1286.1 642.8 1291.4 643.6 1296.6 644.3 C1301.9 645.0 1307.1 645.6 1312.4 646.1 C1317.7 646.7 1322.9 647.1 1328.2 647.6 C1333.4 648.0 1338.7 648.4 1344.0 648.8 C1349.2 649.2 1354.5 649.5 1359.7 649.9 C1365.0 650.2 1370.3 650.6 1375.5 650.9 C1380.8 651.3 1386.0 651.6 1391.3 651.9 C1396.6 652.3 1401.8 652.6 1407.1 652.9 C1412.3 653.2 1417.6 653.5 1422.9 653.8 C1428.1 654.0 1433.4 654.3 1438.6 654.6 C1443.9 654.8 1449.2 655.0 1454.4 655.3 C1459.7 655.5 1464.9 655.7 1470.2 655.9 C1475.5 656.1 1480.7 656.3 1486.0 656.5 C1491.2 656.6 1496.5 656.8 1501.8 656.9 C1507.0 657.1 1512.3 657.2 1517.5 657.3 C1522.8 657.5 1528.1 657.6 1533.3 657.7 C1538.6 657.8 1543.8 657.9 1549.1 658.0 C1554.4 658.1 1559.6 658.2 1564.9 658.2 C1570.1 658.3 1575.4 658.4 1580.7 658.5 C1585.9 658.6 1591.2 658.7 1596.4 658.8 C1601.7 658.8 1606.9 658.9 1612.2 659.0 C1617.5 659.1 1622.7 659.2 1628.0 659.4 C1633.2 659.5 1638.5 659.6 1643.8 659.7 C1649.0 659.9 1654.3 660.0 1659.5 660.1 C1664.8 660.3 1670.1 660.4 1675.3 660.6 C1680.6 660.8 1685.8 660.9 1691.1 661.1 C1696.4 661.2 1701.6 661.4 1706.9 661.6 C1712.1 661.8 1717.4 661.9 1722.7 662.1 C1727.9 662.3 1733.2 662.5 1738.4 662.7 C1743.7 662.9 1749.0 663.0 1754.2 663.2 C1759.5 663.4 1764.7 663.6 1770.0 663.8" stroke="#0000ff" stroke-width="3.9"/>
</g>
<path d="M127.0 779.9 L127.0 1188.4 L885.8 1188.4" fill="none" stroke="#000" stroke-width="1.7" stroke-linejoin="round"/>
<line x1="316.7" y1="1188.4" x2="316.7" y2="1180.9" stroke="#000" stroke-width="1.5"/>
<text x="316.7" y="1226.4" font-size="31" text-anchor="middle">0.5</text>
<line x1="506.4" y1="1188.4" x2="506.4" y2="1180.9" stroke="#000" stroke-width="1.5"/>
<text x="506.4" y="1226.4" font-size="31" text-anchor="middle">1</text>
<line x1="696.1" y1="1188.4" x2="696.1" y2="1180.9" stroke="#000" stroke-width="1.5"/>
<text x="696.1" y="1226.4" font-size="31" text-anchor="middle">1.5</text>
<line x1="885.8" y1="1188.4" x2="885.8" y2="1180.9" stroke="#000" stroke-width="1.5"/>
<text x="885.8" y="1226.4" font-size="31" text-anchor="middle">2</text>
<line x1="127.0" y1="1188.4" x2="134.5" y2="1188.4" stroke="#000" stroke-width="1.5"/>
<text x="118.7" y="1199.7" font-size="31" text-anchor="end">0</text>
<line x1="127.0" y1="874.3" x2="134.5" y2="874.3" stroke="#000" stroke-width="1.5"/>
<text x="118.7" y="885.6" font-size="31" text-anchor="end">0.5</text>
<text x="506.9" y="1262.4" font-size="31" text-anchor="middle">Facilitation Timeconstant, F(s)</text>
<clipPath id="clipBL"><rect x="127.0" y="779.9" width="759.8" height="411.5"/></clipPath>
<g fill="none" stroke-linejoin="round" stroke-linecap="butt" clip-path="url(#clipBL)">
<path d="M127.1 954.1 C132.4 944.5 137.6 934.8 142.9 925.6 C148.1 916.4 153.4 907.7 158.7 899.8 C163.9 892.0 169.2 884.9 174.5 879.0 C179.7 873.0 185.0 868.2 190.2 864.5 C195.5 860.7 200.8 858.1 206.0 856.5 C211.3 854.9 216.6 854.3 221.8 854.1 C227.1 853.9 232.3 853.9 237.6 854.3 C242.9 854.6 248.1 855.4 253.4 857.1 C258.6 858.7 263.9 861.0 269.2 864.2 C274.4 867.3 279.7 871.5 285.0 875.5 C290.2 879.6 295.5 883.1 300.7 885.7 C306.0 888.3 311.3 890.3 316.5 892.1 C321.8 893.8 327.0 895.3 332.3 896.5 C337.6 897.7 342.8 898.6 348.1 899.2 C353.4 899.7 358.6 899.9 363.9 899.9 C369.1 899.8 374.4 899.5 379.7 899.1 C384.9 898.6 390.2 898.0 395.5 897.4 C400.7 896.8 406.0 896.2 411.2 895.6 C416.5 895.1 421.8 894.7 427.0 894.4 C432.3 894.1 437.5 894.0 442.8 893.9 C448.1 893.9 453.3 893.9 458.6 894.1 C463.9 894.2 469.1 894.4 474.4 894.6 C479.6 894.8 484.9 895.0 490.2 895.2 C495.4 895.4 500.7 895.7 505.9 895.8 C511.2 896.0 516.5 896.1 521.7 896.1 C527.0 896.2 532.3 896.2 537.5 896.2 C542.8 896.2 548.0 896.1 553.3 896.1 C558.6 896.0 563.8 896.0 569.1 895.9 C574.4 895.9 579.6 895.9 584.9 895.9 C590.1 895.9 595.4 895.9 600.7 896.0 C605.9 896.1 611.2 896.3 616.4 896.5 C621.7 896.8 627.0 897.1 632.2 897.5 C637.5 897.9 642.8 898.4 648.0 899.0 C653.3 899.5 658.5 900.1 663.8 900.8 C669.1 901.4 674.3 902.1 679.6 902.8 C684.9 903.5 690.1 904.2 695.4 904.9 C700.6 905.7 705.9 906.4 711.2 907.0 C716.4 907.7 721.7 908.4 726.9 909.2 C732.2 909.9 737.5 910.8 742.7 911.9 C748.0 913.0 753.3 914.2 758.5 915.9 C763.8 917.5 769.0 919.4 774.3 921.7 C779.6 924.1 784.8 926.9 790.1 930.2 C795.3 933.5 800.6 937.4 805.9 941.9 C811.1 946.5 816.4 951.7 821.7 957.6 C826.9 963.6 832.2 970.3 837.4 977.4 C842.7 984.5 848.0 992.0 853.2 999.4 C858.5 1006.9 863.8 1014.4 869.0 1021.9 C874.3 1029.4 879.5 1037.0 884.8 1044.5" stroke="#ffcccc" stroke-width="3.3"/>
<path d="M127.1 961.4 C132.4 952.1 137.6 942.8 142.9 934.1 C148.1 925.3 153.4 917.2 158.7 909.8 C163.9 902.5 169.2 896.0 174.5 890.4 C179.7 884.9 185.0 880.3 190.2 876.6 C195.5 872.8 200.8 869.9 206.0 867.6 C211.3 865.3 216.6 863.6 221.8 862.4 C227.1 861.2 232.3 860.5 237.6 860.1 C242.9 859.8 248.1 859.8 253.4 860.0 C258.6 860.2 263.9 860.6 269.2 861.0 C274.4 861.4 279.7 861.9 285.0 862.4 C290.2 862.8 295.5 863.2 300.7 863.5 C306.0 863.9 311.3 864.2 316.5 864.5 C321.8 864.8 327.0 865.0 332.3 865.3 C337.6 865.6 342.8 865.8 348.1 866.1 C353.4 866.3 358.6 866.6 363.9 866.9 C369.1 867.1 374.4 867.4 379.7 867.7 C384.9 868.0 390.2 868.2 395.5 868.5 C400.7 868.8 406.0 869.1 411.2 869.5 C416.5 869.8 421.8 870.1 427.0 870.5 C432.3 870.8 437.5 871.2 442.8 871.5 C448.1 871.9 453.3 872.2 458.6 872.6 C463.9 873.0 469.1 873.3 474.4 873.7 C479.6 874.0 484.9 874.4 490.2 874.7 C495.4 875.0 500.7 875.4 505.9 875.7 C511.2 876.0 516.5 876.2 521.7 876.5 C527.0 876.7 532.3 877.0 537.5 877.2 C542.8 877.4 548.0 877.6 553.3 877.8 C558.6 878.0 563.8 878.2 569.1 878.3 C574.4 878.5 579.6 878.7 584.9 878.8 C590.1 879.0 595.4 879.1 600.7 879.3 C605.9 879.4 611.2 879.6 616.4 879.7 C621.7 879.9 627.0 880.1 632.2 880.2 C637.5 880.4 642.8 880.6 648.0 880.8 C653.3 881.0 658.5 881.2 663.8 881.5 C669.1 881.8 674.3 882.1 679.6 882.4 C684.9 882.8 690.1 883.2 695.4 883.6 C700.6 884.1 705.9 884.6 711.2 885.2 C716.4 885.8 721.7 886.5 726.9 887.4 C732.2 888.2 737.5 889.3 742.7 890.6 C748.0 892.0 753.3 893.6 758.5 895.6 C763.8 897.6 769.0 900.1 774.3 903.0 C779.6 906.0 784.8 909.5 790.1 913.5 C795.3 917.6 800.6 922.2 805.9 927.4 C811.1 932.5 816.4 938.2 821.7 944.4 C826.9 950.6 832.2 957.3 837.4 964.5 C842.7 971.7 848.0 979.4 853.2 987.5 C858.5 995.5 863.8 1004.1 869.0 1012.9 C874.3 1021.7 879.5 1030.8 884.8 1039.9" stroke="#ffcccc" stroke-width="3.3"/>
<path d="M127.1 998.2 C132.4 989.1 137.6 980.0 142.9 971.3 C148.1 962.6 153.4 954.4 158.7 947.0 C163.9 939.7 169.2 933.2 174.5 927.5 C179.7 921.8 185.0 916.8 190.2 912.5 C195.5 908.1 200.8 904.3 206.0 900.9 C211.3 897.5 216.6 894.6 221.8 892.1 C227.1 889.6 232.3 887.5 237.6 885.8 C242.9 884.0 248.1 882.7 253.4 881.6 C258.6 880.5 263.9 879.8 269.2 879.2 C274.4 878.6 279.7 878.3 285.0 878.1 C290.2 877.9 295.5 877.9 300.7 877.9 C306.0 878.0 311.3 878.1 316.5 878.3 C321.8 878.6 327.0 878.8 332.3 879.1 C337.6 879.4 342.8 879.8 348.1 880.1 C353.4 880.4 358.6 880.7 363.9 881.0 C369.1 881.3 374.4 881.6 379.7 881.9 C384.9 882.2 390.2 882.4 395.5 882.7 C400.7 883.0 406.0 883.3 411.2 883.6 C416.5 883.8 421.8 884.1 427.0 884.4 C432.3 884.6 437.5 884.9 442.8 885.1 C448.1 885.4 453.3 885.7 458.6 885.9 C463.9 886.1 469.1 886.4 474.4 886.6 C479.6 886.8 484.9 887.0 490.2 887.2 C495.4 887.4 500.7 887.6 505.9 887.8 C511.2 888.0 516.5 888.1 521.7 888.3 C527.0 888.4 532.3 888.6 537.5 888.7 C542.8 888.8 548.0 888.9 553.3 889.0 C558.6 889.1 563.8 889.2 569.1 889.3 C574.4 889.4 579.6 889.4 584.9 889.5 C590.1 889.6 595.4 889.6 600.7 889.7 C605.9 889.8 611.2 889.8 616.4 889.9 C621.7 890.0 627.0 890.0 632.2 890.1 C637.5 890.2 642.8 890.2 648.0 890.3 C653.3 890.4 658.5 890.5 663.8 890.7 C669.1 890.8 674.3 891.0 679.6 891.2 C684.9 891.4 690.1 891.7 695.4 892.0 C700.6 892.3 705.9 892.7 711.2 893.1 C716.4 893.6 721.7 894.1 726.9 894.8 C732.2 895.6 737.5 896.5 742.7 897.8 C748.0 899.0 753.3 900.6 758.5 902.6 C763.8 904.6 769.0 907.0 774.3 910.0 C779.6 913.0 784.8 916.5 790.1 920.6 C795.3 924.7 800.6 929.3 805.9 934.4 C811.1 939.4 816.4 944.9 821.7 950.9 C826.9 956.9 832.2 963.5 837.4 970.7 C842.7 977.9 848.0 985.7 853.2 993.7 C858.5 1001.8 863.8 1010.0 869.0 1018.0 C874.3 1026.0 879.5 1034.0 884.8 1042.0" stroke="#ffcccc" stroke-width="3.3"/>
<path d="M127.1 974.8 C132.4 965.8 137.6 956.7 142.9 948.3 C148.1 939.9 153.4 932.2 158.7 925.5 C163.9 918.9 169.2 913.3 174.5 908.3 C179.7 903.3 185.0 898.8 190.2 894.6 C195.5 890.4 200.8 886.4 206.0 882.8 C211.3 879.2 216.6 876.1 221.8 873.6 C227.1 871.1 232.3 869.3 237.6 868.0 C242.9 866.7 248.1 865.9 253.4 865.4 C258.6 864.9 263.9 864.7 269.2 864.6 C274.4 864.6 279.7 864.7 285.0 864.9 C290.2 865.2 295.5 865.6 300.7 866.1 C306.0 866.6 311.3 867.1 316.5 867.8 C321.8 868.4 327.0 869.2 332.3 869.9 C337.6 870.6 342.8 871.4 348.1 872.2 C353.4 872.9 358.6 873.7 363.9 874.5 C369.1 875.2 374.4 876.0 379.7 876.7 C384.9 877.5 390.2 878.2 395.5 878.9 C400.7 879.6 406.0 880.3 411.2 880.9 C416.5 881.6 421.8 882.2 427.0 882.8 C432.3 883.4 437.5 884.0 442.8 884.6 C448.1 885.1 453.3 885.6 458.6 886.1 C463.9 886.6 469.1 887.1 474.4 887.5 C479.6 887.9 484.9 888.3 490.2 888.7 C495.4 889.0 500.7 889.4 505.9 889.7 C511.2 890.0 516.5 890.2 521.7 890.5 C527.0 890.7 532.3 890.9 537.5 891.1 C542.8 891.2 548.0 891.4 553.3 891.5 C558.6 891.7 563.8 891.8 569.1 891.9 C574.4 892.0 579.6 892.1 584.9 892.2 C590.1 892.3 595.4 892.4 600.7 892.5 C605.9 892.6 611.2 892.7 616.4 892.8 C621.7 892.9 627.0 893.0 632.2 893.2 C637.5 893.3 642.8 893.5 648.0 893.7 C653.3 893.9 658.5 894.1 663.8 894.3 C669.1 894.6 674.3 894.9 679.6 895.3 C684.9 895.6 690.1 896.1 695.4 896.6 C700.6 897.0 705.9 897.6 711.2 898.2 C716.4 898.9 721.7 899.6 726.9 900.5 C732.2 901.4 737.5 902.4 742.7 903.7 C748.0 905.0 753.3 906.5 758.5 908.4 C763.8 910.3 769.0 912.5 774.3 915.2 C779.6 918.0 784.8 921.3 790.1 925.2 C795.3 929.0 800.6 933.5 805.9 938.4 C811.1 943.4 816.4 948.9 821.7 955.0 C826.9 961.0 832.2 967.5 837.4 974.5 C842.7 981.5 848.0 989.0 853.2 996.6 C858.5 1004.2 863.8 1012.0 869.0 1019.7 C874.3 1027.5 879.5 1035.2 884.8 1043.0" stroke="#ffcccc" stroke-width="3.3"/>
<path d="M127.1 966.3 C132.4 956.5 137.6 946.6 142.9 937.3 C148.1 928.0 153.4 919.4 158.7 911.7 C163.9 904.0 169.2 897.1 174.5 891.1 C179.7 885.0 185.0 879.8 190.2 875.4 C195.5 871.1 200.8 867.6 206.0 864.9 C211.3 862.3 216.6 860.6 221.8 859.6 C227.1 858.6 232.3 858.1 237.6 858.0 C242.9 857.8 248.1 857.8 253.4 858.0 C258.6 858.2 263.9 858.6 269.2 859.0 C274.4 859.4 279.7 859.9 285.0 860.5 C290.2 861.1 295.5 861.7 300.7 862.3 C306.0 863.0 311.3 863.6 316.5 864.3 C321.8 865.0 327.0 865.6 332.3 866.3 C337.6 866.9 342.8 867.6 348.1 868.1 C353.4 868.7 358.6 869.3 363.9 869.8 C369.1 870.3 374.4 870.7 379.7 871.2 C384.9 871.6 390.2 872.0 395.5 872.4 C400.7 872.8 406.0 873.1 411.2 873.5 C416.5 873.8 421.8 874.1 427.0 874.4 C432.3 874.7 437.5 875.0 442.8 875.2 C448.1 875.5 453.3 875.7 458.6 876.0 C463.9 876.2 469.1 876.4 474.4 876.6 C479.6 876.8 484.9 877.0 490.2 877.2 C495.4 877.4 500.7 877.6 505.9 877.8 C511.2 878.0 516.5 878.2 521.7 878.3 C527.0 878.5 532.3 878.7 537.5 878.8 C542.8 879.0 548.0 879.2 553.3 879.3 C558.6 879.5 563.8 879.6 569.1 879.8 C574.4 879.9 579.6 880.1 584.9 880.2 C590.1 880.3 595.4 880.4 600.7 880.5 C605.9 880.7 611.2 880.8 616.4 880.9 C621.7 880.9 627.0 881.0 632.2 881.1 C637.5 881.2 642.8 881.2 648.0 881.3 C653.3 881.4 658.5 881.5 663.8 881.6 C669.1 881.8 674.3 881.9 679.6 882.2 C684.9 882.4 690.1 882.6 695.4 883.0 C700.6 883.3 705.9 883.7 711.2 884.2 C716.4 884.7 721.7 885.2 726.9 886.0 C732.2 886.7 737.5 887.7 742.7 888.9 C748.0 890.1 753.3 891.5 758.5 893.3 C763.8 895.2 769.0 897.4 774.3 900.2 C779.6 903.0 784.8 906.4 790.1 910.4 C795.3 914.4 800.6 919.1 805.9 924.4 C811.1 929.6 816.4 935.5 821.7 941.9 C826.9 948.3 832.2 955.2 837.4 962.6 C842.7 969.9 848.0 977.7 853.2 985.7 C858.5 993.7 863.8 1002.0 869.0 1010.4 C874.3 1018.9 879.5 1027.4 884.8 1036.0" stroke="#ccffcc" stroke-width="3.3"/>
<path d="M127.1 1019.9 C132.4 1011.2 137.6 1002.5 142.9 994.0 C148.1 985.5 153.4 977.3 158.7 969.7 C163.9 962.0 169.2 954.8 174.5 948.0 C179.7 941.2 185.0 934.8 190.2 928.8 C195.5 922.9 200.8 917.4 206.0 912.6 C211.3 907.8 216.6 903.8 221.8 900.4 C227.1 897.1 232.3 894.5 237.6 892.3 C242.9 890.2 248.1 888.4 253.4 886.9 C258.6 885.4 263.9 884.2 269.2 883.1 C274.4 882.1 279.7 881.3 285.0 880.6 C290.2 879.9 295.5 879.4 300.7 879.0 C306.0 878.6 311.3 878.4 316.5 878.2 C321.8 878.0 327.0 878.0 332.3 877.9 C337.6 877.9 342.8 877.9 348.1 878.0 C353.4 878.1 358.6 878.1 363.9 878.2 C369.1 878.3 374.4 878.5 379.7 878.6 C384.9 878.8 390.2 878.9 395.5 879.1 C400.7 879.3 406.0 879.5 411.2 879.7 C416.5 879.9 421.8 880.1 427.0 880.3 C432.3 880.5 437.5 880.7 442.8 881.0 C448.1 881.2 453.3 881.4 458.6 881.7 C463.9 881.9 469.1 882.1 474.4 882.4 C479.6 882.6 484.9 882.8 490.2 883.1 C495.4 883.3 500.7 883.5 505.9 883.8 C511.2 884.0 516.5 884.2 521.7 884.4 C527.0 884.6 532.3 884.8 537.5 885.0 C542.8 885.1 548.0 885.3 553.3 885.5 C558.6 885.6 563.8 885.8 569.1 885.9 C574.4 886.1 579.6 886.2 584.9 886.3 C590.1 886.4 595.4 886.6 600.7 886.6 C605.9 886.7 611.2 886.8 616.4 886.9 C621.7 887.0 627.0 887.0 632.2 887.1 C637.5 887.1 642.8 887.1 648.0 887.2 C653.3 887.3 658.5 887.3 663.8 887.5 C669.1 887.6 674.3 887.7 679.6 888.0 C684.9 888.2 690.1 888.5 695.4 888.8 C700.6 889.2 705.9 889.6 711.2 890.2 C716.4 890.8 721.7 891.4 726.9 892.3 C732.2 893.2 737.5 894.2 742.7 895.6 C748.0 897.0 753.3 898.6 758.5 900.6 C763.8 902.7 769.0 905.1 774.3 908.0 C779.6 911.0 784.8 914.5 790.1 918.5 C795.3 922.6 800.6 927.2 805.9 932.4 C811.1 937.6 816.4 943.3 821.7 949.5 C826.9 955.7 832.2 962.4 837.4 969.6 C842.7 976.7 848.0 984.4 853.2 992.2 C858.5 1000.0 863.8 1008.0 869.0 1016.0 C874.3 1024.0 879.5 1032.0 884.8 1040.0" stroke="#ccffcc" stroke-width="3.3"/>
<path d="M127.1 1030.0 C132.4 1021.8 137.6 1013.6 142.9 1005.5 C148.1 997.5 153.4 989.6 158.7 981.9 C163.9 974.3 169.2 966.9 174.5 960.0 C179.7 953.0 185.0 946.4 190.2 940.4 C195.5 934.3 200.8 928.8 206.0 923.8 C211.3 918.8 216.6 914.4 221.8 910.5 C227.1 906.7 232.3 903.5 237.6 900.8 C242.9 898.2 248.1 896.1 253.4 894.3 C258.6 892.6 263.9 891.2 269.2 890.1 C274.4 889.0 279.7 888.2 285.0 887.5 C290.2 886.8 295.5 886.3 300.7 885.9 C306.0 885.5 311.3 885.2 316.5 885.1 C321.8 884.9 327.0 884.8 332.3 884.8 C337.6 884.8 342.8 884.8 348.1 884.9 C353.4 885.0 358.6 885.1 363.9 885.3 C369.1 885.5 374.4 885.7 379.7 885.9 C384.9 886.2 390.2 886.4 395.5 886.7 C400.7 887.0 406.0 887.2 411.2 887.5 C416.5 887.8 421.8 888.1 427.0 888.4 C432.3 888.6 437.5 888.9 442.8 889.2 C448.1 889.4 453.3 889.7 458.6 889.9 C463.9 890.1 469.1 890.4 474.4 890.6 C479.6 890.8 484.9 891.0 490.2 891.2 C495.4 891.4 500.7 891.6 505.9 891.8 C511.2 892.0 516.5 892.1 521.7 892.3 C527.0 892.5 532.3 892.6 537.5 892.8 C542.8 892.9 548.0 893.0 553.3 893.2 C558.6 893.3 563.8 893.4 569.1 893.6 C574.4 893.7 579.6 893.8 584.9 893.9 C590.1 894.1 595.4 894.2 600.7 894.3 C605.9 894.5 611.2 894.6 616.4 894.8 C621.7 894.9 627.0 895.1 632.2 895.2 C637.5 895.4 642.8 895.6 648.0 895.8 C653.3 896.0 658.5 896.2 663.8 896.5 C669.1 896.7 674.3 897.0 679.6 897.4 C684.9 897.8 690.1 898.2 695.4 898.6 C700.6 899.1 705.9 899.6 711.2 900.2 C716.4 900.8 721.7 901.5 726.9 902.4 C732.2 903.2 737.5 904.3 742.7 905.6 C748.0 907.0 753.3 908.6 758.5 910.6 C763.8 912.6 769.0 915.1 774.3 918.0 C779.6 921.0 784.8 924.5 790.1 928.5 C795.3 932.6 800.6 937.2 805.9 942.4 C811.1 947.6 816.4 953.4 821.7 959.6 C826.9 965.8 832.2 972.5 837.4 979.4 C842.7 986.4 848.0 993.7 853.2 1001.1 C858.5 1008.5 863.8 1016.0 869.0 1023.5 C874.3 1031.0 879.5 1038.5 884.8 1046.0" stroke="#ccffcc" stroke-width="3.3"/>
<path d="M127.1 994.9 C132.4 986.1 137.6 977.3 142.9 968.9 C148.1 960.4 153.4 952.3 158.7 944.7 C163.9 937.2 169.2 930.2 174.5 923.9 C179.7 917.5 185.0 911.8 190.2 906.8 C195.5 901.8 200.8 897.4 206.0 893.7 C211.3 890.0 216.6 887.0 221.8 884.6 C227.1 882.1 232.3 880.3 237.6 878.8 C242.9 877.3 248.1 876.2 253.4 875.4 C258.6 874.5 263.9 873.9 269.2 873.4 C274.4 872.9 279.7 872.6 285.0 872.4 C290.2 872.2 295.5 872.1 300.7 872.0 C306.0 871.9 311.3 871.8 316.5 871.8 C321.8 871.8 327.0 871.8 332.3 871.8 C337.6 871.9 342.8 871.9 348.1 872.0 C353.4 872.1 358.6 872.2 363.9 872.3 C369.1 872.4 374.4 872.6 379.7 872.7 C384.9 872.8 390.2 873.0 395.5 873.2 C400.7 873.3 406.0 873.5 411.2 873.7 C416.5 873.9 421.8 874.1 427.0 874.2 C432.3 874.4 437.5 874.6 442.8 874.8 C448.1 875.0 453.3 875.2 458.6 875.3 C463.9 875.5 469.1 875.7 474.4 875.9 C479.6 876.0 484.9 876.2 490.2 876.4 C495.4 876.5 500.7 876.7 505.9 876.8 C511.2 877.0 516.5 877.1 521.7 877.3 C527.0 877.4 532.3 877.5 537.5 877.6 C542.8 877.7 548.0 877.8 553.3 877.9 C558.6 878.0 563.8 878.1 569.1 878.2 C574.4 878.3 579.6 878.4 584.9 878.5 C590.1 878.6 595.4 878.6 600.7 878.7 C605.9 878.8 611.2 878.8 616.4 878.9 C621.7 879.0 627.0 879.0 632.2 879.1 C637.5 879.1 642.8 879.2 648.0 879.3 C653.3 879.4 658.5 879.5 663.8 879.6 C669.1 879.7 674.3 879.9 679.6 880.1 C684.9 880.3 690.1 880.6 695.4 880.9 C700.6 881.3 705.9 881.7 711.2 882.2 C716.4 882.7 721.7 883.2 726.9 884.0 C732.2 884.7 737.5 885.7 742.7 886.9 C748.0 888.1 753.3 889.5 758.5 891.3 C763.8 893.2 769.0 895.4 774.3 898.2 C779.6 901.0 784.8 904.4 790.1 908.4 C795.3 912.4 800.6 917.1 805.9 922.4 C811.1 927.6 816.4 933.5 821.7 939.9 C826.9 946.3 832.2 953.2 837.4 960.6 C842.7 967.9 848.0 975.7 853.2 983.7 C858.5 991.7 863.8 1000.0 869.0 1008.4 C874.3 1016.9 879.5 1025.4 884.8 1034.0" stroke="#ccffcc" stroke-width="3.3"/>
<path d="M127.1 1009.9 C132.4 1000.5 137.6 991.1 142.9 982.1 C148.1 973.1 153.4 964.4 158.7 956.4 C163.9 948.5 169.2 941.2 174.5 934.5 C179.7 927.8 185.0 921.8 190.2 916.5 C195.5 911.2 200.8 906.5 206.0 902.4 C211.3 898.3 216.6 894.9 221.8 892.0 C227.1 889.1 232.3 886.8 237.6 884.9 C242.9 883.0 248.1 881.5 253.4 880.3 C258.6 879.1 263.9 878.2 269.2 877.5 C274.4 876.8 279.7 876.3 285.0 875.9 C290.2 875.5 295.5 875.3 300.7 875.2 C306.0 875.0 311.3 875.0 316.5 874.9 C321.8 874.9 327.0 874.9 332.3 875.0 C337.6 875.0 342.8 875.1 348.1 875.3 C353.4 875.4 358.6 875.6 363.9 875.7 C369.1 875.9 374.4 876.1 379.7 876.3 C384.9 876.5 390.2 876.8 395.5 877.0 C400.7 877.2 406.0 877.4 411.2 877.6 C416.5 877.9 421.8 878.1 427.0 878.3 C432.3 878.5 437.5 878.7 442.8 878.8 C448.1 879.0 453.3 879.2 458.6 879.4 C463.9 879.5 469.1 879.7 474.4 879.8 C479.6 880.0 484.9 880.2 490.2 880.3 C495.4 880.5 500.7 880.6 505.9 880.8 C511.2 881.0 516.5 881.1 521.7 881.3 C527.0 881.5 532.3 881.7 537.5 881.8 C542.8 882.0 548.0 882.2 553.3 882.3 C558.6 882.5 563.8 882.7 569.1 882.8 C574.4 883.0 579.6 883.1 584.9 883.2 C590.1 883.4 595.4 883.5 600.7 883.6 C605.9 883.7 611.2 883.8 616.4 883.9 C621.7 884.0 627.0 884.0 632.2 884.1 C637.5 884.1 642.8 884.1 648.0 884.2 C653.3 884.2 658.5 884.3 663.8 884.4 C669.1 884.5 674.3 884.7 679.6 884.9 C684.9 885.1 690.1 885.4 695.4 885.8 C700.6 886.2 705.9 886.6 711.2 887.2 C716.4 887.8 721.7 888.5 726.9 889.4 C732.2 890.3 737.5 891.4 742.7 892.7 C748.0 894.0 753.3 895.5 758.5 897.4 C763.8 899.2 769.0 901.4 774.3 904.2 C779.6 907.0 784.8 910.4 790.1 914.5 C795.3 918.5 800.6 923.2 805.9 928.4 C811.1 933.5 816.4 939.2 821.7 945.4 C826.9 951.6 832.2 958.3 837.4 965.6 C842.7 972.9 848.0 980.7 853.2 988.7 C858.5 996.8 863.8 1005.0 869.0 1013.2 C874.3 1021.5 879.5 1029.7 884.8 1038.0" stroke="#ccffcc" stroke-width="3.3"/>
<path d="M127.1 1112.2 C132.4 1105.2 137.6 1098.1 142.9 1090.6 C148.1 1083.0 153.4 1074.7 158.7 1065.7 C163.9 1056.7 169.2 1047.2 174.5 1037.8 C179.7 1028.4 185.0 1019.0 190.2 1010.2 C195.5 1001.4 200.8 993.0 206.0 985.4 C211.3 977.8 216.6 970.9 221.8 964.1 C227.1 957.3 232.3 950.6 237.6 944.1 C242.9 937.6 248.1 931.2 253.4 925.3 C258.6 919.3 263.9 913.8 269.2 909.2 C274.4 904.5 279.7 900.9 285.0 898.1 C290.2 895.3 295.5 893.3 300.7 891.7 C306.0 890.0 311.3 888.7 316.5 887.7 C321.8 886.6 327.0 885.8 332.3 885.3 C337.6 884.7 342.8 884.4 348.1 884.2 C353.4 884.1 358.6 884.0 363.9 884.1 C369.1 884.2 374.4 884.3 379.7 884.5 C384.9 884.6 390.2 884.8 395.5 884.9 C400.7 885.0 406.0 885.2 411.2 885.3 C416.5 885.4 421.8 885.5 427.0 885.7 C432.3 885.8 437.5 885.9 442.8 886.0 C448.1 886.1 453.3 886.2 458.6 886.3 C463.9 886.4 469.1 886.5 474.4 886.5 C479.6 886.6 484.9 886.7 490.2 886.8 C495.4 886.8 500.7 886.9 505.9 886.9 C511.2 887.0 516.5 887.0 521.7 887.1 C527.0 887.1 532.3 887.2 537.5 887.2 C542.8 887.2 548.0 887.3 553.3 887.3 C558.6 887.4 563.8 887.4 569.1 887.5 C574.4 887.6 579.6 887.7 584.9 887.8 C590.1 887.9 595.4 888.0 600.7 888.1 C605.9 888.3 611.2 888.5 616.4 888.7 C621.7 888.9 627.0 889.1 632.2 889.3 C637.5 889.6 642.8 889.9 648.0 890.2 C653.3 890.6 658.5 890.9 663.8 891.3 C669.1 891.7 674.3 892.1 679.6 892.6 C684.9 893.1 690.1 893.6 695.4 894.1 C700.6 894.6 705.9 895.2 711.2 895.8 C716.4 896.4 721.7 897.0 726.9 897.9 C732.2 898.7 737.5 899.6 742.7 900.8 C748.0 902.1 753.3 903.5 758.5 905.4 C763.8 907.2 769.0 909.5 774.3 912.2 C779.6 915.0 784.8 918.3 790.1 922.1 C795.3 926.0 800.6 930.4 805.9 935.4 C811.1 940.4 816.4 945.9 821.7 952.1 C826.9 958.3 832.2 965.2 837.4 972.8 C842.7 980.5 848.0 988.8 853.2 997.4 C858.5 1006.1 863.8 1014.9 869.0 1023.7 C874.3 1032.5 879.5 1041.3 884.8 1050.1" stroke="#ccccff" stroke-width="3.3"/>
<path d="M127.1 1079.0 C132.4 1070.6 137.6 1062.2 142.9 1053.6 C148.1 1045.1 153.4 1036.4 158.7 1027.4 C163.9 1018.4 169.2 1008.9 174.5 999.5 C179.7 990.1 185.0 980.9 190.2 972.3 C195.5 963.7 200.8 955.8 206.0 949.2 C211.3 942.7 216.6 937.3 221.8 932.9 C227.1 928.4 232.3 924.7 237.6 921.6 C242.9 918.4 248.1 915.6 253.4 913.0 C258.6 910.4 263.9 908.0 269.2 905.8 C274.4 903.6 279.7 901.6 285.0 899.7 C290.2 897.9 295.5 896.3 300.7 894.8 C306.0 893.4 311.3 892.1 316.5 890.8 C321.8 889.6 327.0 888.4 332.3 887.2 C337.6 886.1 342.8 884.9 348.1 883.7 C353.4 882.4 358.6 881.1 363.9 879.8 C369.1 878.4 374.4 877.1 379.7 875.8 C384.9 874.5 390.2 873.2 395.5 872.0 C400.7 870.8 406.0 869.8 411.2 868.7 C416.5 867.7 421.8 866.8 427.0 865.9 C432.3 865.1 437.5 864.2 442.8 863.4 C448.1 862.6 453.3 861.8 458.6 861.0 C463.9 860.2 469.1 859.4 474.4 858.6 C479.6 857.8 484.9 856.9 490.2 856.0 C495.4 855.0 500.7 854.1 505.9 853.0 C511.2 852.0 516.5 850.9 521.7 849.8 C527.0 848.7 532.3 847.6 537.5 846.4 C542.8 845.3 548.0 844.1 553.3 842.9 C558.6 841.6 563.8 840.4 569.1 839.2 C574.4 837.9 579.6 836.7 584.9 835.5 C590.1 834.3 595.4 833.1 600.7 832.0 C605.9 831.0 611.2 830.0 616.4 829.2 C621.7 828.4 627.0 827.7 632.2 827.2 C637.5 826.7 642.8 826.5 648.0 826.5 C653.3 826.4 658.5 826.5 663.8 826.8 C669.1 827.1 674.3 827.5 679.6 827.9 C684.9 828.4 690.1 828.9 695.4 829.5 C700.6 830.0 705.9 830.5 711.2 831.0 C716.4 831.5 721.7 831.9 726.9 832.5 C732.2 833.1 737.5 833.8 742.7 834.7 C748.0 835.7 753.3 836.9 758.5 838.5 C763.8 840.1 769.0 842.1 774.3 844.6 C779.6 847.1 784.8 850.1 790.1 853.7 C795.3 857.3 800.6 861.5 805.9 866.5 C811.1 871.6 816.4 877.5 821.7 884.5 C826.9 891.5 832.2 899.7 837.4 908.9 C842.7 918.1 848.0 928.4 853.2 939.6 C858.5 950.7 863.8 962.8 869.0 975.2 C874.3 987.7 879.5 1000.6 884.8 1013.5" stroke="#ccccff" stroke-width="3.3"/>
<path d="M127.1 1061.8 C132.4 1053.4 137.6 1045.0 142.9 1036.7 C148.1 1028.4 153.4 1020.1 158.7 1012.0 C163.9 1003.9 169.2 995.9 174.5 988.2 C179.7 980.5 185.0 973.1 190.2 966.2 C195.5 959.3 200.8 952.8 206.0 946.9 C211.3 941.1 216.6 935.7 221.8 930.9 C227.1 926.1 232.3 921.9 237.6 918.2 C242.9 914.5 248.1 911.3 253.4 908.6 C258.6 905.9 263.9 903.6 269.2 901.7 C274.4 899.7 279.7 898.0 285.0 896.5 C290.2 895.1 295.5 893.8 300.7 892.7 C306.0 891.6 311.3 890.7 316.5 889.9 C321.8 889.1 327.0 888.3 332.3 887.7 C337.6 887.1 342.8 886.5 348.1 885.9 C353.4 885.4 358.6 884.9 363.9 884.5 C369.1 884.1 374.4 883.7 379.7 883.3 C384.9 882.9 390.2 882.6 395.5 882.3 C400.7 882.0 406.0 881.6 411.2 881.3 C416.5 881.0 421.8 880.7 427.0 880.4 C432.3 880.1 437.5 879.7 442.8 879.3 C448.1 879.0 453.3 878.6 458.6 878.1 C463.9 877.7 469.1 877.2 474.4 876.6 C479.6 876.1 484.9 875.4 490.2 874.7 C495.4 874.0 500.7 873.2 505.9 872.2 C511.2 871.3 516.5 870.2 521.7 869.0 C527.0 867.8 532.3 866.5 537.5 865.1 C542.8 863.7 548.0 862.3 553.3 860.8 C558.6 859.3 563.8 857.9 569.1 856.4 C574.4 854.9 579.6 853.5 584.9 852.1 C590.1 850.8 595.4 849.5 600.7 848.3 C605.9 847.1 611.2 846.0 616.4 845.0 C621.7 844.0 627.0 843.1 632.2 842.3 C637.5 841.5 642.8 840.7 648.0 840.0 C653.3 839.3 658.5 838.7 663.8 838.1 C669.1 837.6 674.3 837.1 679.6 836.6 C684.9 836.1 690.1 835.7 695.4 835.4 C700.6 835.1 705.9 834.9 711.2 834.8 C716.4 834.8 721.7 835.0 726.9 835.4 C732.2 835.8 737.5 836.4 742.7 837.4 C748.0 838.4 753.3 839.7 758.5 841.4 C763.8 843.1 769.0 845.2 774.3 847.9 C779.6 850.5 784.8 853.6 790.1 857.3 C795.3 861.1 800.6 865.6 805.9 871.0 C811.1 876.4 816.4 882.7 821.7 890.2 C826.9 897.7 832.2 906.3 837.4 915.8 C842.7 925.3 848.0 935.7 853.2 946.6 C858.5 957.5 863.8 968.9 869.0 980.6 C874.3 992.4 879.5 1004.3 884.8 1016.3" stroke="#ccccff" stroke-width="3.3"/>
<path d="M127.1 1029.9 C132.4 1020.7 137.6 1011.5 142.9 1002.6 C148.1 993.8 153.4 985.2 158.7 977.2 C163.9 969.2 169.2 961.8 174.5 954.9 C179.7 948.0 185.0 941.5 190.2 935.4 C195.5 929.3 200.8 923.4 206.0 917.9 C211.3 912.3 216.6 907.1 221.8 902.2 C227.1 897.4 232.3 893.0 237.6 889.0 C242.9 885.0 248.1 881.4 253.4 878.0 C258.6 874.6 263.9 871.5 269.2 868.4 C274.4 865.3 279.7 862.3 285.0 859.5 C290.2 856.7 295.5 854.1 300.7 851.8 C306.0 849.4 311.3 847.4 316.5 845.8 C321.8 844.3 327.0 843.1 332.3 842.3 C337.6 841.5 342.8 841.1 348.1 840.8 C353.4 840.6 358.6 840.6 363.9 840.6 C369.1 840.7 374.4 840.9 379.7 841.1 C384.9 841.3 390.2 841.5 395.5 841.9 C400.7 842.3 406.0 842.8 411.2 843.5 C416.5 844.2 421.8 845.1 427.0 846.0 C432.3 846.8 437.5 847.8 442.8 848.7 C448.1 849.6 453.3 850.5 458.6 851.3 C463.9 852.2 469.1 853.1 474.4 854.1 C479.6 855.2 484.9 856.4 490.2 857.9 C495.4 859.3 500.7 860.9 505.9 862.3 C511.2 863.7 516.5 864.8 521.7 865.6 C527.0 866.4 532.3 866.9 537.5 867.2 C542.8 867.6 548.0 867.8 553.3 867.9 C558.6 868.0 563.8 868.1 569.1 868.2 C574.4 868.3 579.6 868.4 584.9 868.4 C590.1 868.5 595.4 868.6 600.7 868.7 C605.9 868.7 611.2 868.8 616.4 868.9 C621.7 868.9 627.0 869.0 632.2 869.1 C637.5 869.2 642.8 869.3 648.0 869.4 C653.3 869.5 658.5 869.7 663.8 869.8 C669.1 870.0 674.3 870.2 679.6 870.4 C684.9 870.6 690.1 870.9 695.4 871.1 C700.6 871.4 705.9 871.7 711.2 872.1 C716.4 872.5 721.7 872.9 726.9 873.5 C732.2 874.1 737.5 874.9 742.7 876.0 C748.0 877.1 753.3 878.5 758.5 880.3 C763.8 882.2 769.0 884.4 774.3 887.2 C779.6 889.9 784.8 893.2 790.1 897.1 C795.3 900.9 800.6 905.4 805.9 910.4 C811.1 915.5 816.4 921.1 821.7 927.5 C826.9 933.9 832.2 941.0 837.4 948.9 C842.7 956.7 848.0 965.4 853.2 974.4 C858.5 983.5 863.8 993.0 869.0 1002.6 C874.3 1012.3 879.5 1022.1 884.8 1031.9" stroke="#ccccff" stroke-width="3.3"/>
<path d="M127.1 1040.0 C132.4 1032.1 137.6 1024.3 142.9 1016.6 C148.1 1008.9 153.4 1001.3 158.7 993.9 C163.9 986.4 169.2 979.3 174.5 972.3 C179.7 965.3 185.0 958.6 190.2 952.0 C195.5 945.4 200.8 939.0 206.0 932.7 C211.3 926.4 216.6 920.3 221.8 914.3 C227.1 908.4 232.3 902.7 237.6 897.2 C242.9 891.8 248.1 886.6 253.4 882.0 C258.6 877.4 263.9 873.4 269.2 870.0 C274.4 866.6 279.7 863.7 285.0 861.3 C290.2 858.8 295.5 856.6 300.7 854.6 C306.0 852.6 311.3 850.8 316.5 849.1 C321.8 847.5 327.0 846.1 332.3 844.9 C337.6 843.8 342.8 842.9 348.1 842.3 C353.4 841.7 358.6 841.5 363.9 841.5 C369.1 841.5 374.4 841.7 379.7 842.1 C384.9 842.6 390.2 843.2 395.5 843.9 C400.7 844.6 406.0 845.5 411.2 846.4 C416.5 847.3 421.8 848.3 427.0 849.3 C432.3 850.2 437.5 851.2 442.8 852.3 C448.1 853.4 453.3 854.5 458.6 855.7 C463.9 856.9 469.1 858.1 474.4 859.5 C479.6 860.8 484.9 862.3 490.2 863.9 C495.4 865.4 500.7 867.0 505.9 868.3 C511.2 869.7 516.5 870.9 521.7 871.7 C527.0 872.6 532.3 873.3 537.5 873.7 C542.8 874.1 548.0 874.4 553.3 874.4 C558.6 874.5 563.8 874.5 569.1 874.3 C574.4 874.2 579.6 873.9 584.9 873.6 C590.1 873.3 595.4 872.9 600.7 872.5 C605.9 872.2 611.2 871.8 616.4 871.5 C621.7 871.2 627.0 870.9 632.2 870.7 C637.5 870.5 642.8 870.4 648.0 870.4 C653.3 870.3 658.5 870.4 663.8 870.4 C669.1 870.5 674.3 870.7 679.6 870.9 C684.9 871.2 690.1 871.5 695.4 871.9 C700.6 872.2 705.9 872.7 711.2 873.2 C716.4 873.7 721.7 874.3 726.9 875.0 C732.2 875.8 737.5 876.7 742.7 877.9 C748.0 879.1 753.3 880.5 758.5 882.3 C763.8 884.1 769.0 886.4 774.3 889.2 C779.6 892.0 784.8 895.4 790.1 899.4 C795.3 903.5 800.6 908.1 805.9 913.3 C811.1 918.5 816.4 924.2 821.7 930.6 C826.9 937.0 832.2 944.0 837.4 951.9 C842.7 959.7 848.0 968.4 853.2 977.4 C858.5 986.5 863.8 996.0 869.0 1005.6 C874.3 1015.3 879.5 1025.1 884.8 1034.9" stroke="#ccccff" stroke-width="3.3"/>
<path d="M127.1 1022.6 C132.4 1013.4 137.6 1004.2 142.9 995.2 C148.1 986.2 153.4 977.5 158.7 969.1 C163.9 960.8 169.2 953.0 174.5 945.7 C179.7 938.5 185.0 931.9 190.2 926.1 C195.5 920.2 200.8 915.1 206.0 910.6 C211.3 906.1 216.6 902.2 221.8 898.8 C227.1 895.4 232.3 892.4 237.6 890.0 C242.9 887.5 248.1 885.5 253.4 883.8 C258.6 882.2 263.9 881.0 269.2 880.2 C274.4 879.3 279.7 878.8 285.0 878.4 C290.2 878.1 295.5 878.0 300.7 877.9 C306.0 877.9 311.3 878.0 316.5 878.0 C321.8 878.1 327.0 878.2 332.3 878.3 C337.6 878.4 342.8 878.5 348.1 878.6 C353.4 878.7 358.6 878.9 363.9 879.0 C369.1 879.2 374.4 879.3 379.7 879.5 C384.9 879.6 390.2 879.8 395.5 879.9 C400.7 880.0 406.0 880.1 411.2 880.3 C416.5 880.4 421.8 880.5 427.0 880.6 C432.3 880.7 437.5 880.8 442.8 880.8 C448.1 880.9 453.3 881.0 458.6 881.1 C463.9 881.2 469.1 881.3 474.4 881.4 C479.6 881.4 484.9 881.5 490.2 881.6 C495.4 881.7 500.7 881.8 505.9 881.9 C511.2 882.0 516.5 882.1 521.7 882.2 C527.0 882.3 532.3 882.4 537.5 882.5 C542.8 882.7 548.0 882.8 553.3 882.9 C558.6 883.0 563.8 883.1 569.1 883.2 C574.4 883.3 579.6 883.4 584.9 883.5 C590.1 883.6 595.4 883.7 600.7 883.8 C605.9 883.9 611.2 883.9 616.4 883.9 C621.7 884.0 627.0 884.0 632.2 884.0 C637.5 884.0 642.8 884.0 648.0 884.0 C653.3 884.0 658.5 884.0 663.8 884.1 C669.1 884.2 674.3 884.3 679.6 884.4 C684.9 884.5 690.1 884.8 695.4 885.0 C700.6 885.3 705.9 885.7 711.2 886.2 C716.4 886.6 721.7 887.2 726.9 887.9 C732.2 888.7 737.5 889.6 742.7 890.8 C748.0 892.1 753.3 893.5 758.5 895.3 C763.8 897.2 769.0 899.4 774.3 902.2 C779.6 905.0 784.8 908.4 790.1 912.4 C795.3 916.5 800.6 921.1 805.9 926.4 C811.1 931.6 816.4 937.4 821.7 943.8 C826.9 950.2 832.2 957.1 837.4 964.6 C842.7 972.1 848.0 980.1 853.2 988.6 C858.5 997.1 863.8 1006.1 869.0 1015.4 C874.3 1024.7 879.5 1034.3 884.8 1043.9" stroke="#ccccff" stroke-width="3.3"/>
<path d="M127.1 1048.3 C132.4 1040.4 137.6 1032.5 142.9 1024.7 C148.1 1016.9 153.4 1009.3 158.7 1001.9 C163.9 994.5 169.2 987.3 174.5 980.5 C179.7 973.6 185.0 967.0 190.2 960.6 C195.5 954.3 200.8 948.2 206.0 942.5 C211.3 936.8 216.6 931.4 221.8 926.5 C227.1 921.5 232.3 917.0 237.6 913.0 C242.9 909.0 248.1 905.6 253.4 902.6 C258.6 899.6 263.9 897.1 269.2 895.1 C274.4 893.1 279.7 891.5 285.0 890.4 C290.2 889.2 295.5 888.4 300.7 887.9 C306.0 887.4 311.3 887.2 316.5 887.0 C321.8 886.9 327.0 886.9 332.3 887.0 C337.6 887.0 342.8 887.1 348.1 887.1 C353.4 887.2 358.6 887.3 363.9 887.5 C369.1 887.6 374.4 887.7 379.7 887.8 C384.9 888.0 390.2 888.1 395.5 888.3 C400.7 888.4 406.0 888.6 411.2 888.8 C416.5 888.9 421.8 889.0 427.0 889.2 C432.3 889.3 437.5 889.4 442.8 889.6 C448.1 889.7 453.3 889.8 458.6 889.9 C463.9 890.0 469.1 890.1 474.4 890.2 C479.6 890.4 484.9 890.5 490.2 890.6 C495.4 890.7 500.7 890.8 505.9 890.9 C511.2 891.0 516.5 891.1 521.7 891.2 C527.0 891.3 532.3 891.4 537.5 891.5 C542.8 891.6 548.0 891.8 553.3 891.9 C558.6 892.0 563.8 892.1 569.1 892.2 C574.4 892.3 579.6 892.4 584.9 892.5 C590.1 892.6 595.4 892.6 600.7 892.7 C605.9 892.8 611.2 892.9 616.4 892.9 C621.7 893.0 627.0 893.0 632.2 893.0 C637.5 893.1 642.8 893.1 648.0 893.2 C653.3 893.2 658.5 893.3 663.8 893.4 C669.1 893.5 674.3 893.6 679.6 893.8 C684.9 894.0 690.1 894.2 695.4 894.6 C700.6 894.9 705.9 895.3 711.2 895.7 C716.4 896.2 721.7 896.8 726.9 897.6 C732.2 898.4 737.5 899.4 742.7 900.7 C748.0 902.0 753.3 903.6 758.5 905.6 C763.8 907.6 769.0 910.0 774.3 913.0 C779.6 916.0 784.8 919.5 790.1 923.6 C795.3 927.6 800.6 932.2 805.9 937.4 C811.1 942.5 816.4 948.1 821.7 954.3 C826.9 960.5 832.2 967.3 837.4 974.6 C842.7 982.0 848.0 989.9 853.2 998.2 C858.5 1006.4 863.8 1015.0 869.0 1023.7 C874.3 1032.4 879.5 1041.2 884.8 1050.0" stroke="#ccccff" stroke-width="3.3"/>
<path d="M127.1 1012.8 C132.4 1003.4 137.6 994.0 142.9 985.0 C148.1 976.0 153.4 967.4 158.7 959.6 C163.9 951.7 169.2 944.5 174.5 937.8 C179.7 931.0 185.0 924.8 190.2 919.0 C195.5 913.2 200.8 907.8 206.0 902.9 C211.3 898.0 216.6 893.6 221.8 889.7 C227.1 885.7 232.3 882.3 237.6 879.3 C242.9 876.3 248.1 873.7 253.4 871.6 C258.6 869.5 263.9 867.8 269.2 866.4 C274.4 865.0 279.7 863.8 285.0 862.9 C290.2 861.9 295.5 861.0 300.7 860.3 C306.0 859.6 311.3 858.9 316.5 858.4 C321.8 857.8 327.0 857.3 332.3 856.9 C337.6 856.5 342.8 856.2 348.1 855.9 C353.4 855.6 358.6 855.4 363.9 855.3 C369.1 855.1 374.4 855.0 379.7 854.9 C384.9 854.9 390.2 854.9 395.5 854.9 C400.7 855.0 406.0 855.1 411.2 855.3 C416.5 855.5 421.8 855.7 427.0 856.1 C432.3 856.4 437.5 856.8 442.8 857.3 C448.1 857.8 453.3 858.4 458.6 859.0 C463.9 859.7 469.1 860.4 474.4 861.1 C479.6 861.9 484.9 862.6 490.2 863.3 C495.4 864.0 500.7 864.7 505.9 865.3 C511.2 865.9 516.5 866.4 521.7 866.8 C527.0 867.2 532.3 867.5 537.5 867.7 C542.8 867.9 548.0 868.1 553.3 868.2 C558.6 868.3 563.8 868.3 569.1 868.4 C574.4 868.4 579.6 868.3 584.9 868.3 C590.1 868.3 595.4 868.2 600.7 868.2 C605.9 868.1 611.2 868.1 616.4 868.0 C621.7 868.0 627.0 868.0 632.2 868.0 C637.5 868.1 642.8 868.1 648.0 868.2 C653.3 868.3 658.5 868.5 663.8 868.6 C669.1 868.8 674.3 869.0 679.6 869.3 C684.9 869.5 690.1 869.8 695.4 870.1 C700.6 870.4 705.9 870.7 711.2 871.1 C716.4 871.5 721.7 871.9 726.9 872.5 C732.2 873.2 737.5 873.9 742.7 875.0 C748.0 876.1 753.3 877.5 758.5 879.3 C763.8 881.1 769.0 883.3 774.3 886.1 C779.6 889.0 784.8 892.4 790.1 896.5 C795.3 900.5 800.6 905.1 805.9 910.3 C811.1 915.5 816.4 921.2 821.7 927.5 C826.9 933.9 832.2 941.0 837.4 948.9 C842.7 956.8 848.0 965.5 853.2 974.8 C858.5 984.1 863.8 994.0 869.0 1004.3 C874.3 1014.6 879.5 1025.2 884.8 1035.9" stroke="#ccccff" stroke-width="3.3"/>
<path d="M127.1 988.9 C132.4 979.1 137.6 969.3 142.9 959.9 C148.1 950.4 153.4 941.4 158.7 933.1 C163.9 924.8 169.2 917.2 174.5 910.5 C179.7 903.8 185.0 898.1 190.2 893.3 C195.5 888.5 200.8 884.6 206.0 881.6 C211.3 878.6 216.6 876.5 221.8 875.0 C227.1 873.5 232.3 872.7 237.6 872.2 C242.9 871.8 248.1 871.9 253.4 872.1 C258.6 872.3 263.9 872.7 269.2 873.1 C274.4 873.5 279.7 873.9 285.0 874.2 C290.2 874.6 295.5 874.9 300.7 875.3 C306.0 875.6 311.3 875.9 316.5 876.2 C321.8 876.5 327.0 876.8 332.3 877.1 C337.6 877.4 342.8 877.6 348.1 877.9 C353.4 878.1 358.6 878.3 363.9 878.6 C369.1 878.8 374.4 879.0 379.7 879.2 C384.9 879.4 390.2 879.6 395.5 879.8 C400.7 880.0 406.0 880.2 411.2 880.4 C416.5 880.6 421.8 880.8 427.0 881.0 C432.3 881.2 437.5 881.4 442.8 881.6 C448.1 881.8 453.3 882.0 458.6 882.2 C463.9 882.4 469.1 882.6 474.4 882.9 C479.6 883.1 484.9 883.3 490.2 883.5 C495.4 883.7 500.7 883.9 505.9 884.1 C511.2 884.3 516.5 884.4 521.7 884.6 C527.0 884.8 532.3 885.0 537.5 885.1 C542.8 885.3 548.0 885.5 553.3 885.6 C558.6 885.7 563.8 885.9 569.1 886.0 C574.4 886.2 579.6 886.3 584.9 886.4 C590.1 886.5 595.4 886.6 600.7 886.7 C605.9 886.8 611.2 886.9 616.4 887.0 C621.7 887.1 627.0 887.1 632.2 887.2 C637.5 887.3 642.8 887.3 648.0 887.4 C653.3 887.5 658.5 887.6 663.8 887.7 C669.1 887.8 674.3 888.0 679.6 888.2 C684.9 888.4 690.1 888.6 695.4 888.9 C700.6 889.2 705.9 889.6 711.2 890.0 C716.4 890.5 721.7 891.0 726.9 891.8 C732.2 892.5 737.5 893.4 742.7 894.7 C748.0 895.9 753.3 897.5 758.5 899.5 C763.8 901.4 769.0 903.8 774.3 906.7 C779.6 909.5 784.8 912.9 790.1 916.9 C795.3 920.9 800.6 925.4 805.9 930.5 C811.1 935.7 816.4 941.4 821.7 947.8 C826.9 954.1 832.2 961.1 837.4 968.5 C842.7 976.0 848.0 983.9 853.2 991.9 C858.5 999.9 863.8 1008.0 869.0 1015.8 C874.3 1023.6 879.5 1031.3 884.8 1038.9" stroke="#ff0000" stroke-width="3.9"/>
<path d="M127.1 1007.3 C132.4 997.1 137.6 986.9 142.9 977.2 C148.1 967.5 153.4 958.3 158.7 950.0 C163.9 941.6 169.2 934.1 174.5 927.5 C179.7 920.9 185.0 915.4 190.2 910.6 C195.5 905.8 200.8 901.9 206.0 898.4 C211.3 895.0 216.6 892.1 221.8 889.7 C227.1 887.2 232.3 885.2 237.6 883.4 C242.9 881.7 248.1 880.4 253.4 879.3 C258.6 878.2 263.9 877.4 269.2 876.9 C274.4 876.4 279.7 876.1 285.0 876.0 C290.2 875.8 295.5 875.8 300.7 875.9 C306.0 876.0 311.3 876.2 316.5 876.3 C321.8 876.5 327.0 876.6 332.3 876.7 C337.6 876.8 342.8 876.9 348.1 877.0 C353.4 877.0 358.6 877.1 363.9 877.2 C369.1 877.2 374.4 877.3 379.7 877.3 C384.9 877.4 390.2 877.4 395.5 877.5 C400.7 877.5 406.0 877.6 411.2 877.7 C416.5 877.7 421.8 877.8 427.0 877.9 C432.3 878.0 437.5 878.2 442.8 878.3 C448.1 878.4 453.3 878.5 458.6 878.7 C463.9 878.8 469.1 879.0 474.4 879.1 C479.6 879.3 484.9 879.4 490.2 879.5 C495.4 879.7 500.7 879.8 505.9 879.9 C511.2 880.1 516.5 880.2 521.7 880.3 C527.0 880.4 532.3 880.5 537.5 880.6 C542.8 880.7 548.0 880.8 553.3 880.8 C558.6 880.9 563.8 881.0 569.1 881.0 C574.4 881.1 579.6 881.1 584.9 881.2 C590.1 881.2 595.4 881.3 600.7 881.3 C605.9 881.4 611.2 881.4 616.4 881.4 C621.7 881.5 627.0 881.5 632.2 881.5 C637.5 881.6 642.8 881.6 648.0 881.7 C653.3 881.7 658.5 881.8 663.8 881.9 C669.1 882.0 674.3 882.1 679.6 882.3 C684.9 882.5 690.1 882.7 695.4 882.9 C700.6 883.2 705.9 883.5 711.2 883.9 C716.4 884.3 721.7 884.8 726.9 885.4 C732.2 886.0 737.5 886.8 742.7 887.9 C748.0 889.0 753.3 890.3 758.5 892.0 C763.8 893.7 769.0 895.8 774.3 898.5 C779.6 901.2 784.8 904.5 790.1 908.4 C795.3 912.3 800.6 916.9 805.9 922.1 C811.1 927.3 816.4 933.1 821.7 939.4 C826.9 945.8 832.2 952.6 837.4 959.9 C842.7 967.2 848.0 974.9 853.2 983.0 C858.5 991.1 863.8 999.7 869.0 1008.6 C874.3 1017.5 879.5 1026.8 884.8 1036.0" stroke="#00ff00" stroke-width="3.9"/>
<path d="M127.1 1045.0 C132.4 1035.6 137.6 1026.2 142.9 1016.6 C148.1 1007.1 153.4 997.2 158.7 987.5 C163.9 977.9 169.2 968.4 174.5 959.7 C179.7 951.0 185.0 943.2 190.2 936.3 C195.5 929.4 200.8 923.3 206.0 918.0 C211.3 912.7 216.6 908.1 221.8 904.1 C227.1 900.1 232.3 896.7 237.6 893.6 C242.9 890.6 248.1 887.9 253.4 885.6 C258.6 883.2 263.9 881.2 269.2 879.4 C274.4 877.6 279.7 876.1 285.0 874.8 C290.2 873.5 295.5 872.5 300.7 871.6 C306.0 870.8 311.3 870.2 316.5 869.7 C321.8 869.2 327.0 868.8 332.3 868.5 C337.6 868.2 342.8 868.0 348.1 867.8 C353.4 867.6 358.6 867.4 363.9 867.3 C369.1 867.1 374.4 867.0 379.7 866.9 C384.9 866.8 390.2 866.7 395.5 866.6 C400.7 866.6 406.0 866.6 411.2 866.6 C416.5 866.6 421.8 866.6 427.0 866.7 C432.3 866.7 437.5 866.8 442.8 866.9 C448.1 867.0 453.3 867.1 458.6 867.2 C463.9 867.3 469.1 867.4 474.4 867.5 C479.6 867.6 484.9 867.7 490.2 867.7 C495.4 867.8 500.7 867.9 505.9 867.9 C511.2 868.0 516.5 868.0 521.7 868.0 C527.0 868.0 532.3 868.0 537.5 868.0 C542.8 868.0 548.0 867.9 553.3 867.9 C558.6 867.9 563.8 867.8 569.1 867.8 C574.4 867.7 579.6 867.7 584.9 867.6 C590.1 867.6 595.4 867.5 600.7 867.5 C605.9 867.5 611.2 867.5 616.4 867.5 C621.7 867.5 627.0 867.5 632.2 867.6 C637.5 867.6 642.8 867.7 648.0 867.8 C653.3 867.9 658.5 868.0 663.8 868.2 C669.1 868.3 674.3 868.5 679.6 868.7 C684.9 868.9 690.1 869.2 695.4 869.5 C700.6 869.7 705.9 870.0 711.2 870.4 C716.4 870.7 721.7 871.1 726.9 871.7 C732.2 872.3 737.5 873.0 742.7 874.0 C748.0 875.0 753.3 876.3 758.5 877.9 C763.8 879.6 769.0 881.7 774.3 884.4 C779.6 887.1 784.8 890.4 790.1 894.3 C795.3 898.3 800.6 902.8 805.9 907.9 C811.1 913.0 816.4 918.7 821.7 925.0 C826.9 931.3 832.2 938.3 837.4 946.1 C842.7 954.0 848.0 962.6 853.2 971.9 C858.5 981.2 863.8 991.1 869.0 1001.4 C874.3 1011.8 879.5 1022.5 884.8 1033.2" stroke="#0000ff" stroke-width="3.9"/>
</g>
<path d="M1012.6 780.1 L1012.6 1188.4 L1770.6 1188.4" fill="none" stroke="#000" stroke-width="1.7" stroke-linejoin="round"/>
<line x1="1202.1" y1="1188.4" x2="1202.1" y2="1180.9" stroke="#000" stroke-width="1.5"/>
<text x="1202.1" y="1226.4" font-size="31" text-anchor="middle">0.25</text>
<line x1="1391.6" y1="1188.4" x2="1391.6" y2="1180.9" stroke="#000" stroke-width="1.5"/>
<text x="1391.6" y="1226.4" font-size="31" text-anchor="middle">0.5</text>
<line x1="1581.1" y1="1188.4" x2="1581.1" y2="1180.9" stroke="#000" stroke-width="1.5"/>
<text x="1581.1" y="1226.4" font-size="31" text-anchor="middle">0.75</text>
<line x1="1770.6" y1="1188.4" x2="1770.6" y2="1180.9" stroke="#000" stroke-width="1.5"/>
<text x="1770.6" y="1226.4" font-size="31" text-anchor="middle">1</text>
<line x1="1012.6" y1="1188.4" x2="1020.1" y2="1188.4" stroke="#000" stroke-width="1.5"/>
<text x="1004.3" y="1199.7" font-size="31" text-anchor="end">0</text>
<line x1="1012.6" y1="1024.8" x2="1020.1" y2="1024.8" stroke="#000" stroke-width="1.5"/>
<text x="1004.3" y="1036.1" font-size="31" text-anchor="end">2</text>
<line x1="1012.6" y1="861.2" x2="1020.1" y2="861.2" stroke="#000" stroke-width="1.5"/>
<text x="1004.3" y="872.5" font-size="31" text-anchor="end">4</text>
<text x="1392.1" y="1262.4" font-size="31" text-anchor="middle">Facilitation Rate, f</text>
<clipPath id="clipBR"><rect x="1012.6" y="780.1" width="759.0" height="411.3"/></clipPath>
<g fill="none" stroke-linejoin="round" stroke-linecap="butt" clip-path="url(#clipBR)">
<path d="M1012.6 1167.8 C1017.9 1166.1 1023.1 1164.3 1028.4 1162.6 C1033.6 1160.9 1038.9 1159.2 1044.2 1157.4 C1049.4 1155.7 1054.7 1154.1 1059.9 1152.4 C1065.2 1150.7 1070.5 1149.1 1075.7 1147.5 C1081.0 1145.8 1086.2 1144.2 1091.5 1142.6 C1096.8 1141.0 1102.0 1139.4 1107.3 1137.7 C1112.5 1136.0 1117.8 1134.2 1123.1 1132.4 C1128.3 1130.6 1133.6 1128.6 1138.8 1126.6 C1144.1 1124.5 1149.4 1122.4 1154.6 1120.1 C1159.9 1117.9 1165.1 1115.6 1170.4 1113.3 C1175.7 1111.0 1180.9 1108.7 1186.2 1106.4 C1191.4 1104.1 1196.7 1101.9 1202.0 1099.6 C1207.2 1097.4 1212.5 1095.1 1217.7 1092.6 C1223.0 1090.1 1228.2 1087.4 1233.5 1084.8 C1238.8 1082.1 1244.0 1079.5 1249.3 1077.2 C1254.5 1074.8 1259.8 1072.7 1265.1 1070.8 C1270.3 1068.9 1275.6 1067.3 1280.8 1066.1 C1286.1 1064.8 1291.4 1063.9 1296.6 1063.2 C1301.9 1062.5 1307.1 1062.1 1312.4 1061.8 C1317.7 1061.5 1322.9 1061.5 1328.2 1061.5 C1333.4 1061.6 1338.7 1061.7 1344.0 1062.0 C1349.2 1062.3 1354.5 1062.7 1359.7 1063.2 C1365.0 1063.6 1370.3 1064.2 1375.5 1065.0 C1380.8 1065.7 1386.0 1066.5 1391.3 1067.5 C1396.6 1068.4 1401.8 1069.5 1407.1 1070.6 C1412.3 1071.8 1417.6 1073.0 1422.9 1074.3 C1428.1 1075.6 1433.4 1076.9 1438.6 1078.2 C1443.9 1079.6 1449.2 1080.9 1454.4 1082.2 C1459.7 1083.5 1464.9 1084.8 1470.2 1086.2 C1475.5 1087.5 1480.7 1088.8 1486.0 1090.2 C1491.2 1091.6 1496.5 1092.9 1501.8 1094.3 C1507.0 1095.7 1512.3 1097.1 1517.5 1098.5 C1522.8 1099.9 1528.1 1101.2 1533.3 1102.6 C1538.6 1103.9 1543.8 1105.2 1549.1 1106.4 C1554.4 1107.6 1559.6 1108.8 1564.9 1109.9 C1570.1 1111.1 1575.4 1112.2 1580.7 1113.2 C1585.9 1114.3 1591.2 1115.4 1596.4 1116.4 C1601.7 1117.5 1606.9 1118.5 1612.2 1119.5 C1617.5 1120.6 1622.7 1121.7 1628.0 1122.8 C1633.2 1123.8 1638.5 1125.0 1643.8 1126.1 C1649.0 1127.3 1654.3 1128.5 1659.5 1129.7 C1664.8 1130.9 1670.1 1132.2 1675.3 1133.6 C1680.6 1135.0 1685.8 1136.4 1691.1 1137.9 C1696.4 1139.4 1701.6 1141.0 1706.9 1142.6 C1712.1 1144.3 1717.4 1146.0 1722.7 1147.8 C1727.9 1149.6 1733.2 1151.5 1738.4 1153.4 C1743.7 1155.2 1749.0 1157.2 1754.2 1159.1 C1759.5 1161.1 1764.7 1163.0 1770.0 1165.0" stroke="#ffcccc" stroke-width="3.3"/>
<path d="M1012.6 1075.7 C1017.9 1067.9 1023.1 1060.1 1028.4 1052.7 C1033.6 1045.2 1038.9 1038.1 1044.2 1031.8 C1049.4 1025.5 1054.7 1020.0 1059.9 1015.8 C1065.2 1011.6 1070.5 1008.8 1075.7 1007.1 C1081.0 1005.3 1086.2 1004.7 1091.5 1004.8 C1096.8 1004.9 1102.0 1005.8 1107.3 1007.4 C1112.5 1008.9 1117.8 1011.0 1123.1 1013.3 C1128.3 1015.7 1133.6 1018.1 1138.8 1020.6 C1144.1 1023.1 1149.4 1025.6 1154.6 1028.2 C1159.9 1030.8 1165.1 1033.6 1170.4 1036.5 C1175.7 1039.4 1180.9 1042.4 1186.2 1045.4 C1191.4 1048.5 1196.7 1051.5 1202.0 1054.4 C1207.2 1057.3 1212.5 1060.0 1217.7 1062.5 C1223.0 1065.1 1228.2 1067.4 1233.5 1069.7 C1238.8 1071.9 1244.0 1074.1 1249.3 1076.1 C1254.5 1078.1 1259.8 1080.0 1265.1 1081.8 C1270.3 1083.6 1275.6 1085.3 1280.8 1087.0 C1286.1 1088.6 1291.4 1090.2 1296.6 1091.7 C1301.9 1093.1 1307.1 1094.5 1312.4 1095.9 C1317.7 1097.2 1322.9 1098.4 1328.2 1099.6 C1333.4 1100.8 1338.7 1101.9 1344.0 1102.9 C1349.2 1103.9 1354.5 1104.9 1359.7 1105.9 C1365.0 1106.8 1370.3 1107.7 1375.5 1108.5 C1380.8 1109.3 1386.0 1110.2 1391.3 1110.9 C1396.6 1111.7 1401.8 1112.5 1407.1 1113.2 C1412.3 1114.0 1417.6 1114.7 1422.9 1115.4 C1428.1 1116.1 1433.4 1116.9 1438.6 1117.6 C1443.9 1118.3 1449.2 1119.0 1454.4 1119.7 C1459.7 1120.4 1464.9 1121.0 1470.2 1121.7 C1475.5 1122.3 1480.7 1122.9 1486.0 1123.5 C1491.2 1124.1 1496.5 1124.7 1501.8 1125.3 C1507.0 1125.8 1512.3 1126.3 1517.5 1126.8 C1522.8 1127.3 1528.1 1127.8 1533.3 1128.3 C1538.6 1128.7 1543.8 1129.2 1549.1 1129.6 C1554.4 1130.1 1559.6 1130.5 1564.9 1130.9 C1570.1 1131.4 1575.4 1131.8 1580.7 1132.2 C1585.9 1132.6 1591.2 1133.1 1596.4 1133.5 C1601.7 1133.9 1606.9 1134.3 1612.2 1134.8 C1617.5 1135.2 1622.7 1135.7 1628.0 1136.2 C1633.2 1136.7 1638.5 1137.2 1643.8 1137.7 C1649.0 1138.3 1654.3 1138.9 1659.5 1139.6 C1664.8 1140.2 1670.1 1141.0 1675.3 1141.8 C1680.6 1142.6 1685.8 1143.5 1691.1 1144.5 C1696.4 1145.6 1701.6 1146.7 1706.9 1147.9 C1712.1 1149.2 1717.4 1150.5 1722.7 1151.9 C1727.9 1153.3 1733.2 1154.8 1738.4 1156.3 C1743.7 1157.9 1749.0 1159.5 1754.2 1161.1 C1759.5 1162.7 1764.7 1164.3 1770.0 1166.0" stroke="#ffcccc" stroke-width="3.3"/>
<path d="M1012.6 1079.8 C1017.9 1072.8 1023.1 1065.8 1028.4 1059.1 C1033.6 1052.3 1038.9 1045.8 1044.2 1039.8 C1049.4 1033.9 1054.7 1028.5 1059.9 1024.3 C1065.2 1020.0 1070.5 1017.1 1075.7 1015.3 C1081.0 1013.6 1086.2 1013.0 1091.5 1013.4 C1096.8 1013.8 1102.0 1015.1 1107.3 1016.9 C1112.5 1018.7 1117.8 1021.1 1123.1 1023.7 C1128.3 1026.3 1133.6 1029.1 1138.8 1031.9 C1144.1 1034.7 1149.4 1037.5 1154.6 1040.2 C1159.9 1042.9 1165.1 1045.6 1170.4 1048.0 C1175.7 1050.4 1180.9 1052.6 1186.2 1054.7 C1191.4 1056.8 1196.7 1058.8 1202.0 1060.9 C1207.2 1063.1 1212.5 1065.2 1217.7 1067.5 C1223.0 1069.7 1228.2 1072.0 1233.5 1074.2 C1238.8 1076.4 1244.0 1078.6 1249.3 1080.8 C1254.5 1082.9 1259.8 1084.9 1265.1 1086.8 C1270.3 1088.7 1275.6 1090.4 1280.8 1092.1 C1286.1 1093.7 1291.4 1095.3 1296.6 1096.7 C1301.9 1098.2 1307.1 1099.6 1312.4 1100.9 C1317.7 1102.2 1322.9 1103.4 1328.2 1104.6 C1333.4 1105.8 1338.7 1106.9 1344.0 1108.0 C1349.2 1109.1 1354.5 1110.2 1359.7 1111.2 C1365.0 1112.2 1370.3 1113.2 1375.5 1114.2 C1380.8 1115.1 1386.0 1116.1 1391.3 1117.0 C1396.6 1118.0 1401.8 1118.9 1407.1 1119.8 C1412.3 1120.7 1417.6 1121.6 1422.9 1122.5 C1428.1 1123.4 1433.4 1124.3 1438.6 1125.2 C1443.9 1126.1 1449.2 1127.0 1454.4 1127.8 C1459.7 1128.7 1464.9 1129.5 1470.2 1130.3 C1475.5 1131.1 1480.7 1131.8 1486.0 1132.5 C1491.2 1133.1 1496.5 1133.8 1501.8 1134.3 C1507.0 1134.9 1512.3 1135.4 1517.5 1135.9 C1522.8 1136.4 1528.1 1136.8 1533.3 1137.2 C1538.6 1137.6 1543.8 1138.0 1549.1 1138.4 C1554.4 1138.7 1559.6 1139.1 1564.9 1139.4 C1570.1 1139.8 1575.4 1140.1 1580.7 1140.5 C1585.9 1140.8 1591.2 1141.2 1596.4 1141.6 C1601.7 1142.0 1606.9 1142.4 1612.2 1142.8 C1617.5 1143.3 1622.7 1143.7 1628.0 1144.2 C1633.2 1144.8 1638.5 1145.3 1643.8 1145.9 C1649.0 1146.5 1654.3 1147.2 1659.5 1147.9 C1664.8 1148.5 1670.1 1149.3 1675.3 1150.1 C1680.6 1150.9 1685.8 1151.8 1691.1 1152.7 C1696.4 1153.6 1701.6 1154.6 1706.9 1155.6 C1712.1 1156.7 1717.4 1157.8 1722.7 1158.9 C1727.9 1160.1 1733.2 1161.3 1738.4 1162.5 C1743.7 1163.7 1749.0 1164.9 1754.2 1166.2 C1759.5 1167.4 1764.7 1168.7 1770.0 1170.0" stroke="#ffcccc" stroke-width="3.3"/>
<path d="M1012.6 1082.3 C1017.9 1076.7 1023.1 1071.0 1028.4 1065.7 C1033.6 1060.3 1038.9 1055.2 1044.2 1050.8 C1049.4 1046.3 1054.7 1042.4 1059.9 1039.4 C1065.2 1036.3 1070.5 1034.1 1075.7 1032.9 C1081.0 1031.8 1086.2 1031.7 1091.5 1032.5 C1096.8 1033.3 1102.0 1034.9 1107.3 1036.7 C1112.5 1038.5 1117.8 1040.5 1123.1 1042.5 C1128.3 1044.5 1133.6 1046.4 1138.8 1048.2 C1144.1 1050.0 1149.4 1051.6 1154.6 1053.1 C1159.9 1054.6 1165.1 1056.1 1170.4 1057.5 C1175.7 1059.0 1180.9 1060.4 1186.2 1062.0 C1191.4 1063.5 1196.7 1065.1 1202.0 1066.9 C1207.2 1068.7 1212.5 1070.7 1217.7 1072.8 C1223.0 1074.9 1228.2 1077.1 1233.5 1079.3 C1238.8 1081.5 1244.0 1083.7 1249.3 1085.8 C1254.5 1087.9 1259.8 1089.9 1265.1 1091.7 C1270.3 1093.5 1275.6 1095.1 1280.8 1096.6 C1286.1 1098.2 1291.4 1099.5 1296.6 1100.8 C1301.9 1102.1 1307.1 1103.3 1312.4 1104.5 C1317.7 1105.6 1322.9 1106.6 1328.2 1107.7 C1333.4 1108.7 1338.7 1109.7 1344.0 1110.7 C1349.2 1111.6 1354.5 1112.6 1359.7 1113.5 C1365.0 1114.4 1370.3 1115.4 1375.5 1116.3 C1380.8 1117.2 1386.0 1118.1 1391.3 1119.0 C1396.6 1119.9 1401.8 1120.8 1407.1 1121.7 C1412.3 1122.7 1417.6 1123.6 1422.9 1124.5 C1428.1 1125.5 1433.4 1126.4 1438.6 1127.4 C1443.9 1128.4 1449.2 1129.3 1454.4 1130.2 C1459.7 1131.2 1464.9 1132.1 1470.2 1132.9 C1475.5 1133.8 1480.7 1134.6 1486.0 1135.4 C1491.2 1136.2 1496.5 1136.9 1501.8 1137.5 C1507.0 1138.2 1512.3 1138.7 1517.5 1139.3 C1522.8 1139.8 1528.1 1140.3 1533.3 1140.8 C1538.6 1141.3 1543.8 1141.7 1549.1 1142.1 C1554.4 1142.5 1559.6 1142.9 1564.9 1143.3 C1570.1 1143.7 1575.4 1144.1 1580.7 1144.4 C1585.9 1144.8 1591.2 1145.2 1596.4 1145.6 C1601.7 1146.0 1606.9 1146.4 1612.2 1146.8 C1617.5 1147.2 1622.7 1147.7 1628.0 1148.2 C1633.2 1148.7 1638.5 1149.2 1643.8 1149.7 C1649.0 1150.3 1654.3 1150.9 1659.5 1151.5 C1664.8 1152.1 1670.1 1152.8 1675.3 1153.5 C1680.6 1154.3 1685.8 1155.0 1691.1 1155.8 C1696.4 1156.6 1701.6 1157.5 1706.9 1158.4 C1712.1 1159.4 1717.4 1160.3 1722.7 1161.3 C1727.9 1162.3 1733.2 1163.4 1738.4 1164.4 C1743.7 1165.5 1749.0 1166.6 1754.2 1167.7 C1759.5 1168.8 1764.7 1169.9 1770.0 1171.0" stroke="#ffcccc" stroke-width="3.3"/>
<path d="M1012.6 1138.9 C1017.9 1135.3 1023.1 1131.8 1028.4 1128.4 C1033.6 1124.9 1038.9 1121.6 1044.2 1118.5 C1049.4 1115.3 1054.7 1112.4 1059.9 1109.8 C1065.2 1107.1 1070.5 1104.7 1075.7 1102.7 C1081.0 1100.6 1086.2 1098.9 1091.5 1097.5 C1096.8 1096.1 1102.0 1095.1 1107.3 1094.4 C1112.5 1093.8 1117.8 1093.3 1123.1 1092.7 C1128.3 1092.1 1133.6 1091.3 1138.8 1090.0 C1144.1 1088.8 1149.4 1086.9 1154.6 1084.3 C1159.9 1081.7 1165.1 1078.6 1170.4 1075.7 C1175.7 1072.9 1180.9 1070.2 1186.2 1068.6 C1191.4 1067.0 1196.7 1066.5 1202.0 1067.0 C1207.2 1067.5 1212.5 1068.9 1217.7 1070.6 C1223.0 1072.4 1228.2 1074.6 1233.5 1076.7 C1238.8 1078.9 1244.0 1080.9 1249.3 1082.6 C1254.5 1084.4 1259.8 1085.9 1265.1 1087.3 C1270.3 1088.8 1275.6 1090.0 1280.8 1091.2 C1286.1 1092.3 1291.4 1093.4 1296.6 1094.4 C1301.9 1095.4 1307.1 1096.4 1312.4 1097.3 C1317.7 1098.3 1322.9 1099.2 1328.2 1100.2 C1333.4 1101.1 1338.7 1102.1 1344.0 1103.0 C1349.2 1104.0 1354.5 1105.0 1359.7 1106.0 C1365.0 1107.1 1370.3 1108.1 1375.5 1109.3 C1380.8 1110.4 1386.0 1111.6 1391.3 1112.9 C1396.6 1114.2 1401.8 1115.5 1407.1 1117.0 C1412.3 1118.5 1417.6 1120.0 1422.9 1121.5 C1428.1 1123.1 1433.4 1124.7 1438.6 1126.3 C1443.9 1127.9 1449.2 1129.4 1454.4 1131.0 C1459.7 1132.5 1464.9 1133.9 1470.2 1135.3 C1475.5 1136.7 1480.7 1137.9 1486.0 1139.1 C1491.2 1140.2 1496.5 1141.2 1501.8 1142.0 C1507.0 1142.9 1512.3 1143.6 1517.5 1144.2 C1522.8 1144.8 1528.1 1145.3 1533.3 1145.8 C1538.6 1146.2 1543.8 1146.5 1549.1 1146.9 C1554.4 1147.2 1559.6 1147.4 1564.9 1147.7 C1570.1 1147.9 1575.4 1148.1 1580.7 1148.3 C1585.9 1148.5 1591.2 1148.8 1596.4 1149.0 C1601.7 1149.3 1606.9 1149.6 1612.2 1149.9 C1617.5 1150.2 1622.7 1150.6 1628.0 1151.1 C1633.2 1151.6 1638.5 1152.1 1643.8 1152.7 C1649.0 1153.2 1654.3 1153.8 1659.5 1154.5 C1664.8 1155.2 1670.1 1155.8 1675.3 1156.6 C1680.6 1157.3 1685.8 1158.1 1691.1 1158.9 C1696.4 1159.7 1701.6 1160.5 1706.9 1161.3 C1712.1 1162.1 1717.4 1163.0 1722.7 1163.9 C1727.9 1164.7 1733.2 1165.6 1738.4 1166.5 C1743.7 1167.4 1749.0 1168.3 1754.2 1169.2 C1759.5 1170.2 1764.7 1171.1 1770.0 1172.0" stroke="#ffcccc" stroke-width="3.3"/>
<path d="M1012.6 1129.9 C1017.9 1126.4 1023.1 1122.8 1028.4 1119.4 C1033.6 1115.9 1038.9 1112.5 1044.2 1109.3 C1049.4 1106.1 1054.7 1103.0 1059.9 1100.1 C1065.2 1097.3 1070.5 1094.6 1075.7 1092.2 C1081.0 1089.8 1086.2 1087.6 1091.5 1085.7 C1096.8 1083.8 1102.0 1082.1 1107.3 1080.7 C1112.5 1079.3 1117.8 1078.2 1123.1 1077.3 C1128.3 1076.4 1133.6 1075.8 1138.8 1075.4 C1144.1 1075.0 1149.4 1074.8 1154.6 1074.9 C1159.9 1075.0 1165.1 1075.3 1170.4 1075.8 C1175.7 1076.3 1180.9 1077.0 1186.2 1077.8 C1191.4 1078.6 1196.7 1079.5 1202.0 1080.4 C1207.2 1081.4 1212.5 1082.4 1217.7 1083.4 C1223.0 1084.4 1228.2 1085.4 1233.5 1086.5 C1238.8 1087.5 1244.0 1088.5 1249.3 1089.5 C1254.5 1090.5 1259.8 1091.5 1265.1 1092.4 C1270.3 1093.3 1275.6 1094.3 1280.8 1095.1 C1286.1 1096.0 1291.4 1096.8 1296.6 1097.5 C1301.9 1098.3 1307.1 1099.0 1312.4 1099.7 C1317.7 1100.4 1322.9 1101.0 1328.2 1101.7 C1333.4 1102.3 1338.7 1102.8 1344.0 1103.4 C1349.2 1103.9 1354.5 1104.5 1359.7 1105.0 C1365.0 1105.5 1370.3 1105.9 1375.5 1106.4 C1380.8 1106.9 1386.0 1107.3 1391.3 1107.8 C1396.6 1108.2 1401.8 1108.7 1407.1 1109.1 C1412.3 1109.5 1417.6 1110.0 1422.9 1110.5 C1428.1 1110.9 1433.4 1111.4 1438.6 1111.9 C1443.9 1112.4 1449.2 1112.9 1454.4 1113.5 C1459.7 1114.0 1464.9 1114.5 1470.2 1115.1 C1475.5 1115.6 1480.7 1116.1 1486.0 1116.6 C1491.2 1117.1 1496.5 1117.5 1501.8 1117.9 C1507.0 1118.4 1512.3 1118.7 1517.5 1119.1 C1522.8 1119.4 1528.1 1119.8 1533.3 1120.1 C1538.6 1120.4 1543.8 1120.7 1549.1 1121.0 C1554.4 1121.3 1559.6 1121.6 1564.9 1121.9 C1570.1 1122.2 1575.4 1122.5 1580.7 1122.8 C1585.9 1123.1 1591.2 1123.4 1596.4 1123.8 C1601.7 1124.1 1606.9 1124.4 1612.2 1124.8 C1617.5 1125.2 1622.7 1125.6 1628.0 1126.0 C1633.2 1126.5 1638.5 1127.0 1643.8 1127.6 C1649.0 1128.1 1654.3 1128.8 1659.5 1129.5 C1664.8 1130.2 1670.1 1131.1 1675.3 1132.0 C1680.6 1133.0 1685.8 1134.1 1691.1 1135.3 C1696.4 1136.5 1701.6 1137.9 1706.9 1139.4 C1712.1 1140.9 1717.4 1142.5 1722.7 1144.3 C1727.9 1146.1 1733.2 1147.9 1738.4 1149.8 C1743.7 1151.8 1749.0 1153.8 1754.2 1155.8 C1759.5 1157.8 1764.7 1159.9 1770.0 1162.0" stroke="#ffcccc" stroke-width="3.3"/>
<path d="M1012.6 1094.7 C1017.9 1087.9 1023.1 1081.1 1028.4 1074.6 C1033.6 1068.1 1038.9 1061.9 1044.2 1056.2 C1049.4 1050.5 1054.7 1045.4 1059.9 1041.1 C1065.2 1036.8 1070.5 1033.2 1075.7 1030.5 C1081.0 1027.8 1086.2 1026.0 1091.5 1025.1 C1096.8 1024.2 1102.0 1024.4 1107.3 1025.0 C1112.5 1025.7 1117.8 1027.0 1123.1 1028.4 C1128.3 1029.8 1133.6 1031.5 1138.8 1033.4 C1144.1 1035.4 1149.4 1037.6 1154.6 1040.2 C1159.9 1042.7 1165.1 1045.6 1170.4 1048.5 C1175.7 1051.5 1180.9 1054.6 1186.2 1057.6 C1191.4 1060.6 1196.7 1063.5 1202.0 1066.1 C1207.2 1068.7 1212.5 1071.0 1217.7 1073.0 C1223.0 1075.0 1228.2 1076.8 1233.5 1078.4 C1238.8 1079.9 1244.0 1081.3 1249.3 1082.6 C1254.5 1083.9 1259.8 1085.0 1265.1 1086.2 C1270.3 1087.3 1275.6 1088.4 1280.8 1089.4 C1286.1 1090.4 1291.4 1091.3 1296.6 1092.2 C1301.9 1093.1 1307.1 1093.9 1312.4 1094.7 C1317.7 1095.4 1322.9 1096.1 1328.2 1096.8 C1333.4 1097.4 1338.7 1098.0 1344.0 1098.5 C1349.2 1099.0 1354.5 1099.5 1359.7 1099.9 C1365.0 1100.3 1370.3 1100.6 1375.5 1101.0 C1380.8 1101.3 1386.0 1101.6 1391.3 1101.8 C1396.6 1102.1 1401.8 1102.3 1407.1 1102.5 C1412.3 1102.7 1417.6 1102.9 1422.9 1103.1 C1428.1 1103.3 1433.4 1103.5 1438.6 1103.6 C1443.9 1103.8 1449.2 1103.9 1454.4 1104.1 C1459.7 1104.2 1464.9 1104.4 1470.2 1104.5 C1475.5 1104.6 1480.7 1104.8 1486.0 1104.9 C1491.2 1105.0 1496.5 1105.2 1501.8 1105.3 C1507.0 1105.4 1512.3 1105.6 1517.5 1105.7 C1522.8 1105.9 1528.1 1106.0 1533.3 1106.1 C1538.6 1106.3 1543.8 1106.4 1549.1 1106.6 C1554.4 1106.7 1559.6 1106.9 1564.9 1107.1 C1570.1 1107.2 1575.4 1107.4 1580.7 1107.6 C1585.9 1107.7 1591.2 1107.9 1596.4 1108.1 C1601.7 1108.4 1606.9 1108.6 1612.2 1108.9 C1617.5 1109.2 1622.7 1109.5 1628.0 1109.9 C1633.2 1110.4 1638.5 1110.8 1643.8 1111.4 C1649.0 1112.0 1654.3 1112.7 1659.5 1113.5 C1664.8 1114.4 1670.1 1115.3 1675.3 1116.4 C1680.6 1117.4 1685.8 1118.6 1691.1 1120.0 C1696.4 1121.4 1701.6 1122.9 1706.9 1124.5 C1712.1 1126.2 1717.4 1128.0 1722.7 1130.0 C1727.9 1131.9 1733.2 1134.0 1738.4 1136.1 C1743.7 1138.3 1749.0 1140.5 1754.2 1142.8 C1759.5 1145.1 1764.7 1147.4 1770.0 1149.7" stroke="#ccffcc" stroke-width="3.3"/>
<path d="M1012.6 1127.0 C1017.9 1124.4 1023.1 1121.9 1028.4 1119.4 C1033.6 1116.9 1038.9 1114.4 1044.2 1112.0 C1049.4 1109.6 1054.7 1107.2 1059.9 1104.9 C1065.2 1102.7 1070.5 1100.5 1075.7 1098.6 C1081.0 1096.6 1086.2 1094.8 1091.5 1093.3 C1096.8 1091.8 1102.0 1090.5 1107.3 1089.7 C1112.5 1088.8 1117.8 1088.2 1123.1 1087.9 C1128.3 1087.6 1133.6 1087.5 1138.8 1087.6 C1144.1 1087.7 1149.4 1087.9 1154.6 1088.1 C1159.9 1088.4 1165.1 1088.7 1170.4 1089.1 C1175.7 1089.5 1180.9 1089.9 1186.2 1090.3 C1191.4 1090.8 1196.7 1091.2 1202.0 1091.7 C1207.2 1092.2 1212.5 1092.6 1217.7 1093.1 C1223.0 1093.6 1228.2 1094.0 1233.5 1094.5 C1238.8 1094.9 1244.0 1095.3 1249.3 1095.8 C1254.5 1096.2 1259.8 1096.6 1265.1 1097.0 C1270.3 1097.3 1275.6 1097.7 1280.8 1098.0 C1286.1 1098.4 1291.4 1098.7 1296.6 1099.0 C1301.9 1099.3 1307.1 1099.6 1312.4 1099.8 C1317.7 1100.1 1322.9 1100.4 1328.2 1100.6 C1333.4 1100.9 1338.7 1101.1 1344.0 1101.3 C1349.2 1101.5 1354.5 1101.8 1359.7 1102.0 C1365.0 1102.2 1370.3 1102.5 1375.5 1102.7 C1380.8 1102.9 1386.0 1103.1 1391.3 1103.3 C1396.6 1103.5 1401.8 1103.7 1407.1 1103.9 C1412.3 1104.1 1417.6 1104.3 1422.9 1104.5 C1428.1 1104.7 1433.4 1104.8 1438.6 1104.9 C1443.9 1105.1 1449.2 1105.2 1454.4 1105.3 C1459.7 1105.4 1464.9 1105.5 1470.2 1105.6 C1475.5 1105.7 1480.7 1105.8 1486.0 1105.9 C1491.2 1106.0 1496.5 1106.2 1501.8 1106.3 C1507.0 1106.5 1512.3 1106.6 1517.5 1106.8 C1522.8 1106.9 1528.1 1107.1 1533.3 1107.3 C1538.6 1107.5 1543.8 1107.6 1549.1 1107.8 C1554.4 1108.0 1559.6 1108.2 1564.9 1108.4 C1570.1 1108.6 1575.4 1108.8 1580.7 1108.9 C1585.9 1109.1 1591.2 1109.3 1596.4 1109.5 C1601.7 1109.7 1606.9 1110.0 1612.2 1110.2 C1617.5 1110.5 1622.7 1110.9 1628.0 1111.3 C1633.2 1111.7 1638.5 1112.2 1643.8 1112.9 C1649.0 1113.5 1654.3 1114.2 1659.5 1115.1 C1664.8 1116.0 1670.1 1117.0 1675.3 1118.2 C1680.6 1119.4 1685.8 1120.7 1691.1 1122.2 C1696.4 1123.7 1701.6 1125.3 1706.9 1127.0 C1712.1 1128.8 1717.4 1130.6 1722.7 1132.6 C1727.9 1134.5 1733.2 1136.6 1738.4 1138.7 C1743.7 1140.8 1749.0 1143.0 1754.2 1145.2 C1759.5 1147.5 1764.7 1149.7 1770.0 1152.0" stroke="#ccffcc" stroke-width="3.3"/>
<path d="M1012.6 1133.0 C1017.9 1130.6 1023.1 1128.2 1028.4 1125.9 C1033.6 1123.5 1038.9 1121.1 1044.2 1118.8 C1049.4 1116.5 1054.7 1114.1 1059.9 1111.9 C1065.2 1109.6 1070.5 1107.3 1075.7 1105.3 C1081.0 1103.2 1086.2 1101.2 1091.5 1099.6 C1096.8 1098.0 1102.0 1096.6 1107.3 1095.7 C1112.5 1094.8 1117.8 1094.2 1123.1 1093.9 C1128.3 1093.6 1133.6 1093.5 1138.8 1093.6 C1144.1 1093.6 1149.4 1093.8 1154.6 1094.0 C1159.9 1094.2 1165.1 1094.5 1170.4 1094.7 C1175.7 1095.0 1180.9 1095.3 1186.2 1095.7 C1191.4 1096.0 1196.7 1096.4 1202.0 1096.8 C1207.2 1097.2 1212.5 1097.6 1217.7 1098.0 C1223.0 1098.4 1228.2 1098.9 1233.5 1099.3 C1238.8 1099.8 1244.0 1100.2 1249.3 1100.6 C1254.5 1101.1 1259.8 1101.5 1265.1 1101.9 C1270.3 1102.3 1275.6 1102.7 1280.8 1103.0 C1286.1 1103.4 1291.4 1103.7 1296.6 1104.0 C1301.9 1104.3 1307.1 1104.6 1312.4 1104.9 C1317.7 1105.2 1322.9 1105.4 1328.2 1105.6 C1333.4 1105.9 1338.7 1106.1 1344.0 1106.3 C1349.2 1106.6 1354.5 1106.8 1359.7 1107.0 C1365.0 1107.2 1370.3 1107.4 1375.5 1107.7 C1380.8 1107.9 1386.0 1108.1 1391.3 1108.3 C1396.6 1108.5 1401.8 1108.7 1407.1 1108.9 C1412.3 1109.1 1417.6 1109.3 1422.9 1109.5 C1428.1 1109.7 1433.4 1109.8 1438.6 1109.9 C1443.9 1110.1 1449.2 1110.2 1454.4 1110.3 C1459.7 1110.4 1464.9 1110.5 1470.2 1110.6 C1475.5 1110.7 1480.7 1110.8 1486.0 1110.9 C1491.2 1111.0 1496.5 1111.2 1501.8 1111.3 C1507.0 1111.5 1512.3 1111.6 1517.5 1111.8 C1522.8 1111.9 1528.1 1112.1 1533.3 1112.3 C1538.6 1112.5 1543.8 1112.6 1549.1 1112.8 C1554.4 1113.0 1559.6 1113.2 1564.9 1113.4 C1570.1 1113.6 1575.4 1113.8 1580.7 1113.9 C1585.9 1114.1 1591.2 1114.3 1596.4 1114.5 C1601.7 1114.7 1606.9 1114.9 1612.2 1115.2 C1617.5 1115.5 1622.7 1115.8 1628.0 1116.3 C1633.2 1116.7 1638.5 1117.2 1643.8 1117.8 C1649.0 1118.5 1654.3 1119.2 1659.5 1120.1 C1664.8 1121.0 1670.1 1122.0 1675.3 1123.2 C1680.6 1124.4 1685.8 1125.8 1691.1 1127.2 C1696.4 1128.7 1701.6 1130.3 1706.9 1132.0 C1712.1 1133.7 1717.4 1135.5 1722.7 1137.4 C1727.9 1139.3 1733.2 1141.3 1738.4 1143.3 C1743.7 1145.4 1749.0 1147.4 1754.2 1149.6 C1759.5 1151.7 1764.7 1153.8 1770.0 1156.0" stroke="#ccffcc" stroke-width="3.3"/>
<path d="M1012.6 1139.0 C1017.9 1136.6 1023.1 1134.2 1028.4 1131.9 C1033.6 1129.5 1038.9 1127.1 1044.2 1124.8 C1049.4 1122.5 1054.7 1120.1 1059.9 1117.9 C1065.2 1115.6 1070.5 1113.3 1075.7 1111.3 C1081.0 1109.2 1086.2 1107.2 1091.5 1105.6 C1096.8 1104.0 1102.0 1102.6 1107.3 1101.7 C1112.5 1100.8 1117.8 1100.2 1123.1 1099.9 C1128.3 1099.6 1133.6 1099.5 1138.8 1099.6 C1144.1 1099.6 1149.4 1099.8 1154.6 1100.0 C1159.9 1100.3 1165.1 1100.5 1170.4 1100.8 C1175.7 1101.1 1180.9 1101.4 1186.2 1101.7 C1191.4 1102.1 1196.7 1102.4 1202.0 1102.8 C1207.2 1103.1 1212.5 1103.5 1217.7 1103.8 C1223.0 1104.2 1228.2 1104.5 1233.5 1104.9 C1238.8 1105.2 1244.0 1105.6 1249.3 1105.9 C1254.5 1106.3 1259.8 1106.6 1265.1 1107.0 C1270.3 1107.4 1275.6 1107.7 1280.8 1108.1 C1286.1 1108.4 1291.4 1108.8 1296.6 1109.1 C1301.9 1109.5 1307.1 1109.8 1312.4 1110.2 C1317.7 1110.5 1322.9 1110.9 1328.2 1111.2 C1333.4 1111.5 1338.7 1111.8 1344.0 1112.1 C1349.2 1112.4 1354.5 1112.7 1359.7 1113.0 C1365.0 1113.2 1370.3 1113.5 1375.5 1113.7 C1380.8 1113.9 1386.0 1114.1 1391.3 1114.3 C1396.6 1114.5 1401.8 1114.7 1407.1 1114.9 C1412.3 1115.0 1417.6 1115.2 1422.9 1115.4 C1428.1 1115.6 1433.4 1115.8 1438.6 1116.0 C1443.9 1116.2 1449.2 1116.4 1454.4 1116.6 C1459.7 1116.8 1464.9 1117.0 1470.2 1117.2 C1475.5 1117.4 1480.7 1117.6 1486.0 1117.8 C1491.2 1118.0 1496.5 1118.2 1501.8 1118.4 C1507.0 1118.6 1512.3 1118.8 1517.5 1118.9 C1522.8 1119.1 1528.1 1119.3 1533.3 1119.4 C1538.6 1119.6 1543.8 1119.8 1549.1 1119.9 C1554.4 1120.1 1559.6 1120.3 1564.9 1120.4 C1570.1 1120.6 1575.4 1120.8 1580.7 1121.0 C1585.9 1121.1 1591.2 1121.3 1596.4 1121.6 C1601.7 1121.8 1606.9 1122.0 1612.2 1122.3 C1617.5 1122.6 1622.7 1123.0 1628.0 1123.4 C1633.2 1123.9 1638.5 1124.4 1643.8 1125.0 C1649.0 1125.6 1654.3 1126.3 1659.5 1127.2 C1664.8 1128.0 1670.1 1129.0 1675.3 1130.0 C1680.6 1131.1 1685.8 1132.4 1691.1 1133.7 C1696.4 1135.0 1701.6 1136.5 1706.9 1138.0 C1712.1 1139.6 1717.4 1141.2 1722.7 1143.0 C1727.9 1144.7 1733.2 1146.5 1738.4 1148.4 C1743.7 1150.2 1749.0 1152.1 1754.2 1154.1 C1759.5 1156.0 1764.7 1158.0 1770.0 1160.0" stroke="#ccffcc" stroke-width="3.3"/>
<path d="M1012.6 1145.5 C1017.9 1143.1 1023.1 1140.7 1028.4 1138.3 C1033.6 1135.9 1038.9 1133.5 1044.2 1131.1 C1049.4 1128.7 1054.7 1126.2 1059.9 1123.8 C1065.2 1121.3 1070.5 1118.8 1075.7 1116.5 C1081.0 1114.2 1086.2 1112.0 1091.5 1110.2 C1096.8 1108.3 1102.0 1106.8 1107.3 1105.7 C1112.5 1104.7 1117.8 1104.1 1123.1 1103.7 C1128.3 1103.4 1133.6 1103.4 1138.8 1103.5 C1144.1 1103.5 1149.4 1103.8 1154.6 1104.0 C1159.9 1104.2 1165.1 1104.5 1170.4 1104.7 C1175.7 1105.0 1180.9 1105.3 1186.2 1105.7 C1191.4 1106.0 1196.7 1106.4 1202.0 1106.8 C1207.2 1107.2 1212.5 1107.6 1217.7 1108.1 C1223.0 1108.5 1228.2 1109.0 1233.5 1109.5 C1238.8 1110.0 1244.0 1110.5 1249.3 1111.0 C1254.5 1111.6 1259.8 1112.1 1265.1 1112.6 C1270.3 1113.1 1275.6 1113.6 1280.8 1114.1 C1286.1 1114.5 1291.4 1115.0 1296.6 1115.4 C1301.9 1115.9 1307.1 1116.3 1312.4 1116.7 C1317.7 1117.1 1322.9 1117.5 1328.2 1117.9 C1333.4 1118.3 1338.7 1118.6 1344.0 1119.0 C1349.2 1119.3 1354.5 1119.7 1359.7 1120.0 C1365.0 1120.3 1370.3 1120.6 1375.5 1120.9 C1380.8 1121.2 1386.0 1121.5 1391.3 1121.7 C1396.6 1122.0 1401.8 1122.3 1407.1 1122.5 C1412.3 1122.8 1417.6 1123.0 1422.9 1123.3 C1428.1 1123.5 1433.4 1123.7 1438.6 1123.9 C1443.9 1124.2 1449.2 1124.4 1454.4 1124.6 C1459.7 1124.8 1464.9 1125.0 1470.2 1125.2 C1475.5 1125.5 1480.7 1125.7 1486.0 1125.8 C1491.2 1126.0 1496.5 1126.2 1501.8 1126.4 C1507.0 1126.6 1512.3 1126.8 1517.5 1126.9 C1522.8 1127.1 1528.1 1127.3 1533.3 1127.4 C1538.6 1127.6 1543.8 1127.8 1549.1 1127.9 C1554.4 1128.1 1559.6 1128.3 1564.9 1128.4 C1570.1 1128.6 1575.4 1128.8 1580.7 1129.0 C1585.9 1129.2 1591.2 1129.3 1596.4 1129.6 C1601.7 1129.8 1606.9 1130.0 1612.2 1130.3 C1617.5 1130.6 1622.7 1130.9 1628.0 1131.3 C1633.2 1131.6 1638.5 1132.1 1643.8 1132.6 C1649.0 1133.1 1654.3 1133.6 1659.5 1134.3 C1664.8 1135.0 1670.1 1135.7 1675.3 1136.6 C1680.6 1137.4 1685.8 1138.4 1691.1 1139.5 C1696.4 1140.5 1701.6 1141.7 1706.9 1143.1 C1712.1 1144.4 1717.4 1145.8 1722.7 1147.4 C1727.9 1148.9 1733.2 1150.5 1738.4 1152.2 C1743.7 1153.9 1749.0 1155.7 1754.2 1157.5 C1759.5 1159.3 1764.7 1161.1 1770.0 1163.0" stroke="#ccffcc" stroke-width="3.3"/>
<path d="M1012.6 1119.9 C1017.9 1117.0 1023.1 1114.1 1028.4 1111.3 C1033.6 1108.5 1038.9 1105.8 1044.2 1103.2 C1049.4 1100.7 1054.7 1098.3 1059.9 1096.2 C1065.2 1094.0 1070.5 1092.1 1075.7 1090.5 C1081.0 1088.9 1086.2 1087.5 1091.5 1086.3 C1096.8 1085.2 1102.0 1084.3 1107.3 1083.6 C1112.5 1082.9 1117.8 1082.5 1123.1 1082.2 C1128.3 1081.9 1133.6 1081.8 1138.8 1081.8 C1144.1 1081.8 1149.4 1081.9 1154.6 1082.1 C1159.9 1082.3 1165.1 1082.6 1170.4 1083.0 C1175.7 1083.3 1180.9 1083.7 1186.2 1084.2 C1191.4 1084.6 1196.7 1085.1 1202.0 1085.7 C1207.2 1086.2 1212.5 1086.8 1217.7 1087.4 C1223.0 1087.9 1228.2 1088.5 1233.5 1089.1 C1238.8 1089.7 1244.0 1090.3 1249.3 1090.9 C1254.5 1091.5 1259.8 1092.0 1265.1 1092.5 C1270.3 1093.1 1275.6 1093.6 1280.8 1094.0 C1286.1 1094.5 1291.4 1094.9 1296.6 1095.3 C1301.9 1095.7 1307.1 1096.0 1312.4 1096.4 C1317.7 1096.7 1322.9 1097.0 1328.2 1097.3 C1333.4 1097.6 1338.7 1097.9 1344.0 1098.2 C1349.2 1098.5 1354.5 1098.7 1359.7 1099.0 C1365.0 1099.3 1370.3 1099.6 1375.5 1099.9 C1380.8 1100.2 1386.0 1100.4 1391.3 1100.7 C1396.6 1101.0 1401.8 1101.3 1407.1 1101.5 C1412.3 1101.8 1417.6 1102.1 1422.9 1102.3 C1428.1 1102.5 1433.4 1102.7 1438.6 1102.9 C1443.9 1103.1 1449.2 1103.3 1454.4 1103.4 C1459.7 1103.6 1464.9 1103.7 1470.2 1103.8 C1475.5 1104.0 1480.7 1104.1 1486.0 1104.2 C1491.2 1104.3 1496.5 1104.5 1501.8 1104.6 C1507.0 1104.7 1512.3 1104.9 1517.5 1105.0 C1522.8 1105.2 1528.1 1105.3 1533.3 1105.5 C1538.6 1105.6 1543.8 1105.8 1549.1 1106.0 C1554.4 1106.1 1559.6 1106.3 1564.9 1106.5 C1570.1 1106.6 1575.4 1106.8 1580.7 1107.0 C1585.9 1107.1 1591.2 1107.3 1596.4 1107.5 C1601.7 1107.7 1606.9 1107.9 1612.2 1108.2 C1617.5 1108.4 1622.7 1108.7 1628.0 1109.1 C1633.2 1109.5 1638.5 1109.9 1643.8 1110.4 C1649.0 1110.9 1654.3 1111.5 1659.5 1112.2 C1664.8 1112.9 1670.1 1113.7 1675.3 1114.7 C1680.6 1115.6 1685.8 1116.7 1691.1 1117.9 C1696.4 1119.1 1701.6 1120.5 1706.9 1122.1 C1712.1 1123.7 1717.4 1125.4 1722.7 1127.3 C1727.9 1129.2 1733.2 1131.3 1738.4 1133.4 C1743.7 1135.5 1749.0 1137.8 1754.2 1140.0 C1759.5 1142.3 1764.7 1144.6 1770.0 1146.9" stroke="#ccffcc" stroke-width="3.3"/>
<path d="M1012.6 1123.9 C1017.9 1121.0 1023.1 1118.1 1028.4 1115.3 C1033.6 1112.5 1038.9 1109.8 1044.2 1107.2 C1049.4 1104.7 1054.7 1102.3 1059.9 1100.2 C1065.2 1098.0 1070.5 1096.1 1075.7 1094.5 C1081.0 1092.9 1086.2 1091.5 1091.5 1090.3 C1096.8 1089.2 1102.0 1088.3 1107.3 1087.6 C1112.5 1086.9 1117.8 1086.5 1123.1 1086.2 C1128.3 1085.9 1133.6 1085.8 1138.8 1085.8 C1144.1 1085.8 1149.4 1085.9 1154.6 1086.1 C1159.9 1086.3 1165.1 1086.6 1170.4 1087.0 C1175.7 1087.4 1180.9 1087.8 1186.2 1088.2 C1191.4 1088.7 1196.7 1089.2 1202.0 1089.7 C1207.2 1090.2 1212.5 1090.7 1217.7 1091.2 C1223.0 1091.8 1228.2 1092.3 1233.5 1092.8 C1238.8 1093.3 1244.0 1093.9 1249.3 1094.4 C1254.5 1094.9 1259.8 1095.3 1265.1 1095.8 C1270.3 1096.2 1275.6 1096.7 1280.8 1097.0 C1286.1 1097.4 1291.4 1097.8 1296.6 1098.1 C1301.9 1098.4 1307.1 1098.7 1312.4 1098.9 C1317.7 1099.2 1322.9 1099.4 1328.2 1099.7 C1333.4 1099.9 1338.7 1100.1 1344.0 1100.3 C1349.2 1100.6 1354.5 1100.8 1359.7 1101.0 C1365.0 1101.2 1370.3 1101.4 1375.5 1101.7 C1380.8 1101.9 1386.0 1102.2 1391.3 1102.4 C1396.6 1102.7 1401.8 1102.9 1407.1 1103.2 C1412.3 1103.5 1417.6 1103.7 1422.9 1104.0 C1428.1 1104.3 1433.4 1104.6 1438.6 1104.9 C1443.9 1105.2 1449.2 1105.6 1454.4 1105.9 C1459.7 1106.2 1464.9 1106.6 1470.2 1106.9 C1475.5 1107.2 1480.7 1107.5 1486.0 1107.8 C1491.2 1108.0 1496.5 1108.3 1501.8 1108.5 C1507.0 1108.8 1512.3 1109.0 1517.5 1109.1 C1522.8 1109.3 1528.1 1109.5 1533.3 1109.7 C1538.6 1109.8 1543.8 1110.0 1549.1 1110.1 C1554.4 1110.3 1559.6 1110.4 1564.9 1110.5 C1570.1 1110.7 1575.4 1110.8 1580.7 1111.0 C1585.9 1111.1 1591.2 1111.3 1596.4 1111.5 C1601.7 1111.6 1606.9 1111.9 1612.2 1112.1 C1617.5 1112.4 1622.7 1112.8 1628.0 1113.2 C1633.2 1113.6 1638.5 1114.2 1643.8 1114.8 C1649.0 1115.4 1654.3 1116.2 1659.5 1117.1 C1664.8 1118.0 1670.1 1119.0 1675.3 1120.2 C1680.6 1121.4 1685.8 1122.8 1691.1 1124.2 C1696.4 1125.7 1701.6 1127.3 1706.9 1129.0 C1712.1 1130.7 1717.4 1132.5 1722.7 1134.4 C1727.9 1136.3 1733.2 1138.3 1738.4 1140.3 C1743.7 1142.4 1749.0 1144.4 1754.2 1146.6 C1759.5 1148.7 1764.7 1150.8 1770.0 1153.0" stroke="#ccffcc" stroke-width="3.3"/>
<path d="M1012.6 1130.0 C1017.9 1127.4 1023.1 1124.9 1028.4 1122.4 C1033.6 1119.9 1038.9 1117.4 1044.2 1115.0 C1049.4 1112.6 1054.7 1110.2 1059.9 1107.9 C1065.2 1105.7 1070.5 1103.5 1075.7 1101.6 C1081.0 1099.6 1086.2 1097.8 1091.5 1096.3 C1096.8 1094.8 1102.0 1093.5 1107.3 1092.7 C1112.5 1091.8 1117.8 1091.2 1123.1 1090.9 C1128.3 1090.6 1133.6 1090.5 1138.8 1090.6 C1144.1 1090.7 1149.4 1090.9 1154.6 1091.1 C1159.9 1091.4 1165.1 1091.7 1170.4 1092.1 C1175.7 1092.5 1180.9 1092.9 1186.2 1093.3 C1191.4 1093.8 1196.7 1094.2 1202.0 1094.7 C1207.2 1095.2 1212.5 1095.6 1217.7 1096.1 C1223.0 1096.5 1228.2 1097.0 1233.5 1097.4 C1238.8 1097.8 1244.0 1098.2 1249.3 1098.7 C1254.5 1099.1 1259.8 1099.5 1265.1 1099.9 C1270.3 1100.3 1275.6 1100.7 1280.8 1101.1 C1286.1 1101.4 1291.4 1101.8 1296.6 1102.2 C1301.9 1102.6 1307.1 1102.9 1312.4 1103.3 C1317.7 1103.6 1322.9 1103.9 1328.2 1104.2 C1333.4 1104.6 1338.7 1104.9 1344.0 1105.2 C1349.2 1105.4 1354.5 1105.7 1359.7 1106.0 C1365.0 1106.2 1370.3 1106.5 1375.5 1106.7 C1380.8 1106.9 1386.0 1107.2 1391.3 1107.4 C1396.6 1107.6 1401.8 1107.9 1407.1 1108.1 C1412.3 1108.4 1417.6 1108.7 1422.9 1109.0 C1428.1 1109.3 1433.4 1109.6 1438.6 1110.0 C1443.9 1110.3 1449.2 1110.7 1454.4 1111.2 C1459.7 1111.6 1464.9 1112.0 1470.2 1112.5 C1475.5 1112.9 1480.7 1113.3 1486.0 1113.7 C1491.2 1114.0 1496.5 1114.4 1501.8 1114.6 C1507.0 1114.9 1512.3 1115.1 1517.5 1115.3 C1522.8 1115.5 1528.1 1115.7 1533.3 1115.8 C1538.6 1116.0 1543.8 1116.1 1549.1 1116.2 C1554.4 1116.3 1559.6 1116.5 1564.9 1116.6 C1570.1 1116.7 1575.4 1116.8 1580.7 1117.0 C1585.9 1117.1 1591.2 1117.3 1596.4 1117.5 C1601.7 1117.7 1606.9 1118.0 1612.2 1118.3 C1617.5 1118.6 1622.7 1118.9 1628.0 1119.4 C1633.2 1119.8 1638.5 1120.3 1643.8 1121.0 C1649.0 1121.6 1654.3 1122.3 1659.5 1123.1 C1664.8 1124.0 1670.1 1124.9 1675.3 1126.0 C1680.6 1127.1 1685.8 1128.3 1691.1 1129.7 C1696.4 1131.0 1701.6 1132.5 1706.9 1134.0 C1712.1 1135.6 1717.4 1137.3 1722.7 1139.1 C1727.9 1140.9 1733.2 1142.8 1738.4 1144.8 C1743.7 1146.7 1749.0 1148.7 1754.2 1150.8 C1759.5 1152.8 1764.7 1154.9 1770.0 1157.0" stroke="#ccffcc" stroke-width="3.3"/>
<path d="M1012.6 1136.0 C1017.9 1133.6 1023.1 1131.2 1028.4 1128.9 C1033.6 1126.5 1038.9 1124.1 1044.2 1121.8 C1049.4 1119.5 1054.7 1117.1 1059.9 1114.9 C1065.2 1112.6 1070.5 1110.3 1075.7 1108.3 C1081.0 1106.2 1086.2 1104.2 1091.5 1102.6 C1096.8 1101.0 1102.0 1099.6 1107.3 1098.7 C1112.5 1097.8 1117.8 1097.2 1123.1 1096.9 C1128.3 1096.6 1133.6 1096.5 1138.8 1096.6 C1144.1 1096.6 1149.4 1096.8 1154.6 1097.0 C1159.9 1097.2 1165.1 1097.5 1170.4 1097.7 C1175.7 1098.0 1180.9 1098.3 1186.2 1098.7 C1191.4 1099.0 1196.7 1099.4 1202.0 1099.8 C1207.2 1100.2 1212.5 1100.6 1217.7 1101.0 C1223.0 1101.4 1228.2 1101.8 1233.5 1102.2 C1238.8 1102.7 1244.0 1103.1 1249.3 1103.5 C1254.5 1104.0 1259.8 1104.4 1265.1 1104.8 C1270.3 1105.2 1275.6 1105.7 1280.8 1106.1 C1286.1 1106.4 1291.4 1106.8 1296.6 1107.2 C1301.9 1107.5 1307.1 1107.9 1312.4 1108.2 C1317.7 1108.6 1322.9 1108.9 1328.2 1109.2 C1333.4 1109.5 1338.7 1109.8 1344.0 1110.1 C1349.2 1110.4 1354.5 1110.7 1359.7 1111.0 C1365.0 1111.3 1370.3 1111.5 1375.5 1111.8 C1380.8 1112.1 1386.0 1112.4 1391.3 1112.6 C1396.6 1112.9 1401.8 1113.2 1407.1 1113.6 C1412.3 1113.9 1417.6 1114.3 1422.9 1114.7 C1428.1 1115.0 1433.4 1115.5 1438.6 1115.9 C1443.9 1116.4 1449.2 1116.9 1454.4 1117.5 C1459.7 1118.0 1464.9 1118.5 1470.2 1119.1 C1475.5 1119.6 1480.7 1120.1 1486.0 1120.6 C1491.2 1121.1 1496.5 1121.5 1501.8 1121.9 C1507.0 1122.2 1512.3 1122.5 1517.5 1122.8 C1522.8 1123.1 1528.1 1123.4 1533.3 1123.6 C1538.6 1123.8 1543.8 1124.0 1549.1 1124.1 C1554.4 1124.3 1559.6 1124.5 1564.9 1124.6 C1570.1 1124.7 1575.4 1124.8 1580.7 1125.0 C1585.9 1125.1 1591.2 1125.2 1596.4 1125.4 C1601.7 1125.5 1606.9 1125.7 1612.2 1125.9 C1617.5 1126.1 1622.7 1126.4 1628.0 1126.8 C1633.2 1127.1 1638.5 1127.6 1643.8 1128.2 C1649.0 1128.7 1654.3 1129.4 1659.5 1130.2 C1664.8 1131.0 1670.1 1132.0 1675.3 1133.1 C1680.6 1134.2 1685.8 1135.4 1691.1 1136.7 C1696.4 1138.1 1701.6 1139.5 1706.9 1141.0 C1712.1 1142.5 1717.4 1144.0 1722.7 1145.6 C1727.9 1147.2 1733.2 1148.9 1738.4 1150.6 C1743.7 1152.3 1749.0 1154.0 1754.2 1155.7 C1759.5 1157.5 1764.7 1159.2 1770.0 1161.0" stroke="#ccffcc" stroke-width="3.3"/>
<path d="M1012.6 1003.0 C1017.5 969.5 1022.4 932.7 1027.3 887.2 C1032.2 841.8 1037.1 805.3 1042.0 755.0" stroke="#ccccff" stroke-width="3.3"/>
<path d="M1012.6 1069.1 C1017.8 1055.2 1022.9 1043.2 1028.1 1020.9 C1033.2 998.6 1038.4 957.3 1043.5 907.3 C1048.7 857.3 1053.8 805.6 1059.0 755.4" stroke="#ccccff" stroke-width="3.3"/>
<path d="M1079.0 760.5 C1084.2 794.5 1089.5 825.7 1094.7 853.8 C1099.9 882.0 1105.2 910.3 1110.4 939.7 C1115.6 969.1 1120.9 997.3 1126.1 1017.2 C1131.3 1037.1 1136.6 1052.0 1141.8 1064.6 C1147.1 1077.3 1152.3 1087.4 1157.5 1096.0 C1162.8 1104.7 1168.0 1111.6 1173.2 1116.1 C1178.5 1120.6 1183.7 1123.0 1188.9 1125.1 C1194.2 1127.2 1199.4 1129.0 1204.6 1130.3 C1209.9 1131.6 1215.1 1132.2 1220.3 1132.8 C1225.6 1133.3 1230.8 1133.7 1236.0 1134.4 C1241.3 1135.2 1246.5 1136.4 1251.8 1138.0 C1257.0 1139.6 1262.2 1141.5 1267.5 1143.5 C1272.7 1145.4 1277.9 1147.4 1283.2 1149.2 C1288.4 1151.1 1293.6 1152.6 1298.9 1153.8 C1304.1 1155.0 1309.3 1155.9 1314.6 1156.6 C1319.8 1157.3 1325.0 1157.7 1330.3 1158.1 C1335.5 1158.4 1340.7 1158.6 1346.0 1158.7 C1351.2 1158.8 1356.4 1158.9 1361.7 1159.2 C1366.9 1159.5 1372.2 1159.9 1377.4 1160.7 C1382.6 1161.5 1387.9 1162.5 1393.1 1163.7 C1398.3 1164.8 1403.6 1166.0 1408.8 1167.0 C1414.0 1167.9 1419.3 1168.7 1424.5 1169.3 C1429.7 1169.9 1435.0 1170.3 1440.2 1170.6 C1445.4 1170.9 1450.7 1171.2 1455.9 1171.3 C1461.1 1171.5 1466.4 1171.6 1471.6 1171.8 C1476.8 1171.9 1482.1 1172.1 1487.3 1172.3 C1492.6 1172.5 1497.8 1172.7 1503.0 1172.9 C1508.3 1173.2 1513.5 1173.5 1518.7 1173.8 C1524.0 1174.1 1529.2 1174.4 1534.4 1174.8 C1539.7 1175.1 1544.9 1175.5 1550.1 1175.9 C1555.4 1176.3 1560.6 1176.6 1565.8 1177.0 C1571.1 1177.4 1576.3 1177.8 1581.5 1178.2 C1586.8 1178.6 1592.0 1179.0 1597.2 1179.4 C1602.5 1179.7 1607.7 1180.1 1613.0 1180.4 C1618.2 1180.8 1623.4 1181.1 1628.7 1181.4 C1633.9 1181.8 1639.1 1182.0 1644.4 1182.3 C1649.6 1182.6 1654.8 1182.8 1660.1 1183.1 C1665.3 1183.3 1670.5 1183.5 1675.8 1183.7 C1681.0 1183.9 1686.2 1184.0 1691.5 1184.2 C1696.7 1184.4 1701.9 1184.5 1707.2 1184.7 C1712.4 1184.8 1717.7 1184.9 1722.9 1185.1 C1728.1 1185.2 1733.4 1185.3 1738.6 1185.4 C1743.8 1185.5 1749.1 1185.6 1754.3 1185.7 C1759.5 1185.8 1764.8 1185.9 1770.0 1186.0" stroke="#ccccff" stroke-width="3.3"/>
<path d="M1109.0 759.3 C1114.2 798.9 1119.5 836.2 1124.7 873.1 C1130.0 909.9 1135.2 950.0 1140.5 980.6 C1145.7 1011.2 1151.0 1027.3 1156.2 1038.3 C1161.5 1049.3 1166.7 1060.1 1172.0 1072.5 C1177.2 1085.0 1182.4 1096.1 1187.7 1104.1 C1192.9 1112.1 1198.2 1117.6 1203.4 1121.2 C1208.7 1124.7 1213.9 1126.3 1219.2 1127.0 C1224.4 1127.8 1229.7 1127.7 1234.9 1127.9 C1240.2 1128.2 1245.4 1128.9 1250.6 1130.3 C1255.9 1131.7 1261.1 1133.6 1266.4 1135.6 C1271.6 1137.6 1276.9 1139.8 1282.1 1141.8 C1287.4 1143.7 1292.6 1145.4 1297.9 1146.7 C1303.1 1147.9 1308.3 1148.8 1313.6 1149.5 C1318.8 1150.2 1324.1 1150.7 1329.3 1151.1 C1334.6 1151.5 1339.8 1151.9 1345.1 1152.3 C1350.3 1152.7 1355.6 1153.2 1360.8 1153.8 C1366.1 1154.4 1371.3 1155.0 1376.5 1155.6 C1381.8 1156.2 1387.0 1156.9 1392.3 1157.6 C1397.5 1158.3 1402.8 1159.1 1408.0 1159.8 C1413.3 1160.6 1418.5 1161.4 1423.8 1162.2 C1429.0 1162.9 1434.3 1163.7 1439.5 1164.5 C1444.7 1165.3 1450.0 1166.1 1455.2 1166.8 C1460.5 1167.5 1465.7 1168.2 1471.0 1168.9 C1476.2 1169.6 1481.5 1170.2 1486.7 1170.7 C1492.0 1171.3 1497.2 1171.8 1502.5 1172.3 C1507.7 1172.8 1512.9 1173.2 1518.2 1173.6 C1523.4 1173.9 1528.7 1174.3 1533.9 1174.6 C1539.2 1174.9 1544.4 1175.2 1549.7 1175.5 C1554.9 1175.8 1560.2 1176.0 1565.4 1176.3 C1570.7 1176.5 1575.9 1176.7 1581.1 1176.9 C1586.4 1177.1 1591.6 1177.4 1596.9 1177.6 C1602.1 1177.8 1607.4 1178.0 1612.6 1178.2 C1617.9 1178.4 1623.1 1178.6 1628.4 1178.9 C1633.6 1179.1 1638.8 1179.4 1644.1 1179.6 C1649.3 1179.9 1654.6 1180.2 1659.8 1180.5 C1665.1 1180.8 1670.3 1181.1 1675.6 1181.4 C1680.8 1181.7 1686.1 1182.1 1691.3 1182.4 C1696.6 1182.7 1701.8 1183.1 1707.0 1183.5 C1712.3 1183.8 1717.5 1184.2 1722.8 1184.6 C1728.0 1184.9 1733.3 1185.3 1738.5 1185.7 C1743.8 1186.1 1749.0 1186.4 1754.3 1186.8 C1759.5 1187.2 1764.8 1187.6 1770.0 1188.0" stroke="#ccccff" stroke-width="3.3"/>
<path d="M1012.6 1059.0 C1017.9 1038.1 1023.1 1017.3 1028.4 998.4 C1033.6 979.5 1038.9 962.4 1044.2 947.5 C1049.4 932.6 1054.7 920.1 1059.9 910.8 C1065.2 901.6 1070.5 895.5 1075.7 892.7 C1081.0 889.9 1086.2 890.4 1091.5 894.0 C1096.8 897.6 1102.0 904.1 1107.3 913.3 C1112.5 922.6 1117.8 934.5 1123.1 947.6 C1128.3 960.7 1133.6 975.2 1138.8 988.4 C1144.1 1001.7 1149.4 1012.8 1154.6 1021.6 C1159.9 1030.3 1165.1 1037.0 1170.4 1042.1 C1175.7 1047.2 1180.9 1050.9 1186.2 1054.0 C1191.4 1057.0 1196.7 1059.6 1202.0 1061.8 C1207.2 1064.0 1212.5 1066.0 1217.7 1067.8 C1223.0 1069.5 1228.2 1071.2 1233.5 1072.8 C1238.8 1074.5 1244.0 1076.2 1249.3 1078.0 C1254.5 1079.8 1259.8 1081.6 1265.1 1083.5 C1270.3 1085.3 1275.6 1087.2 1280.8 1088.9 C1286.1 1090.7 1291.4 1092.4 1296.6 1094.0 C1301.9 1095.5 1307.1 1097.0 1312.4 1098.3 C1317.7 1099.6 1322.9 1100.8 1328.2 1101.9 C1333.4 1103.1 1338.7 1104.1 1344.0 1105.2 C1349.2 1106.2 1354.5 1107.2 1359.7 1108.2 C1365.0 1109.3 1370.3 1110.3 1375.5 1111.4 C1380.8 1112.4 1386.0 1113.5 1391.3 1114.5 C1396.6 1115.6 1401.8 1116.6 1407.1 1117.6 C1412.3 1118.6 1417.6 1119.6 1422.9 1120.5 C1428.1 1121.5 1433.4 1122.4 1438.6 1123.2 C1443.9 1124.1 1449.2 1125.0 1454.4 1125.8 C1459.7 1126.6 1464.9 1127.4 1470.2 1128.2 C1475.5 1129.0 1480.7 1129.7 1486.0 1130.4 C1491.2 1131.2 1496.5 1131.9 1501.8 1132.6 C1507.0 1133.3 1512.3 1133.9 1517.5 1134.6 C1522.8 1135.2 1528.1 1135.9 1533.3 1136.5 C1538.6 1137.1 1543.8 1137.7 1549.1 1138.3 C1554.4 1138.9 1559.6 1139.5 1564.9 1140.1 C1570.1 1140.6 1575.4 1141.2 1580.7 1141.7 C1585.9 1142.2 1591.2 1142.8 1596.4 1143.3 C1601.7 1143.8 1606.9 1144.3 1612.2 1144.8 C1617.5 1145.3 1622.7 1145.8 1628.0 1146.2 C1633.2 1146.7 1638.5 1147.2 1643.8 1147.7 C1649.0 1148.3 1654.3 1148.8 1659.5 1149.4 C1664.8 1150.0 1670.1 1150.7 1675.3 1151.4 C1680.6 1152.1 1685.8 1152.9 1691.1 1153.7 C1696.4 1154.6 1701.6 1155.6 1706.9 1156.6 C1712.1 1157.7 1717.4 1158.8 1722.7 1160.0 C1727.9 1161.2 1733.2 1162.5 1738.4 1163.8 C1743.7 1165.1 1749.0 1166.5 1754.2 1167.8 C1759.5 1169.2 1764.7 1170.6 1770.0 1172.0" stroke="#ccccff" stroke-width="3.3"/>
<path d="M1012.6 1048.6 C1017.9 1034.4 1023.1 1020.3 1028.4 1008.8 C1033.6 997.4 1038.9 988.2 1044.2 981.0 C1049.4 973.8 1054.7 968.6 1059.9 964.8 C1065.2 961.0 1070.5 958.7 1075.7 958.0 C1081.0 957.2 1086.2 958.0 1091.5 960.3 C1096.8 962.7 1102.0 966.6 1107.3 971.8 C1112.5 977.0 1117.8 983.3 1123.1 989.4 C1128.3 995.6 1133.6 1001.4 1138.8 1006.0 C1144.1 1010.6 1149.4 1014.3 1154.6 1017.0 C1159.9 1019.7 1165.1 1021.2 1170.4 1022.6 C1175.7 1023.9 1180.9 1025.2 1186.2 1027.8 C1191.4 1030.4 1196.7 1034.6 1202.0 1039.7 C1207.2 1044.8 1212.5 1050.6 1217.7 1056.0 C1223.0 1061.4 1228.2 1066.2 1233.5 1070.1 C1238.8 1074.1 1244.0 1077.4 1249.3 1080.3 C1254.5 1083.2 1259.8 1085.7 1265.1 1087.9 C1270.3 1090.2 1275.6 1092.1 1280.8 1093.9 C1286.1 1095.7 1291.4 1097.2 1296.6 1098.6 C1301.9 1100.0 1307.1 1101.2 1312.4 1102.2 C1317.7 1103.3 1322.9 1104.3 1328.2 1105.2 C1333.4 1106.0 1338.7 1106.8 1344.0 1107.5 C1349.2 1108.2 1354.5 1108.9 1359.7 1109.5 C1365.0 1110.2 1370.3 1110.8 1375.5 1111.4 C1380.8 1112.0 1386.0 1112.7 1391.3 1113.3 C1396.6 1114.0 1401.8 1114.6 1407.1 1115.3 C1412.3 1115.9 1417.6 1116.6 1422.9 1117.2 C1428.1 1117.8 1433.4 1118.5 1438.6 1119.1 C1443.9 1119.7 1449.2 1120.4 1454.4 1121.0 C1459.7 1121.6 1464.9 1122.2 1470.2 1122.8 C1475.5 1123.4 1480.7 1123.9 1486.0 1124.5 C1491.2 1125.0 1496.5 1125.6 1501.8 1126.1 C1507.0 1126.6 1512.3 1127.0 1517.5 1127.5 C1522.8 1128.0 1528.1 1128.4 1533.3 1128.9 C1538.6 1129.3 1543.8 1129.7 1549.1 1130.1 C1554.4 1130.5 1559.6 1130.9 1564.9 1131.3 C1570.1 1131.7 1575.4 1132.1 1580.7 1132.5 C1585.9 1132.9 1591.2 1133.3 1596.4 1133.7 C1601.7 1134.1 1606.9 1134.4 1612.2 1134.8 C1617.5 1135.2 1622.7 1135.6 1628.0 1136.0 C1633.2 1136.4 1638.5 1136.9 1643.8 1137.3 C1649.0 1137.8 1654.3 1138.4 1659.5 1139.0 C1664.8 1139.6 1670.1 1140.2 1675.3 1141.0 C1680.6 1141.8 1685.8 1142.6 1691.1 1143.6 C1696.4 1144.5 1701.6 1145.6 1706.9 1146.9 C1712.1 1148.1 1717.4 1149.4 1722.7 1150.8 C1727.9 1152.2 1733.2 1153.7 1738.4 1155.3 C1743.7 1156.8 1749.0 1158.4 1754.2 1160.0 C1759.5 1161.7 1764.7 1163.3 1770.0 1165.0" stroke="#ccccff" stroke-width="3.3"/>
<path d="M1012.6 1089.8 C1017.9 1079.9 1023.1 1070.0 1028.4 1060.4 C1033.6 1050.9 1038.9 1041.7 1044.2 1033.3 C1049.4 1024.9 1054.7 1017.2 1059.9 1010.3 C1065.2 1003.5 1070.5 997.5 1075.7 992.6 C1081.0 987.7 1086.2 983.8 1091.5 981.2 C1096.8 978.6 1102.0 977.2 1107.3 977.3 C1112.5 977.4 1117.8 979.1 1123.1 981.1 C1128.3 983.1 1133.6 985.0 1138.8 987.2 C1144.1 989.5 1149.4 992.3 1154.6 997.1 C1159.9 1001.9 1165.1 1009.3 1170.4 1017.6 C1175.7 1025.9 1180.9 1035.0 1186.2 1042.4 C1191.4 1049.9 1196.7 1055.3 1202.0 1059.1 C1207.2 1062.9 1212.5 1065.1 1217.7 1066.6 C1223.0 1068.1 1228.2 1069.0 1233.5 1069.9 C1238.8 1070.9 1244.0 1072.1 1249.3 1073.9 C1254.5 1075.6 1259.8 1077.7 1265.1 1079.9 C1270.3 1082.1 1275.6 1084.5 1280.8 1086.8 C1286.1 1089.1 1291.4 1091.2 1296.6 1093.1 C1301.9 1095.0 1307.1 1096.6 1312.4 1098.1 C1317.7 1099.5 1322.9 1100.8 1328.2 1102.0 C1333.4 1103.2 1338.7 1104.3 1344.0 1105.3 C1349.2 1106.3 1354.5 1107.3 1359.7 1108.2 C1365.0 1109.2 1370.3 1110.2 1375.5 1111.2 C1380.8 1112.2 1386.0 1113.2 1391.3 1114.1 C1396.6 1115.1 1401.8 1116.1 1407.1 1117.0 C1412.3 1118.0 1417.6 1118.9 1422.9 1119.9 C1428.1 1120.8 1433.4 1121.7 1438.6 1122.5 C1443.9 1123.4 1449.2 1124.3 1454.4 1125.1 C1459.7 1125.9 1464.9 1126.7 1470.2 1127.4 C1475.5 1128.1 1480.7 1128.8 1486.0 1129.5 C1491.2 1130.2 1496.5 1130.8 1501.8 1131.3 C1507.0 1131.9 1512.3 1132.4 1517.5 1132.9 C1522.8 1133.4 1528.1 1133.8 1533.3 1134.3 C1538.6 1134.7 1543.8 1135.1 1549.1 1135.5 C1554.4 1135.9 1559.6 1136.2 1564.9 1136.6 C1570.1 1137.0 1575.4 1137.3 1580.7 1137.7 C1585.9 1138.0 1591.2 1138.4 1596.4 1138.7 C1601.7 1139.1 1606.9 1139.4 1612.2 1139.8 C1617.5 1140.2 1622.7 1140.6 1628.0 1141.0 C1633.2 1141.5 1638.5 1141.9 1643.8 1142.4 C1649.0 1142.9 1654.3 1143.5 1659.5 1144.1 C1664.8 1144.7 1670.1 1145.4 1675.3 1146.1 C1680.6 1146.9 1685.8 1147.7 1691.1 1148.7 C1696.4 1149.6 1701.6 1150.6 1706.9 1151.7 C1712.1 1152.8 1717.4 1154.0 1722.7 1155.3 C1727.9 1156.6 1733.2 1157.9 1738.4 1159.3 C1743.7 1160.7 1749.0 1162.1 1754.2 1163.6 C1759.5 1165.0 1764.7 1166.5 1770.0 1168.0" stroke="#ccccff" stroke-width="3.3"/>
<path d="M1012.6 1113.8 C1017.9 1106.2 1023.1 1098.5 1028.4 1091.1 C1033.6 1083.6 1038.9 1076.4 1044.2 1069.6 C1049.4 1062.8 1054.7 1056.3 1059.9 1050.4 C1065.2 1044.5 1070.5 1039.1 1075.7 1034.4 C1081.0 1029.7 1086.2 1025.7 1091.5 1022.8 C1096.8 1019.9 1102.0 1018.0 1107.3 1017.6 C1112.5 1017.1 1117.8 1017.8 1123.1 1019.5 C1128.3 1021.1 1133.6 1023.6 1138.8 1026.6 C1144.1 1029.5 1149.4 1032.9 1154.6 1036.2 C1159.9 1039.5 1165.1 1042.6 1170.4 1045.4 C1175.7 1048.2 1180.9 1050.8 1186.2 1053.2 C1191.4 1055.7 1196.7 1057.9 1202.0 1060.1 C1207.2 1062.2 1212.5 1064.3 1217.7 1066.3 C1223.0 1068.4 1228.2 1070.4 1233.5 1072.5 C1238.8 1074.6 1244.0 1076.8 1249.3 1079.1 C1254.5 1081.3 1259.8 1083.6 1265.1 1085.9 C1270.3 1088.2 1275.6 1090.5 1280.8 1092.6 C1286.1 1094.8 1291.4 1096.8 1296.6 1098.7 C1301.9 1100.6 1307.1 1102.3 1312.4 1103.8 C1317.7 1105.3 1322.9 1106.6 1328.2 1107.8 C1333.4 1109.0 1338.7 1110.1 1344.0 1111.1 C1349.2 1112.1 1354.5 1113.0 1359.7 1113.8 C1365.0 1114.7 1370.3 1115.5 1375.5 1116.3 C1380.8 1117.1 1386.0 1117.9 1391.3 1118.7 C1396.6 1119.5 1401.8 1120.3 1407.1 1121.2 C1412.3 1122.1 1417.6 1123.1 1422.9 1124.1 C1428.1 1125.0 1433.4 1126.0 1438.6 1127.0 C1443.9 1128.0 1449.2 1129.0 1454.4 1130.0 C1459.7 1130.9 1464.9 1131.9 1470.2 1132.8 C1475.5 1133.7 1480.7 1134.6 1486.0 1135.4 C1491.2 1136.2 1496.5 1136.9 1501.8 1137.6 C1507.0 1138.2 1512.3 1138.9 1517.5 1139.4 C1522.8 1140.0 1528.1 1140.5 1533.3 1141.0 C1538.6 1141.5 1543.8 1142.0 1549.1 1142.4 C1554.4 1142.9 1559.6 1143.3 1564.9 1143.7 C1570.1 1144.1 1575.4 1144.5 1580.7 1145.0 C1585.9 1145.4 1591.2 1145.8 1596.4 1146.3 C1601.7 1146.8 1606.9 1147.3 1612.2 1147.8 C1617.5 1148.3 1622.7 1148.9 1628.0 1149.5 C1633.2 1150.1 1638.5 1150.7 1643.8 1151.4 C1649.0 1152.1 1654.3 1152.8 1659.5 1153.6 C1664.8 1154.3 1670.1 1155.1 1675.3 1156.0 C1680.6 1156.8 1685.8 1157.7 1691.1 1158.7 C1696.4 1159.6 1701.6 1160.6 1706.9 1161.6 C1712.1 1162.6 1717.4 1163.7 1722.7 1164.7 C1727.9 1165.8 1733.2 1166.9 1738.4 1168.1 C1743.7 1169.2 1749.0 1170.3 1754.2 1171.5 C1759.5 1172.7 1764.7 1173.8 1770.0 1175.0" stroke="#ccccff" stroke-width="3.3"/>
<path d="M1012.6 1119.9 C1017.9 1113.2 1023.1 1106.6 1028.4 1100.0 C1033.6 1093.5 1038.9 1087.1 1044.2 1080.9 C1049.4 1074.7 1054.7 1068.8 1059.9 1063.4 C1065.2 1057.9 1070.5 1052.9 1075.7 1048.6 C1081.0 1044.2 1086.2 1040.6 1091.5 1037.6 C1096.8 1034.7 1102.0 1032.5 1107.3 1031.1 C1112.5 1029.6 1117.8 1028.9 1123.1 1028.9 C1128.3 1028.9 1133.6 1029.6 1138.8 1031.1 C1144.1 1032.6 1149.4 1034.9 1154.6 1037.8 C1159.9 1040.7 1165.1 1044.2 1170.4 1047.9 C1175.7 1051.5 1180.9 1055.3 1186.2 1058.9 C1191.4 1062.5 1196.7 1066.0 1202.0 1069.3 C1207.2 1072.6 1212.5 1075.8 1217.7 1078.7 C1223.0 1081.6 1228.2 1084.3 1233.5 1086.8 C1238.8 1089.3 1244.0 1091.6 1249.3 1093.7 C1254.5 1095.9 1259.8 1097.9 1265.1 1099.8 C1270.3 1101.7 1275.6 1103.6 1280.8 1105.3 C1286.1 1107.1 1291.4 1108.8 1296.6 1110.4 C1301.9 1112.1 1307.1 1113.7 1312.4 1115.2 C1317.7 1116.7 1322.9 1118.2 1328.2 1119.6 C1333.4 1120.9 1338.7 1122.3 1344.0 1123.6 C1349.2 1124.8 1354.5 1126.0 1359.7 1127.2 C1365.0 1128.3 1370.3 1129.4 1375.5 1130.5 C1380.8 1131.5 1386.0 1132.5 1391.3 1133.4 C1396.6 1134.3 1401.8 1135.2 1407.1 1136.0 C1412.3 1136.9 1417.6 1137.7 1422.9 1138.4 C1428.1 1139.2 1433.4 1139.9 1438.6 1140.5 C1443.9 1141.2 1449.2 1141.8 1454.4 1142.4 C1459.7 1143.0 1464.9 1143.6 1470.2 1144.1 C1475.5 1144.7 1480.7 1145.2 1486.0 1145.6 C1491.2 1146.1 1496.5 1146.6 1501.8 1147.0 C1507.0 1147.4 1512.3 1147.9 1517.5 1148.3 C1522.8 1148.7 1528.1 1149.0 1533.3 1149.4 C1538.6 1149.8 1543.8 1150.1 1549.1 1150.5 C1554.4 1150.9 1559.6 1151.2 1564.9 1151.6 C1570.1 1151.9 1575.4 1152.3 1580.7 1152.6 C1585.9 1153.0 1591.2 1153.3 1596.4 1153.7 C1601.7 1154.1 1606.9 1154.4 1612.2 1154.8 C1617.5 1155.2 1622.7 1155.6 1628.0 1156.0 C1633.2 1156.5 1638.5 1156.9 1643.8 1157.4 C1649.0 1157.9 1654.3 1158.4 1659.5 1159.0 C1664.8 1159.5 1670.1 1160.1 1675.3 1160.8 C1680.6 1161.4 1685.8 1162.1 1691.1 1162.9 C1696.4 1163.7 1701.6 1164.5 1706.9 1165.4 C1712.1 1166.3 1717.4 1167.2 1722.7 1168.2 C1727.9 1169.2 1733.2 1170.3 1738.4 1171.3 C1743.7 1172.4 1749.0 1173.5 1754.2 1174.6 C1759.5 1175.7 1764.7 1176.9 1770.0 1178.0" stroke="#ccccff" stroke-width="3.3"/>
<path d="M1012.6 1135.4 C1017.9 1127.9 1023.1 1120.5 1028.4 1113.3 C1033.6 1106.1 1038.9 1099.2 1044.2 1092.7 C1049.4 1086.2 1054.7 1080.2 1059.9 1075.0 C1065.2 1069.7 1070.5 1065.2 1075.7 1061.6 C1081.0 1058.0 1086.2 1055.2 1091.5 1052.9 C1096.8 1050.6 1102.0 1048.6 1107.3 1047.0 C1112.5 1045.4 1117.8 1044.1 1123.1 1043.5 C1128.3 1042.9 1133.6 1043.0 1138.8 1043.9 C1144.1 1044.9 1149.4 1046.7 1154.6 1049.8 C1159.9 1052.9 1165.1 1057.3 1170.4 1063.3 C1175.7 1069.3 1180.9 1076.9 1186.2 1083.4 C1191.4 1089.9 1196.7 1094.7 1202.0 1098.2 C1207.2 1101.8 1212.5 1104.2 1217.7 1106.5 C1223.0 1108.7 1228.2 1110.9 1233.5 1113.2 C1238.8 1115.5 1244.0 1117.9 1249.3 1120.2 C1254.5 1122.5 1259.8 1124.7 1265.1 1126.6 C1270.3 1128.6 1275.6 1130.3 1280.8 1131.7 C1286.1 1133.0 1291.4 1134.1 1296.6 1135.0 C1301.9 1135.9 1307.1 1136.6 1312.4 1137.2 C1317.7 1137.8 1322.9 1138.3 1328.2 1138.8 C1333.4 1139.2 1338.7 1139.6 1344.0 1140.0 C1349.2 1140.4 1354.5 1140.8 1359.7 1141.2 C1365.0 1141.5 1370.3 1141.9 1375.5 1142.3 C1380.8 1142.6 1386.0 1143.0 1391.3 1143.4 C1396.6 1143.8 1401.8 1144.3 1407.1 1144.7 C1412.3 1145.2 1417.6 1145.6 1422.9 1146.1 C1428.1 1146.6 1433.4 1147.1 1438.6 1147.6 C1443.9 1148.0 1449.2 1148.5 1454.4 1149.0 C1459.7 1149.5 1464.9 1149.9 1470.2 1150.4 C1475.5 1150.8 1480.7 1151.2 1486.0 1151.6 C1491.2 1152.0 1496.5 1152.3 1501.8 1152.7 C1507.0 1153.0 1512.3 1153.3 1517.5 1153.6 C1522.8 1153.8 1528.1 1154.1 1533.3 1154.3 C1538.6 1154.6 1543.8 1154.8 1549.1 1155.0 C1554.4 1155.3 1559.6 1155.5 1564.9 1155.7 C1570.1 1155.9 1575.4 1156.1 1580.7 1156.4 C1585.9 1156.6 1591.2 1156.8 1596.4 1157.1 C1601.7 1157.3 1606.9 1157.6 1612.2 1157.9 C1617.5 1158.2 1622.7 1158.5 1628.0 1158.8 C1633.2 1159.1 1638.5 1159.5 1643.8 1159.9 C1649.0 1160.3 1654.3 1160.8 1659.5 1161.3 C1664.8 1161.8 1670.1 1162.3 1675.3 1162.9 C1680.6 1163.5 1685.8 1164.2 1691.1 1164.9 C1696.4 1165.7 1701.6 1166.5 1706.9 1167.4 C1712.1 1168.2 1717.4 1169.2 1722.7 1170.2 C1727.9 1171.2 1733.2 1172.2 1738.4 1173.3 C1743.7 1174.4 1749.0 1175.5 1754.2 1176.6 C1759.5 1177.7 1764.7 1178.8 1770.0 1180.0" stroke="#ccccff" stroke-width="3.3"/>
<path d="M1012.6 1095.3 C1017.9 1087.6 1023.1 1079.9 1028.4 1074.2 C1033.6 1068.4 1038.9 1064.8 1044.2 1062.6 C1049.4 1060.4 1054.7 1059.6 1059.9 1059.5 C1065.2 1059.4 1070.5 1059.9 1075.7 1060.9 C1081.0 1061.9 1086.2 1063.3 1091.5 1064.9 C1096.8 1066.6 1102.0 1068.4 1107.3 1070.3 C1112.5 1072.2 1117.8 1074.2 1123.1 1076.5 C1128.3 1078.7 1133.6 1081.2 1138.8 1084.0 C1144.1 1086.8 1149.4 1090.0 1154.6 1093.4 C1159.9 1096.9 1165.1 1100.6 1170.4 1104.1 C1175.7 1107.7 1180.9 1111.1 1186.2 1113.9 C1191.4 1116.7 1196.7 1118.8 1202.0 1120.5 C1207.2 1122.2 1212.5 1123.5 1217.7 1124.7 C1223.0 1125.9 1228.2 1127.0 1233.5 1128.5 C1238.8 1129.9 1244.0 1131.6 1249.3 1133.8 C1254.5 1135.9 1259.8 1138.3 1265.1 1140.7 C1270.3 1143.1 1275.6 1145.5 1280.8 1147.7 C1286.1 1149.9 1291.4 1151.7 1296.6 1153.2 C1301.9 1154.6 1307.1 1155.6 1312.4 1156.4 C1317.7 1157.1 1322.9 1157.6 1328.2 1157.9 C1333.4 1158.3 1338.7 1158.5 1344.0 1158.6 C1349.2 1158.8 1354.5 1159.0 1359.7 1159.2 C1365.0 1159.5 1370.3 1159.9 1375.5 1160.6 C1380.8 1161.3 1386.0 1162.3 1391.3 1163.3 C1396.6 1164.4 1401.8 1165.5 1407.1 1166.5 C1412.3 1167.5 1417.6 1168.3 1422.9 1169.0 C1428.1 1169.7 1433.4 1170.3 1438.6 1170.8 C1443.9 1171.3 1449.2 1171.7 1454.4 1172.0 C1459.7 1172.3 1464.9 1172.6 1470.2 1172.9 C1475.5 1173.1 1480.7 1173.4 1486.0 1173.6 C1491.2 1173.9 1496.5 1174.2 1501.8 1174.5 C1507.0 1174.8 1512.3 1175.1 1517.5 1175.4 C1522.8 1175.7 1528.1 1176.1 1533.3 1176.4 C1538.6 1176.8 1543.8 1177.2 1549.1 1177.5 C1554.4 1177.9 1559.6 1178.3 1564.9 1178.7 C1570.1 1179.0 1575.4 1179.4 1580.7 1179.8 C1585.9 1180.1 1591.2 1180.5 1596.4 1180.9 C1601.7 1181.2 1606.9 1181.6 1612.2 1181.9 C1617.5 1182.2 1622.7 1182.5 1628.0 1182.8 C1633.2 1183.1 1638.5 1183.4 1643.8 1183.6 C1649.0 1183.9 1654.3 1184.1 1659.5 1184.3 C1664.8 1184.5 1670.1 1184.7 1675.3 1184.9 C1680.6 1185.1 1685.8 1185.2 1691.1 1185.4 C1696.4 1185.5 1701.6 1185.7 1706.9 1185.8 C1712.1 1185.9 1717.4 1186.0 1722.7 1186.1 C1727.9 1186.3 1733.2 1186.4 1738.4 1186.5 C1743.7 1186.6 1749.0 1186.6 1754.2 1186.7 C1759.5 1186.8 1764.7 1186.9 1770.0 1187.0" stroke="#ccccff" stroke-width="3.3"/>
<path d="M1012.6 1109.5 C1017.9 1104.4 1023.1 1099.2 1028.4 1094.7 C1033.6 1090.1 1038.9 1086.1 1044.2 1083.1 C1049.4 1080.2 1054.7 1078.1 1059.9 1076.8 C1065.2 1075.5 1070.5 1074.9 1075.7 1074.8 C1081.0 1074.8 1086.2 1075.3 1091.5 1076.2 C1096.8 1077.2 1102.0 1078.5 1107.3 1080.3 C1112.5 1082.0 1117.8 1084.0 1123.1 1086.3 C1128.3 1088.6 1133.6 1091.2 1138.8 1093.9 C1144.1 1096.5 1149.4 1099.3 1154.6 1102.2 C1159.9 1105.0 1165.1 1107.8 1170.4 1110.6 C1175.7 1113.3 1180.9 1115.8 1186.2 1118.0 C1191.4 1120.3 1196.7 1122.1 1202.0 1123.7 C1207.2 1125.2 1212.5 1126.5 1217.7 1127.7 C1223.0 1128.8 1228.2 1129.9 1233.5 1130.9 C1238.8 1131.9 1244.0 1133.0 1249.3 1134.1 C1254.5 1135.2 1259.8 1136.3 1265.1 1137.5 C1270.3 1138.6 1275.6 1139.8 1280.8 1140.9 C1286.1 1142.1 1291.4 1143.2 1296.6 1144.3 C1301.9 1145.4 1307.1 1146.4 1312.4 1147.3 C1317.7 1148.3 1322.9 1149.2 1328.2 1150.1 C1333.4 1150.9 1338.7 1151.7 1344.0 1152.5 C1349.2 1153.3 1354.5 1154.1 1359.7 1154.8 C1365.0 1155.5 1370.3 1156.2 1375.5 1156.9 C1380.8 1157.6 1386.0 1158.3 1391.3 1158.9 C1396.6 1159.6 1401.8 1160.2 1407.1 1160.9 C1412.3 1161.5 1417.6 1162.2 1422.9 1162.8 C1428.1 1163.5 1433.4 1164.1 1438.6 1164.8 C1443.9 1165.4 1449.2 1166.0 1454.4 1166.6 C1459.7 1167.2 1464.9 1167.8 1470.2 1168.3 C1475.5 1168.9 1480.7 1169.5 1486.0 1170.0 C1491.2 1170.5 1496.5 1171.0 1501.8 1171.5 C1507.0 1172.0 1512.3 1172.5 1517.5 1172.9 C1522.8 1173.3 1528.1 1173.8 1533.3 1174.2 C1538.6 1174.6 1543.8 1175.0 1549.1 1175.3 C1554.4 1175.7 1559.6 1176.1 1564.9 1176.4 C1570.1 1176.7 1575.4 1177.1 1580.7 1177.4 C1585.9 1177.7 1591.2 1178.0 1596.4 1178.3 C1601.7 1178.6 1606.9 1178.8 1612.2 1179.1 C1617.5 1179.4 1622.7 1179.6 1628.0 1179.8 C1633.2 1180.1 1638.5 1180.3 1643.8 1180.6 C1649.0 1180.8 1654.3 1181.0 1659.5 1181.2 C1664.8 1181.4 1670.1 1181.6 1675.3 1181.8 C1680.6 1182.0 1685.8 1182.2 1691.1 1182.4 C1696.4 1182.6 1701.6 1182.8 1706.9 1183.0 C1712.1 1183.1 1717.4 1183.3 1722.7 1183.5 C1727.9 1183.7 1733.2 1183.8 1738.4 1184.0 C1743.7 1184.2 1749.0 1184.3 1754.2 1184.5 C1759.5 1184.7 1764.7 1184.8 1770.0 1185.0" stroke="#ccccff" stroke-width="3.3"/>
<path d="M1012.6 1124.7 C1017.9 1120.9 1023.1 1117.0 1028.4 1113.4 C1033.6 1109.8 1038.9 1106.4 1044.2 1103.4 C1049.4 1100.5 1054.7 1098.0 1059.9 1096.1 C1065.2 1094.1 1070.5 1092.7 1075.7 1091.7 C1081.0 1090.7 1086.2 1090.2 1091.5 1090.1 C1096.8 1090.0 1102.0 1090.3 1107.3 1090.9 C1112.5 1091.5 1117.8 1092.4 1123.1 1093.4 C1128.3 1094.5 1133.6 1095.6 1138.8 1096.9 C1144.1 1098.1 1149.4 1099.4 1154.6 1100.7 C1159.9 1102.1 1165.1 1103.5 1170.4 1104.9 C1175.7 1106.2 1180.9 1107.6 1186.2 1109.0 C1191.4 1110.3 1196.7 1111.6 1202.0 1112.9 C1207.2 1114.2 1212.5 1115.4 1217.7 1116.6 C1223.0 1117.8 1228.2 1118.9 1233.5 1120.0 C1238.8 1121.1 1244.0 1122.1 1249.3 1123.1 C1254.5 1124.1 1259.8 1125.0 1265.1 1125.8 C1270.3 1126.7 1275.6 1127.5 1280.8 1128.3 C1286.1 1129.0 1291.4 1129.7 1296.6 1130.4 C1301.9 1131.1 1307.1 1131.7 1312.4 1132.3 C1317.7 1132.9 1322.9 1133.4 1328.2 1133.9 C1333.4 1134.4 1338.7 1134.9 1344.0 1135.4 C1349.2 1135.8 1354.5 1136.2 1359.7 1136.6 C1365.0 1137.0 1370.3 1137.4 1375.5 1137.7 C1380.8 1138.1 1386.0 1138.4 1391.3 1138.7 C1396.6 1139.0 1401.8 1139.2 1407.1 1139.5 C1412.3 1139.7 1417.6 1139.9 1422.9 1140.1 C1428.1 1140.3 1433.4 1140.4 1438.6 1140.6 C1443.9 1140.7 1449.2 1140.9 1454.4 1141.0 C1459.7 1141.1 1464.9 1141.3 1470.2 1141.4 C1475.5 1141.6 1480.7 1141.7 1486.0 1141.9 C1491.2 1142.1 1496.5 1142.2 1501.8 1142.4 C1507.0 1142.7 1512.3 1142.9 1517.5 1143.1 C1522.8 1143.4 1528.1 1143.7 1533.3 1144.0 C1538.6 1144.2 1543.8 1144.6 1549.1 1144.9 C1554.4 1145.2 1559.6 1145.6 1564.9 1145.9 C1570.1 1146.3 1575.4 1146.7 1580.7 1147.1 C1585.9 1147.5 1591.2 1147.9 1596.4 1148.4 C1601.7 1148.8 1606.9 1149.3 1612.2 1149.8 C1617.5 1150.3 1622.7 1150.8 1628.0 1151.3 C1633.2 1151.8 1638.5 1152.3 1643.8 1152.9 C1649.0 1153.5 1654.3 1154.1 1659.5 1154.7 C1664.8 1155.3 1670.1 1156.0 1675.3 1156.7 C1680.6 1157.4 1685.8 1158.1 1691.1 1158.9 C1696.4 1159.7 1701.6 1160.5 1706.9 1161.4 C1712.1 1162.2 1717.4 1163.1 1722.7 1164.1 C1727.9 1165.0 1733.2 1166.0 1738.4 1166.9 C1743.7 1167.9 1749.0 1168.9 1754.2 1169.9 C1759.5 1170.9 1764.7 1172.0 1770.0 1173.0" stroke="#ccccff" stroke-width="3.3"/>
<path d="M1012.4 1111.4 C1017.7 1106.7 1022.9 1102.0 1028.2 1097.5 C1033.4 1093.0 1038.7 1088.6 1044.0 1084.7 C1049.2 1080.7 1054.5 1077.0 1059.7 1074.0 C1065.0 1070.9 1070.3 1068.4 1075.5 1066.7 C1080.8 1064.9 1086.0 1063.8 1091.3 1063.3 C1096.6 1062.7 1101.8 1062.5 1107.1 1062.7 C1112.3 1062.9 1117.6 1063.4 1122.9 1064.1 C1128.1 1064.8 1133.4 1065.7 1138.7 1066.8 C1143.9 1067.8 1149.2 1069.1 1154.4 1070.4 C1159.7 1071.6 1165.0 1073.0 1170.2 1074.3 C1175.5 1075.7 1180.7 1077.0 1186.0 1078.3 C1191.3 1079.7 1196.5 1081.0 1201.8 1082.3 C1207.0 1083.5 1212.3 1084.8 1217.6 1086.1 C1222.8 1087.3 1228.1 1088.5 1233.3 1089.6 C1238.6 1090.7 1243.9 1091.8 1249.1 1092.7 C1254.4 1093.7 1259.6 1094.6 1264.9 1095.5 C1270.2 1096.3 1275.4 1097.2 1280.7 1098.0 C1285.9 1098.8 1291.2 1099.7 1296.5 1100.5 C1301.7 1101.4 1307.0 1102.3 1312.2 1103.2 C1317.5 1104.0 1322.8 1104.9 1328.0 1105.8 C1333.3 1106.6 1338.5 1107.5 1343.8 1108.3 C1349.1 1109.1 1354.3 1109.8 1359.6 1110.5 C1364.8 1111.3 1370.1 1112.0 1375.4 1112.7 C1380.6 1113.3 1385.9 1114.0 1391.2 1114.7 C1396.4 1115.3 1401.7 1116.0 1406.9 1116.6 C1412.2 1117.3 1417.5 1117.9 1422.7 1118.5 C1428.0 1119.2 1433.2 1119.8 1438.5 1120.4 C1443.8 1121.0 1449.0 1121.7 1454.3 1122.3 C1459.5 1122.9 1464.8 1123.5 1470.1 1124.1 C1475.3 1124.8 1480.6 1125.4 1485.8 1126.0 C1491.1 1126.6 1496.4 1127.2 1501.6 1127.8 C1506.9 1128.4 1512.1 1129.0 1517.4 1129.6 C1522.7 1130.2 1527.9 1130.8 1533.2 1131.4 C1538.4 1132.0 1543.7 1132.5 1549.0 1133.1 C1554.2 1133.6 1559.5 1134.2 1564.7 1134.7 C1570.0 1135.2 1575.3 1135.7 1580.5 1136.2 C1585.8 1136.8 1591.0 1137.3 1596.3 1137.8 C1601.6 1138.3 1606.8 1138.8 1612.1 1139.3 C1617.3 1139.9 1622.6 1140.4 1627.9 1141.0 C1633.1 1141.5 1638.4 1142.1 1643.7 1142.7 C1648.9 1143.3 1654.2 1144.0 1659.4 1144.7 C1664.7 1145.4 1670.0 1146.2 1675.2 1147.1 C1680.5 1147.9 1685.7 1148.9 1691.0 1149.9 C1696.3 1150.9 1701.5 1152.1 1706.8 1153.4 C1712.0 1154.6 1717.3 1155.9 1722.6 1157.2 C1727.8 1158.5 1733.1 1159.8 1738.3 1160.9 C1743.6 1162.1 1748.9 1163.2 1754.1 1164.2 C1759.4 1165.3 1764.6 1166.3 1769.9 1167.3" stroke="#ff0000" stroke-width="3.9"/>
<path d="M1012.4 1125.5 C1017.7 1122.1 1022.9 1118.6 1028.2 1115.3 C1033.4 1111.9 1038.7 1108.6 1044.0 1105.4 C1049.2 1102.2 1054.5 1099.2 1059.7 1096.5 C1065.0 1093.8 1070.3 1091.4 1075.5 1089.5 C1080.8 1087.5 1086.0 1086.0 1091.3 1084.8 C1096.6 1083.7 1101.8 1082.9 1107.1 1082.4 C1112.3 1081.9 1117.6 1081.8 1122.9 1081.8 C1128.1 1081.9 1133.4 1082.2 1138.7 1082.6 C1143.9 1083.1 1149.2 1083.7 1154.4 1084.3 C1159.7 1084.9 1165.0 1085.5 1170.2 1086.2 C1175.5 1086.8 1180.7 1087.5 1186.0 1088.1 C1191.3 1088.8 1196.5 1089.4 1201.8 1090.0 C1207.0 1090.7 1212.3 1091.3 1217.6 1091.9 C1222.8 1092.5 1228.1 1093.1 1233.3 1093.8 C1238.6 1094.4 1243.9 1095.1 1249.1 1095.8 C1254.4 1096.5 1259.6 1097.2 1264.9 1097.9 C1270.2 1098.6 1275.4 1099.3 1280.7 1099.9 C1285.9 1100.6 1291.2 1101.3 1296.5 1101.9 C1301.7 1102.5 1307.0 1103.0 1312.2 1103.5 C1317.5 1104.1 1322.8 1104.6 1328.0 1105.1 C1333.3 1105.6 1338.5 1106.1 1343.8 1106.6 C1349.1 1107.1 1354.3 1107.7 1359.6 1108.2 C1364.8 1108.7 1370.1 1109.2 1375.4 1109.8 C1380.6 1110.3 1385.9 1110.8 1391.2 1111.3 C1396.4 1111.8 1401.7 1112.2 1406.9 1112.7 C1412.2 1113.2 1417.5 1113.6 1422.7 1114.1 C1428.0 1114.5 1433.2 1114.9 1438.5 1115.4 C1443.8 1115.8 1449.0 1116.2 1454.3 1116.6 C1459.5 1117.0 1464.8 1117.4 1470.1 1117.8 C1475.3 1118.2 1480.6 1118.7 1485.8 1119.1 C1491.1 1119.5 1496.4 1119.9 1501.6 1120.3 C1506.9 1120.7 1512.1 1121.1 1517.4 1121.5 C1522.7 1121.9 1527.9 1122.3 1533.2 1122.6 C1538.4 1123.0 1543.7 1123.4 1549.0 1123.7 C1554.2 1124.0 1559.5 1124.4 1564.7 1124.7 C1570.0 1125.0 1575.3 1125.3 1580.5 1125.6 C1585.8 1126.0 1591.0 1126.3 1596.3 1126.6 C1601.6 1126.9 1606.8 1127.2 1612.1 1127.6 C1617.3 1127.9 1622.6 1128.3 1627.9 1128.7 C1633.1 1129.1 1638.4 1129.6 1643.7 1130.1 C1648.9 1130.7 1654.2 1131.3 1659.4 1132.1 C1664.7 1132.9 1670.0 1133.8 1675.2 1134.9 C1680.5 1135.9 1685.7 1137.2 1691.0 1138.5 C1696.3 1139.9 1701.5 1141.4 1706.8 1143.1 C1712.0 1144.7 1717.3 1146.4 1722.6 1148.1 C1727.8 1149.8 1733.1 1151.4 1738.3 1152.8 C1743.6 1154.3 1748.9 1155.6 1754.1 1156.9 C1759.4 1158.2 1764.6 1159.4 1769.9 1160.7" stroke="#00ff00" stroke-width="3.9"/>
<path d="M1012.4 1094.8 C1017.7 1077.8 1022.9 1060.8 1028.2 1044.8 C1033.4 1028.7 1038.7 1013.6 1044.0 999.4 C1049.2 985.2 1054.5 971.7 1059.7 962.4 C1065.0 953.1 1070.3 948.0 1075.5 946.2 C1080.8 944.4 1086.0 945.9 1091.3 949.7 C1096.6 953.6 1101.8 960.4 1107.1 968.9 C1112.3 977.5 1117.6 987.2 1122.9 996.0 C1128.1 1004.8 1133.4 1012.7 1138.7 1020.4 C1143.9 1028.1 1149.2 1035.5 1154.4 1042.0 C1159.7 1048.4 1165.0 1054.0 1170.2 1058.8 C1175.5 1063.6 1180.7 1067.8 1186.0 1071.6 C1191.3 1075.4 1196.5 1078.9 1201.8 1082.0 C1207.0 1085.2 1212.3 1088.0 1217.6 1090.6 C1222.8 1093.2 1228.1 1095.6 1233.3 1097.9 C1238.6 1100.3 1243.9 1102.5 1249.1 1104.7 C1254.4 1106.8 1259.6 1108.9 1264.9 1110.9 C1270.2 1112.9 1275.4 1114.8 1280.7 1116.6 C1285.9 1118.4 1291.2 1120.1 1296.5 1121.6 C1301.7 1123.2 1307.0 1124.7 1312.2 1126.0 C1317.5 1127.3 1322.8 1128.5 1328.0 1129.5 C1333.3 1130.6 1338.5 1131.6 1343.8 1132.5 C1349.1 1133.5 1354.3 1134.3 1359.6 1135.2 C1364.8 1136.0 1370.1 1136.8 1375.4 1137.6 C1380.6 1138.3 1385.9 1139.0 1391.2 1139.7 C1396.4 1140.4 1401.7 1141.0 1406.9 1141.6 C1412.2 1142.1 1417.5 1142.6 1422.7 1143.0 C1428.0 1143.5 1433.2 1143.9 1438.5 1144.3 C1443.8 1144.6 1449.0 1145.0 1454.3 1145.3 C1459.5 1145.7 1464.8 1146.0 1470.1 1146.4 C1475.3 1146.8 1480.6 1147.1 1485.8 1147.6 C1491.1 1148.0 1496.4 1148.4 1501.6 1148.9 C1506.9 1149.3 1512.1 1149.8 1517.4 1150.3 C1522.7 1150.8 1527.9 1151.3 1533.2 1151.8 C1538.4 1152.2 1543.7 1152.7 1549.0 1153.1 C1554.2 1153.6 1559.5 1154.0 1564.7 1154.4 C1570.0 1154.9 1575.3 1155.3 1580.5 1155.7 C1585.8 1156.0 1591.0 1156.4 1596.3 1156.8 C1601.6 1157.2 1606.8 1157.6 1612.1 1157.9 C1617.3 1158.3 1622.6 1158.7 1627.9 1159.1 C1633.1 1159.4 1638.4 1159.8 1643.7 1160.3 C1648.9 1160.7 1654.2 1161.2 1659.4 1161.7 C1664.7 1162.3 1670.0 1162.9 1675.2 1163.5 C1680.5 1164.2 1685.7 1164.8 1691.0 1165.5 C1696.3 1166.2 1701.5 1166.9 1706.8 1167.5 C1712.0 1168.2 1717.3 1168.8 1722.6 1169.5 C1727.8 1170.1 1733.1 1170.8 1738.3 1171.6 C1743.6 1172.3 1748.9 1173.1 1754.1 1173.8 C1759.4 1174.6 1764.6 1175.4 1769.9 1176.2" stroke="#0000ff" stroke-width="3.9"/>
</g>
<text transform="translate(31.3 714.8) rotate(-90)" font-size="36.7" text-anchor="middle">Posterior Probability</text>
</svg></body></html>
